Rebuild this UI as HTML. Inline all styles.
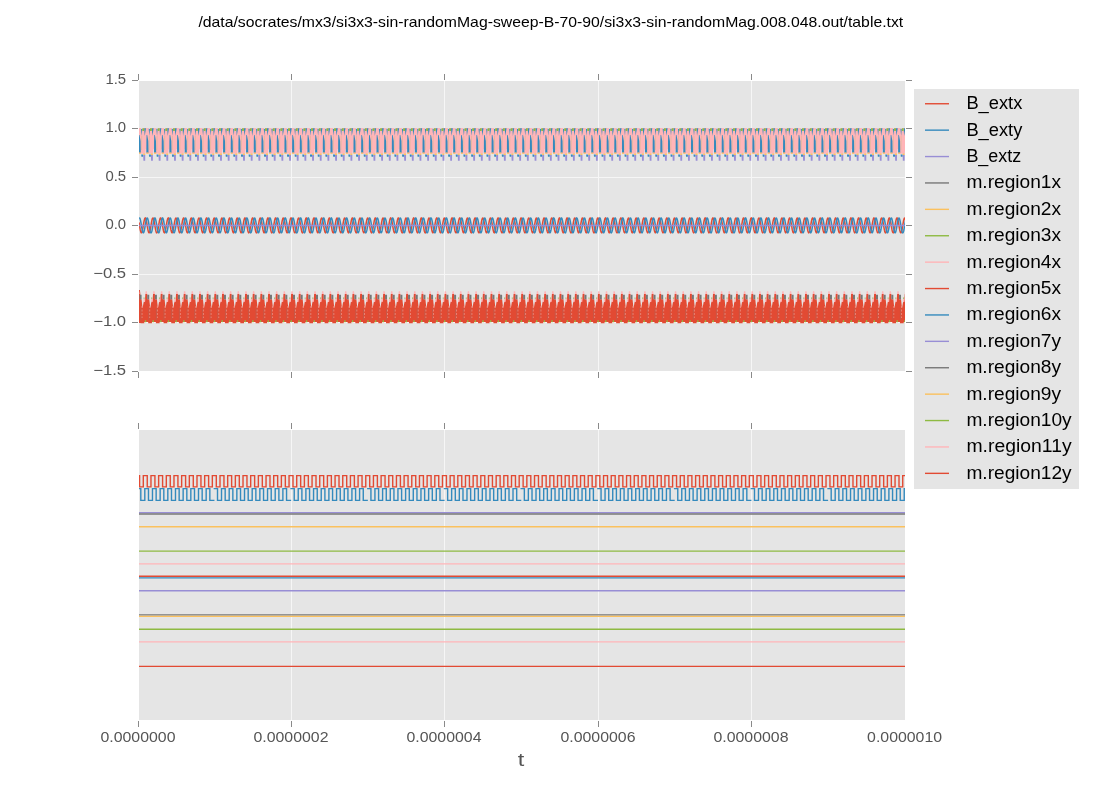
<!DOCTYPE html><html><head><meta charset="utf-8"><style>html,body{margin:0;padding:0;background:#fff;overflow:hidden}svg{display:block}text{font-family:"Liberation Sans",sans-serif}svg{will-change:transform}</style></head><body>
<svg width="1100" height="800" viewBox="0 0 1100 800">
<rect x="0" y="0" width="1100" height="800" fill="#fff"/>
<defs><clipPath id="c1"><rect x="139" y="81" width="766" height="290"/></clipPath><clipPath id="c2"><rect x="139" y="430" width="766" height="290"/></clipPath></defs>
<text x="550.8" y="26.5" font-size="14.6" fill="#000" text-anchor="middle" textLength="704.8" lengthAdjust="spacingAndGlyphs">/data/socrates/mx3/si3x3-sin-randomMag-sweep-B-70-90/si3x3-sin-randomMag.008.048.out/table.txt</text>
<rect x="139" y="81" width="766" height="290" fill="#E5E5E5"/>
<path d="M139 128.5H905M139 177.5H905M139 225.5H905M139 274.5H905M139 322.5H905M291.5 81V371M444.5 81V371M598.5 81V371M751.5 81V371" stroke="#F6F6F6" stroke-width="1" fill="none"/>
<g clip-path="url(#c1)">
<polyline points="139,222.45 139.25,223.9 139.5,225.4 139.75,226.9 140,228.35 140.25,229.67 140.5,230.81 140.75,231.72 141,232.37 141.25,232.73 141.5,232.78 141.75,232.53 142,231.97 142.25,231.15 142.5,230.08 142.75,228.81 143,227.41 143.25,225.92 143.5,224.41 143.75,222.94 144,221.57 144.25,220.36 144.5,219.36 144.75,218.62 145,218.16 145.25,218 145.5,218.15 145.75,218.6 146,219.34 146.25,220.33 146.5,221.53 146.75,222.9 147,224.37 147.25,225.88 147.5,227.37 147.75,228.78 148,230.05 148.25,231.12 148.5,231.96 148.75,232.52 149,232.78 149.25,232.74 149.5,232.38 149.75,231.74 150,230.83 150.25,229.7 150.5,228.38 150.75,226.94 151,225.44 151.25,223.93 151.5,222.49 151.75,221.17 152,220.02 152.25,219.1 152.5,218.44 152.75,218.08 153,218.01 153.25,218.26 153.5,218.81 153.75,219.63 154,220.69 154.25,221.95 154.5,223.35 154.75,224.84 155,226.36 155.25,227.83 155.5,229.2 155.75,230.41 156,231.41 156.25,232.16 156.5,232.63 156.75,232.8 157,232.66 157.25,232.21 157.5,231.48 157.75,230.5 158,229.3 158.25,227.94 158.5,226.47 158.75,224.96 159,223.47 159.25,222.06 159.5,220.78 159.75,219.7 160,218.86 160.25,218.29 160.5,218.02 160.75,218.06 161,218.4 161.25,219.04 161.5,219.94 161.75,221.07 162,222.38 162.25,223.82 162.5,225.32 162.75,226.83 163,228.27 163.25,229.6 163.5,230.75 163.75,231.68 164,232.34 164.25,232.72 164.5,232.79 164.75,232.55 165,232.01 165.25,231.2 165.5,230.14 165.75,228.88 166,227.48 166.25,226 166.5,224.48 166.75,223.01 167,221.64 167.25,220.42 167.5,219.41 167.75,218.65 168,218.18 168.25,218 168.5,218.14 168.75,218.57 169,219.3 169.25,220.28 169.5,221.47 169.75,222.82 170,224.29 170.25,225.8 170.5,227.29 170.75,228.71 171,229.99 171.25,231.07 171.5,231.92 171.75,232.49 172,232.77 172.25,232.75 172.5,232.41 172.75,231.78 173,230.89 173.25,229.76 173.5,228.45 173.75,227.02 174,225.52 174.25,224.01 174.5,222.56 174.75,221.23 175,220.08 175.25,219.14 175.5,218.47 175.75,218.09 176,218.01 176.25,218.24 176.5,218.77 176.75,219.58 177,220.63 177.25,221.88 177.5,223.28 177.75,224.76 178,226.28 178.25,227.75 178.5,229.13 178.75,230.35 179,231.37 179.25,232.13 179.5,232.62 179.75,232.8 180,232.67 180.25,232.24 180.5,231.53 180.75,230.55 181,229.37 181.25,228.01 181.5,226.55 181.75,225.04 182,223.54 182.25,222.13 182.5,220.85 182.75,219.75 183,218.9 183.25,218.32 183.5,218.03 183.75,218.05 184,218.38 184.25,219 184.5,219.89 184.75,221.01 185,222.31 185.25,223.74 185.5,225.24 185.75,226.75 186,228.2 186.25,229.54 186.5,230.7 186.75,231.64 187,232.32 187.25,232.71 187.5,232.79 187.75,232.57 188,232.05 188.25,231.24 188.5,230.2 188.75,228.95 189,227.56 189.25,226.07 189.5,224.56 189.75,223.08 190,221.7 190.25,220.48 190.5,219.46 190.75,218.68 191,218.19 191.25,218 191.5,218.12 191.75,218.54 192,219.25 192.25,220.22 192.5,221.4 192.75,222.75 193,224.21 193.25,225.72 193.5,227.22 193.75,228.64 194,229.92 194.25,231.02 194.5,231.88 194.75,232.47 195,232.77 195.25,232.75 195.5,232.43 195.75,231.82 196,230.94 196.25,229.82 196.5,228.53 196.75,227.1 197,225.6 197.25,224.09 197.5,222.64 197.75,221.3 198,220.13 198.25,219.18 198.5,218.5 198.75,218.1 199,218.01 199.25,218.22 199.5,218.74 199.75,219.53 200,220.57 200.25,221.81 200.5,223.2 200.75,224.69 201,226.2 201.25,227.68 201.5,229.06 201.75,230.29 202,231.32 202.25,232.1 202.5,232.6 202.75,232.8 203,232.69 203.25,232.27 203.5,231.57 203.75,230.61 204,229.43 204.25,228.09 204.5,226.63 204.75,225.12 205,223.62 205.25,222.2 205.5,220.91 205.75,219.81 206,218.94 206.25,218.34 206.5,218.04 206.75,218.04 207,218.35 207.25,218.96 207.5,219.84 207.75,220.94 208,222.24 208.25,223.66 208.5,225.16 208.75,226.67 209,228.13 209.25,229.47 209.5,230.64 209.75,231.59 210,232.29 210.25,232.69 210.5,232.8 210.75,232.59 211,232.08 211.25,231.29 211.5,230.26 211.75,229.02 212,227.63 212.25,226.15 212.5,224.64 212.75,223.16 213,221.77 213.25,220.54 213.5,219.5 213.75,218.72 214,218.21 214.25,218 214.5,218.11 214.75,218.51 215,219.21 215.25,220.16 215.5,221.34 215.75,222.68 216,224.13 216.25,225.64 216.5,227.14 216.75,228.57 217,229.86 217.25,230.97 217.5,231.84 217.75,232.45 218,232.76 218.25,232.76 218.5,232.46 218.75,231.86 219,230.99 219.25,229.89 219.5,228.6 219.75,227.17 220,225.68 220.25,224.17 220.5,222.71 220.75,221.36 221,220.19 221.25,219.23 221.5,218.53 221.75,218.11 222,218 222.25,218.2 222.5,218.7 222.75,219.48 223,220.51 223.25,221.74 223.5,223.13 223.75,224.61 224,226.12 224.25,227.6 224.5,228.99 224.75,230.23 225,231.27 225.25,232.07 225.5,232.58 225.75,232.79 226,232.7 226.25,232.3 226.5,231.61 226.75,230.67 227,229.5 227.25,228.16 227.5,226.71 227.75,225.2 228,223.7 228.25,222.27 228.5,220.97 228.75,219.86 229,218.98 229.25,218.36 229.5,218.04 229.75,218.03 230,218.33 230.25,218.92 230.5,219.78 230.75,220.88 231,222.17 231.25,223.59 231.5,225.08 231.75,226.59 232,228.05 232.25,229.4 232.5,230.59 232.75,231.55 233,232.26 233.25,232.68 233.5,232.8 233.75,232.61 234,232.11 234.25,231.34 234.5,230.32 234.75,229.09 235,227.71 235.25,226.23 235.5,224.72 235.75,223.23 236,221.84 236.25,220.6 236.5,219.55 236.75,218.75 237,218.23 237.25,218.01 237.5,218.09 237.75,218.49 238,219.17 238.25,220.11 238.5,221.27 238.75,222.6 239,224.06 239.25,225.56 239.5,227.06 239.75,228.5 240,229.8 240.25,230.92 240.5,231.8 240.75,232.42 241,232.75 241.25,232.77 241.5,232.48 241.75,231.9 242,231.04 242.25,229.95 242.5,228.67 242.75,227.25 243,225.75 243.25,224.24 243.5,222.78 243.75,221.43 244,220.24 244.25,219.27 244.5,218.56 244.75,218.13 245,218 245.25,218.19 245.5,218.67 245.75,219.44 246,220.45 246.25,221.68 246.5,223.05 246.75,224.53 247,226.04 247.25,227.53 247.5,228.92 247.75,230.17 248,231.22 248.25,232.03 248.5,232.56 248.75,232.79 249,232.71 249.25,232.33 249.5,231.65 249.75,230.72 250,229.56 250.25,228.23 250.5,226.78 250.75,225.28 251,223.77 251.25,222.34 251.5,221.03 251.75,219.91 252,219.02 252.25,218.39 252.5,218.05 252.75,218.03 253,218.31 253.25,218.88 253.5,219.73 253.75,220.82 254,222.1 254.25,223.51 254.5,225.01 254.75,226.52 255,227.98 255.25,229.34 255.5,230.53 255.75,231.51 256,232.23 256.25,232.67 256.5,232.8 256.75,232.62 257,232.15 257.25,231.39 257.5,230.38 257.75,229.16 258,227.78 258.25,226.31 258.5,224.8 258.75,223.31 259,221.91 259.25,220.66 259.5,219.6 259.75,218.79 260,218.25 260.25,218.01 260.5,218.08 260.75,218.46 261,219.12 261.25,220.05 261.5,221.2 261.75,222.53 262,223.98 262.25,225.48 262.5,226.99 262.75,228.42 263,229.73 263.25,230.86 263.5,231.76 263.75,232.4 264,232.74 264.25,232.78 264.5,232.5 264.75,231.93 265,231.09 265.25,230.01 265.5,228.74 265.75,227.33 266,225.83 266.25,224.32 266.5,222.86 266.75,221.5 267,220.3 267.25,219.32 267.5,218.59 267.75,218.14 268,218 268.25,218.17 268.5,218.64 268.75,219.39 269,220.39 269.25,221.61 269.5,222.98 269.75,224.45 270,225.96 270.25,227.45 270.5,228.85 270.75,230.11 271,231.17 271.25,232 271.5,232.54 271.75,232.79 272,232.72 272.25,232.36 272.5,231.7 272.75,230.77 273,229.63 273.25,228.3 273.5,226.86 273.75,225.35 274,223.85 274.25,222.41 274.5,221.1 274.75,219.96 275,219.06 275.25,218.41 275.5,218.06 275.75,218.02 276,218.28 276.25,218.85 276.5,219.68 276.75,220.76 277,222.03 277.25,223.44 277.5,224.93 277.75,226.44 278,227.91 278.25,229.27 278.5,230.47 278.75,231.46 279,232.2 279.25,232.65 279.5,232.8 279.75,232.64 280,232.18 280.25,231.43 280.5,230.43 280.75,229.23 281,227.86 281.25,226.39 281.5,224.88 281.75,223.39 282,221.98 282.25,220.72 282.5,219.65 282.75,218.82 283,218.27 283.25,218.02 283.5,218.07 283.75,218.43 284,219.08 284.25,220 284.5,221.14 284.75,222.46 285,223.9 285.25,225.41 285.5,226.91 285.75,228.35 286,229.67 286.25,230.81 286.5,231.72 286.75,232.37 287,232.73 287.25,232.78 287.5,232.53 287.75,231.97 288,231.14 288.25,230.07 288.5,228.81 288.75,227.4 289,225.91 289.25,224.4 289.5,222.93 289.75,221.56 290,220.36 290.25,219.36 290.5,218.62 290.75,218.16 291,218 291.25,218.15 291.5,218.61 291.75,219.35 292,220.34 292.25,221.54 292.5,222.9 292.75,224.37 293,225.88 293.25,227.38 293.5,228.78 293.75,230.05 294,231.13 294.25,231.96 294.5,232.52 294.75,232.78 295,232.73 295.25,232.38 295.5,231.74 295.75,230.83 296,229.69 296.25,228.38 296.5,226.94 296.75,225.43 297,223.93 297.25,222.48 297.5,221.16 297.75,220.02 298,219.1 298.25,218.44 298.5,218.07 298.75,218.01 299,218.26 299.25,218.81 299.5,219.63 299.75,220.7 300,221.96 300.25,223.36 300.5,224.85 300.75,226.36 301,227.83 301.25,229.2 301.5,230.41 301.75,231.42 302,232.17 302.25,232.63 302.5,232.8 302.75,232.66 303,232.21 303.25,231.48 303.5,230.49 303.75,229.29 304,227.93 304.25,226.47 304.5,224.95 304.75,223.46 305,222.05 305.25,220.78 305.5,219.7 305.75,218.86 306,218.29 306.25,218.02 306.5,218.06 306.75,218.4 307,219.04 307.25,219.94 307.5,221.08 307.75,222.39 308,223.82 308.25,225.33 308.5,226.83 308.75,228.28 309,229.61 309.25,230.76 309.5,231.68 309.75,232.35 310,232.72 310.25,232.79 310.5,232.55 310.75,232.01 311,231.19 311.25,230.13 311.5,228.88 311.75,227.48 312,225.99 312.25,224.48 312.5,223 312.75,221.63 313,220.41 313.25,219.41 313.5,218.65 313.75,218.17 314,218 314.25,218.14 314.5,218.58 314.75,219.3 315,220.28 315.25,221.47 315.5,222.83 315.75,224.29 316,225.81 316.25,227.3 316.5,228.71 316.75,229.99 317,231.07 317.25,231.92 317.5,232.5 317.75,232.77 318,232.74 318.25,232.41 318.5,231.78 318.75,230.88 319,229.76 319.25,228.45 319.5,227.01 319.75,225.51 320,224.01 320.25,222.56 320.5,221.23 320.75,220.07 321,219.14 321.25,218.47 321.5,218.09 321.75,218.01 322,218.24 322.25,218.77 322.5,219.58 322.75,220.64 323,221.89 323.25,223.28 323.5,224.77 323.75,226.28 324,227.76 324.25,229.14 324.5,230.36 324.75,231.37 325,232.13 325.25,232.62 325.5,232.8 325.75,232.67 326,232.24 326.25,231.52 326.5,230.55 326.75,229.36 327,228.01 327.25,226.54 327.5,225.03 327.75,223.54 328,222.12 328.25,220.84 328.5,219.75 328.75,218.9 329,218.31 329.25,218.03 329.5,218.05 329.75,218.38 330,219 330.25,219.89 330.5,221.01 330.75,222.32 331,223.75 331.25,225.25 331.5,226.76 331.75,228.21 332,229.54 332.25,230.7 332.5,231.64 332.75,232.32 333,232.71 333.25,232.79 333.5,232.57 333.75,232.04 334,231.24 334.25,230.19 334.5,228.95 334.75,227.55 335,226.07 335.25,224.56 335.5,223.08 335.75,221.7 336,220.47 336.25,219.45 336.5,218.68 336.75,218.19 337,218 337.25,218.12 337.5,218.55 337.75,219.26 338,220.22 338.25,221.41 338.5,222.76 338.75,224.22 339,225.73 339.25,227.22 339.5,228.64 339.75,229.93 340,231.02 340.25,231.88 340.5,232.47 340.75,232.77 341,232.75 341.25,232.43 341.5,231.82 341.75,230.93 342,229.82 342.25,228.52 342.5,227.09 342.75,225.59 343,224.08 343.25,222.63 343.5,221.29 343.75,220.13 344,219.18 344.25,218.5 344.5,218.1 344.75,218.01 345,218.22 345.25,218.74 345.5,219.54 345.75,220.58 346,221.82 346.25,223.21 346.5,224.69 346.75,226.2 347,227.68 347.25,229.07 347.5,230.3 347.75,231.32 348,232.1 348.25,232.6 348.5,232.8 348.75,232.69 349,232.27 349.25,231.57 349.5,230.61 349.75,229.43 350,228.08 350.25,226.62 350.5,225.11 350.75,223.61 351,222.19 351.25,220.9 351.5,219.8 351.75,218.93 352,218.34 352.25,218.04 352.5,218.04 352.75,218.36 353,218.96 353.25,219.84 353.5,220.95 353.75,222.24 354,223.67 354.25,225.17 354.5,226.68 354.75,228.13 355,229.48 355.25,230.65 355.5,231.6 355.75,232.29 356,232.7 356.25,232.8 356.5,232.59 356.75,232.08 357,231.29 357.25,230.25 357.5,229.02 357.75,227.63 358,226.15 358.25,224.63 358.5,223.15 358.75,221.77 359,220.53 359.25,219.5 359.5,218.72 359.75,218.21 360,218 360.25,218.11 360.5,218.52 360.75,219.21 361,220.17 361.25,221.34 361.5,222.68 361.75,224.14 362,225.65 362.25,227.15 362.5,228.57 362.75,229.87 363,230.97 363.25,231.85 363.5,232.45 363.75,232.76 364,232.76 364.25,232.46 364.5,231.86 364.75,230.99 365,229.88 365.25,228.59 365.5,227.17 365.75,225.67 366,224.16 366.25,222.7 366.5,221.36 366.75,220.18 367,219.22 367.25,218.52 367.5,218.11 367.75,218 368,218.2 368.25,218.71 368.5,219.49 368.75,220.52 369,221.75 369.25,223.13 369.5,224.61 369.75,226.13 370,227.61 370.25,229 370.5,230.24 370.75,231.28 371,232.07 371.25,232.58 371.5,232.79 371.75,232.7 372,232.3 372.25,231.61 372.5,230.66 372.75,229.49 373,228.15 373.25,226.7 373.5,225.19 373.75,223.69 374,222.26 374.25,220.97 374.5,219.85 374.75,218.97 375,218.36 375.25,218.04 375.5,218.03 375.75,218.33 376,218.92 376.25,219.79 376.5,220.89 376.75,222.17 377,223.59 377.25,225.09 377.5,226.6 377.75,228.06 378,229.41 378.25,230.59 378.5,231.55 378.75,232.26 379,232.68 379.25,232.8 379.5,232.6 379.75,232.11 380,231.34 380.25,230.31 380.5,229.09 380.75,227.7 381,226.23 381.25,224.71 381.5,223.23 381.75,221.84 382,220.59 382.25,219.55 382.5,218.75 382.75,218.23 383,218.01 383.25,218.09 383.5,218.49 383.75,219.17 384,220.11 384.25,221.27 384.5,222.61 384.75,224.06 385,225.57 385.25,227.07 385.5,228.5 385.75,229.8 386,230.92 386.25,231.81 386.5,232.43 386.75,232.75 387,232.77 387.25,232.48 387.5,231.89 387.75,231.04 388,229.95 388.25,228.66 388.5,227.24 388.75,225.75 389,224.24 389.25,222.78 389.5,221.42 389.75,220.24 390,219.27 390.25,218.55 390.5,218.13 390.75,218 391,218.19 391.25,218.67 391.5,219.44 391.75,220.46 392,221.68 392.25,223.06 392.5,224.54 392.75,226.05 393,227.53 393.25,228.93 393.5,230.18 393.75,231.23 394,232.03 394.25,232.56 394.5,232.79 394.75,232.71 395,232.33 395.25,231.65 395.5,230.72 395.75,229.56 396,228.23 396.25,226.78 396.5,225.27 396.75,223.77 397,222.33 397.25,221.03 397.5,219.91 397.75,219.01 398,218.39 398.25,218.05 398.5,218.03 398.75,218.31 399,218.89 399.25,219.74 399.5,220.82 399.75,222.1 400,223.52 400.25,225.01 400.5,226.52 400.75,227.99 401,229.34 401.25,230.53 401.5,231.51 401.75,232.23 402,232.67 402.25,232.8 402.5,232.62 402.75,232.14 403,231.38 403.25,230.37 403.5,229.15 403.75,227.78 404,226.3 404.25,224.79 404.5,223.3 404.75,221.91 405,220.65 405.25,219.6 405.5,218.78 405.75,218.25 406,218.01 406.25,218.08 406.5,218.46 406.75,219.13 407,220.06 407.25,221.21 407.5,222.54 407.75,223.98 408,225.49 408.25,226.99 408.5,228.43 408.75,229.74 409,230.87 409.25,231.77 409.5,232.4 409.75,232.74 410,232.78 410.25,232.5 410.5,231.93 410.75,231.09 411,230.01 411.25,228.73 411.5,227.32 411.75,225.83 412,224.32 412.25,222.85 412.5,221.49 412.75,220.29 413,219.31 413.25,218.58 413.5,218.14 413.75,218 414,218.17 414.25,218.64 414.5,219.39 414.75,220.4 415,221.61 415.25,222.98 415.5,224.46 415.75,225.97 416,227.46 416.25,228.86 416.5,230.12 416.75,231.18 417,232 417.25,232.54 417.5,232.79 417.75,232.72 418,232.35 418.25,231.69 418.5,230.77 418.75,229.62 419,228.3 419.25,226.85 419.5,225.35 419.75,223.84 420,222.41 420.25,221.09 420.5,219.96 420.75,219.05 421,218.41 421.25,218.06 421.5,218.02 421.75,218.29 422,218.85 422.25,219.69 422.5,220.76 422.75,222.03 423,223.44 423.25,224.93 423.5,226.45 423.75,227.91 424,229.28 424.25,230.48 424.5,231.47 424.75,232.2 425,232.65 425.25,232.8 425.5,232.64 425.75,232.18 426,231.43 426.25,230.43 426.5,229.22 426.75,227.85 427,226.38 427.25,224.87 427.5,223.38 427.75,221.97 428,220.71 428.25,219.65 428.5,218.82 428.75,218.27 429,218.02 429.25,218.07 429.5,218.43 429.75,219.09 430,220 430.25,221.14 430.5,222.46 430.75,223.91 431,225.41 431.25,226.92 431.5,228.36 431.75,229.68 432,230.81 432.25,231.73 432.5,232.38 432.75,232.73 433,232.78 433.25,232.52 433.5,231.97 433.75,231.14 434,230.07 434.25,228.8 434.5,227.4 434.75,225.91 435,224.39 435.25,222.92 435.5,221.56 435.75,220.35 436,219.36 436.25,218.61 436.5,218.16 436.75,218 437,218.15 437.25,218.61 437.5,219.35 437.75,220.34 438,221.54 438.25,222.91 438.5,224.38 438.75,225.89 439,227.38 439.25,228.79 439.5,230.06 439.75,231.13 440,231.96 440.25,232.52 440.5,232.78 440.75,232.73 441,232.38 441.25,231.73 441.5,230.82 441.75,229.69 442,228.37 442.25,226.93 442.5,225.43 442.75,223.92 443,222.48 443.25,221.16 443.5,220.01 443.75,219.09 444,218.44 444.25,218.07 444.5,218.02 444.75,218.27 445,218.81 445.25,219.64 445.5,220.7 445.75,221.96 446,223.37 446.25,224.85 446.5,226.37 446.75,227.84 447,229.21 447.25,230.42 447.5,231.42 447.75,232.17 448,232.64 448.25,232.8 448.5,232.65 448.75,232.21 449,231.47 449.25,230.49 449.5,229.29 449.75,227.93 450,226.46 450.25,224.95 450.5,223.46 450.75,222.04 451,220.77 451.25,219.7 451.5,218.86 451.75,218.29 452,218.02 452.25,218.06 452.5,218.41 452.75,219.05 453,219.95 453.25,221.08 453.5,222.39 453.75,223.83 454,225.33 454.25,226.84 454.5,228.29 454.75,229.61 455,230.76 455.25,231.69 455.5,232.35 455.75,232.72 456,232.79 456.25,232.55 456.5,232 456.75,231.19 457,230.13 457.25,228.87 457.5,227.47 457.75,225.98 458,224.47 458.25,223 458.5,221.63 458.75,220.41 459,219.4 459.25,218.65 459.5,218.17 459.75,218 460,218.14 460.25,218.58 460.5,219.3 460.75,220.28 461,221.48 461.25,222.84 461.5,224.3 461.75,225.81 462,227.31 462.25,228.72 462.5,230 462.75,231.08 463,231.92 463.25,232.5 463.5,232.78 463.75,232.74 464,232.41 464.25,231.77 464.5,230.88 464.75,229.75 465,228.44 465.25,227.01 465.5,225.51 465.75,224 466,222.55 466.25,221.22 466.5,220.07 466.75,219.14 467,218.47 467.25,218.09 467.5,218.01 467.75,218.24 468,218.78 468.25,219.59 468.5,220.64 468.75,221.89 469,223.29 469.25,224.78 469.5,226.29 469.75,227.76 470,229.14 470.25,230.36 470.5,231.37 470.75,232.14 471,232.62 471.25,232.8 471.5,232.67 471.75,232.24 472,231.52 472.25,230.54 472.5,229.36 472.75,228 473,226.54 473.25,225.03 473.5,223.53 473.75,222.12 474,220.84 474.25,219.75 474.5,218.89 474.75,218.31 475,218.03 475.25,218.05 475.5,218.38 475.75,219.01 476,219.9 476.25,221.02 476.5,222.32 476.75,223.75 477,225.25 477.25,226.76 477.5,228.21 477.75,229.55 478,230.71 478.25,231.64 478.5,232.32 478.75,232.71 479,232.79 479.25,232.57 479.5,232.04 479.75,231.24 480,230.19 480.25,228.94 480.5,227.55 480.75,226.06 481,224.55 481.25,223.07 481.5,221.69 481.75,220.47 482,219.45 482.25,218.68 482.5,218.19 482.75,218 483,218.12 483.25,218.55 483.5,219.26 483.75,220.23 484,221.41 484.25,222.76 484.5,224.22 484.75,225.73 485,227.23 485.25,228.65 485.5,229.93 485.75,231.03 486,231.89 486.25,232.48 486.5,232.77 486.75,232.75 487,232.43 487.25,231.81 487.5,230.93 487.75,229.82 488,228.52 488.25,227.09 488.5,225.58 488.75,224.08 489,222.62 489.25,221.29 489.5,220.12 489.75,219.18 490,218.49 490.25,218.1 490.5,218.01 490.75,218.22 491,218.74 491.25,219.54 491.5,220.58 491.75,221.82 492,223.21 492.25,224.7 492.5,226.21 492.75,227.69 493,229.07 493.25,230.3 493.5,231.33 493.75,232.1 494,232.6 494.25,232.8 494.5,232.68 494.75,232.27 495,231.56 495.25,230.6 495.5,229.42 495.75,228.07 496,226.62 496.25,225.11 496.5,223.61 496.75,222.19 497,220.9 497.25,219.8 497.5,218.93 497.75,218.34 498,218.04 498.25,218.04 498.5,218.36 498.75,218.97 499,219.84 499.25,220.95 499.5,222.25 499.75,223.68 500,225.18 500.25,226.68 500.5,228.14 500.75,229.48 501,230.65 501.25,231.6 501.5,232.29 501.75,232.7 502,232.79 502.25,232.58 502.5,232.07 502.75,231.28 503,230.25 503.25,229.01 503.5,227.62 503.75,226.14 504,224.63 504.25,223.15 504.5,221.76 504.75,220.53 505,219.5 505.25,218.71 505.5,218.21 505.75,218 506,218.11 506.25,218.52 506.5,219.22 506.75,220.17 507,221.35 507.25,222.69 507.5,224.15 507.75,225.65 508,227.15 508.25,228.58 508.5,229.87 508.75,230.98 509,231.85 509.25,232.45 509.5,232.76 509.75,232.76 510,232.46 510.25,231.85 510.5,230.98 510.75,229.88 511,228.59 511.25,227.16 511.5,225.66 511.75,224.15 512,222.7 512.25,221.35 512.5,220.18 512.75,219.22 513,218.52 513.25,218.11 513.5,218 513.75,218.21 514,218.71 514.25,219.49 514.5,220.52 514.75,221.75 515,223.14 515.25,224.62 515.5,226.13 515.75,227.61 516,229 516.25,230.24 516.5,231.28 516.75,232.07 517,232.58 517.25,232.79 517.5,232.7 517.75,232.3 518,231.61 518.25,230.66 518.5,229.49 518.75,228.15 519,226.69 519.25,225.18 519.5,223.69 519.75,222.26 520,220.96 520.25,219.85 520.5,218.97 520.75,218.36 521,218.04 521.25,218.03 521.5,218.33 521.75,218.93 522,219.79 522.25,220.89 522.5,222.18 522.75,223.6 523,225.1 523.25,226.61 523.5,228.07 523.75,229.41 524,230.59 524.25,231.56 524.5,232.26 524.75,232.68 525,232.8 525.25,232.6 525.5,232.11 525.75,231.33 526,230.31 526.25,229.08 526.5,227.7 526.75,226.22 527,224.71 527.25,223.22 527.5,221.83 527.75,220.59 528,219.54 528.25,218.75 528.5,218.23 528.75,218.01 529,218.1 529.25,218.49 529.5,219.17 529.75,220.12 530,221.28 530.25,222.62 530.5,224.07 530.75,225.58 531,227.08 531.25,228.51 531.5,229.81 531.75,230.92 532,231.81 532.25,232.43 532.5,232.75 532.75,232.77 533,232.48 533.25,231.89 533.5,231.03 533.75,229.94 534,228.66 534.25,227.24 534.5,225.74 534.75,224.23 535,222.77 535.25,221.42 535.5,220.23 535.75,219.26 536,218.55 536.25,218.12 536.5,218 536.75,218.19 537,218.68 537.25,219.44 537.5,220.46 537.75,221.69 538,223.06 538.25,224.54 538.5,226.05 538.75,227.54 539,228.93 539.25,230.18 539.5,231.23 539.75,232.04 540,232.56 540.25,232.79 540.5,232.71 540.75,232.32 541,231.65 541.25,230.71 541.5,229.55 541.75,228.22 542,226.77 542.25,225.26 542.5,223.76 542.75,222.33 543,221.02 543.25,219.9 543.5,219.01 543.75,218.38 544,218.05 544.25,218.03 544.5,218.31 544.75,218.89 545,219.74 545.25,220.83 545.5,222.11 545.75,223.52 546,225.02 546.25,226.53 546.5,227.99 546.75,229.35 547,230.54 547.25,231.51 547.5,232.23 547.75,232.67 548,232.8 548.25,232.62 548.5,232.14 548.75,231.38 549,230.37 549.25,229.15 549.5,227.77 549.75,226.3 550,224.79 550.25,223.3 550.5,221.9 550.75,220.65 551,219.59 551.25,218.78 551.5,218.25 551.75,218.01 552,218.08 552.25,218.46 552.5,219.13 552.75,220.06 553,221.21 553.25,222.54 553.5,223.99 553.75,225.5 554,227 554.25,228.44 554.5,229.74 554.75,230.87 555,231.77 555.25,232.4 555.5,232.74 555.75,232.78 556,232.5 556.25,231.93 556.5,231.08 556.75,230 557,228.73 557.25,227.31 557.5,225.82 557.75,224.31 558,222.84 558.25,221.49 558.5,220.29 558.75,219.31 559,218.58 559.25,218.14 559.5,218 559.75,218.17 560,218.64 560.25,219.4 560.5,220.4 560.75,221.62 561,222.99 561.25,224.46 561.5,225.98 561.75,227.46 562,228.87 562.25,230.12 562.5,231.18 562.75,232 563,232.54 563.25,232.79 563.5,232.72 563.75,232.35 564,231.69 564.25,230.77 564.5,229.62 564.75,228.29 565,226.85 565.25,225.34 565.5,223.84 565.75,222.4 566,221.09 566.25,219.95 566.5,219.05 566.75,218.41 567,218.06 567.25,218.02 567.5,218.29 567.75,218.85 568,219.69 568.25,220.77 568.5,222.04 568.75,223.45 569,224.94 569.25,226.45 569.5,227.92 569.75,229.28 570,230.48 570.25,231.47 570.5,232.2 570.75,232.65 571,232.8 571.25,232.64 571.5,232.17 571.75,231.43 572,230.43 572.25,229.22 572.5,227.85 572.75,226.38 573,224.86 573.25,223.37 573.5,221.97 573.75,220.71 574,219.64 574.25,218.82 574.5,218.27 574.75,218.02 575,218.07 575.25,218.44 575.5,219.09 575.75,220.01 576,221.15 576.25,222.47 576.5,223.91 576.75,225.42 577,226.92 577.25,228.36 577.5,229.68 577.75,230.82 578,231.73 578.25,232.38 578.5,232.73 578.75,232.78 579,232.52 579.25,231.97 579.5,231.13 579.75,230.06 580,228.8 580.25,227.39 580.5,225.9 580.75,224.39 581,222.92 581.25,221.55 581.5,220.35 581.75,219.35 582,218.61 582.25,218.15 582.5,218 582.75,218.15 583,218.61 583.25,219.35 583.5,220.35 583.75,221.55 584,222.92 584.25,224.38 584.5,225.9 584.75,227.39 585,228.8 585.25,230.06 585.5,231.13 585.75,231.96 586,232.52 586.25,232.78 586.5,232.73 586.75,232.38 587,231.73 587.25,230.82 587.5,229.68 587.75,228.37 588,226.93 588.25,225.42 588.5,223.92 588.75,222.47 589,221.15 589.25,220.01 589.5,219.09 589.75,218.44 590,218.07 590.25,218.02 590.5,218.27 590.75,218.82 591,219.64 591.25,220.71 591.5,221.97 591.75,223.37 592,224.86 592.25,226.37 592.5,227.84 592.75,229.21 593,230.42 593.25,231.42 593.5,232.17 593.75,232.64 594,232.8 594.25,232.65 594.5,232.2 594.75,231.47 595,230.48 595.25,229.28 595.5,227.92 595.75,226.45 596,224.94 596.25,223.45 596.5,222.04 596.75,220.77 597,219.69 597.25,218.85 597.5,218.29 597.75,218.02 598,218.06 598.25,218.41 598.5,219.05 598.75,219.95 599,221.09 599.25,222.4 599.5,223.84 599.75,225.34 600,226.85 600.25,228.29 600.5,229.62 600.75,230.76 601,231.69 601.25,232.35 601.5,232.72 601.75,232.79 602,232.54 602.25,232 602.5,231.18 602.75,230.12 603,228.87 603.25,227.47 603.5,225.98 603.75,224.47 604,222.99 604.25,221.62 604.5,220.41 604.75,219.4 605,218.64 605.25,218.17 605.5,218 605.75,218.14 606,218.58 606.25,219.31 606.5,220.29 606.75,221.48 607,222.84 607.25,224.31 607.5,225.82 607.75,227.31 608,228.73 608.25,230 608.5,231.08 608.75,231.93 609,232.5 609.25,232.78 609.5,232.74 609.75,232.4 610,231.77 610.25,230.87 610.5,229.75 610.75,228.44 611,227 611.25,225.5 611.5,223.99 611.75,222.55 612,221.22 612.25,220.06 612.5,219.13 612.75,218.46 613,218.08 613.25,218.01 613.5,218.25 613.75,218.78 614,219.59 614.25,220.64 614.5,221.9 614.75,223.3 615,224.78 615.25,226.29 615.5,227.77 615.75,229.15 616,230.37 616.25,231.38 616.5,232.14 616.75,232.62 617,232.8 617.25,232.67 617.5,232.23 617.75,231.52 618,230.54 618.25,229.35 618.5,228 618.75,226.53 619,225.02 619.25,223.53 619.5,222.11 619.75,220.83 620,219.74 620.25,218.89 620.5,218.31 620.75,218.03 621,218.05 621.25,218.38 621.5,219.01 621.75,219.9 622,221.02 622.25,222.33 622.5,223.76 622.75,225.26 623,226.77 623.25,228.22 623.5,229.55 623.75,230.71 624,231.65 624.25,232.32 624.5,232.71 624.75,232.79 625,232.56 625.25,232.04 625.5,231.23 625.75,230.19 626,228.94 626.25,227.54 626.5,226.06 626.75,224.54 627,223.07 627.25,221.69 627.5,220.46 627.75,219.45 628,218.68 628.25,218.19 628.5,218 628.75,218.12 629,218.55 629.25,219.26 629.5,220.23 629.75,221.42 630,222.77 630.25,224.23 630.5,225.74 630.75,227.24 631,228.65 631.25,229.94 631.5,231.03 631.75,231.89 632,232.48 632.25,232.77 632.5,232.75 632.75,232.43 633,231.81 633.25,230.93 633.5,229.81 633.75,228.51 634,227.08 634.25,225.58 634.5,224.07 634.75,222.62 635,221.28 635.25,220.12 635.5,219.17 635.75,218.49 636,218.1 636.25,218.01 636.5,218.23 636.75,218.75 637,219.54 637.25,220.58 637.5,221.83 637.75,223.22 638,224.7 638.25,226.22 638.5,227.7 638.75,229.08 639,230.31 639.25,231.33 639.5,232.11 639.75,232.6 640,232.8 640.25,232.68 640.5,232.26 640.75,231.56 641,230.6 641.25,229.42 641.5,228.07 641.75,226.61 642,225.1 642.25,223.6 642.5,222.18 642.75,220.89 643,219.79 643.25,218.93 643.5,218.33 643.75,218.03 644,218.04 644.25,218.36 644.5,218.97 644.75,219.85 645,220.96 645.25,222.25 645.5,223.68 645.75,225.18 646,226.69 646.25,228.15 646.5,229.49 646.75,230.65 647,231.6 647.25,232.29 647.5,232.7 647.75,232.79 648,232.58 648.25,232.07 648.5,231.28 648.75,230.25 649,229.01 649.25,227.62 649.5,226.14 649.75,224.62 650,223.14 650.25,221.76 650.5,220.52 650.75,219.49 651,218.71 651.25,218.21 651.5,218 651.75,218.11 652,218.52 652.25,219.22 652.5,220.18 652.75,221.35 653,222.69 653.25,224.15 653.5,225.66 653.75,227.16 654,228.58 654.25,229.88 654.5,230.98 654.75,231.85 655,232.45 655.25,232.76 655.5,232.76 655.75,232.45 656,231.85 656.25,230.98 656.5,229.87 656.75,228.58 657,227.16 657.25,225.66 657.5,224.15 657.75,222.69 658,221.35 658.25,220.17 658.5,219.22 658.75,218.52 659,218.11 659.25,218 659.5,218.21 659.75,218.71 660,219.49 660.25,220.53 660.5,221.76 660.75,223.15 661,224.63 661.25,226.14 661.5,227.62 661.75,229.01 662,230.25 662.25,231.28 662.5,232.07 662.75,232.58 663,232.79 663.25,232.7 663.5,232.29 663.75,231.6 664,230.65 664.25,229.48 664.5,228.14 664.75,226.69 665,225.18 665.25,223.68 665.5,222.25 665.75,220.96 666,219.85 666.25,218.97 666.5,218.36 666.75,218.04 667,218.03 667.25,218.33 667.5,218.93 667.75,219.8 668,220.9 668.25,222.18 668.5,223.61 668.75,225.1 669,226.61 669.25,228.07 669.5,229.42 669.75,230.6 670,231.56 670.25,232.27 670.5,232.68 670.75,232.8 671,232.6 671.25,232.11 671.5,231.33 671.75,230.3 672,229.08 672.25,227.69 672.5,226.21 672.75,224.7 673,223.22 673.25,221.83 673.5,220.58 673.75,219.54 674,218.74 674.25,218.23 674.5,218.01 674.75,218.1 675,218.49 675.25,219.18 675.5,220.12 675.75,221.28 676,222.62 676.25,224.07 676.5,225.58 676.75,227.08 677,228.51 677.25,229.81 677.5,230.93 677.75,231.81 678,232.43 678.25,232.75 678.5,232.77 678.75,232.48 679,231.89 679.25,231.03 679.5,229.94 679.75,228.65 680,227.23 680.25,225.74 680.5,224.23 680.75,222.76 681,221.41 681.25,220.23 681.5,219.26 681.75,218.55 682,218.12 682.25,218 682.5,218.19 682.75,218.68 683,219.45 683.25,220.47 683.5,221.69 683.75,223.07 684,224.55 684.25,226.06 684.5,227.54 684.75,228.94 685,230.19 685.25,231.23 685.5,232.04 685.75,232.56 686,232.79 686.25,232.71 686.5,232.32 686.75,231.65 687,230.71 687.25,229.55 687.5,228.22 687.75,226.77 688,225.26 688.25,223.76 688.5,222.32 688.75,221.02 689,219.9 689.25,219.01 689.5,218.38 689.75,218.05 690,218.03 690.25,218.31 690.5,218.89 690.75,219.74 691,220.83 691.25,222.11 691.5,223.53 691.75,225.02 692,226.54 692.25,228 692.5,229.35 692.75,230.54 693,231.52 693.25,232.24 693.5,232.67 693.75,232.8 694,232.62 694.25,232.14 694.5,231.38 694.75,230.36 695,229.14 695.25,227.77 695.5,226.29 695.75,224.78 696,223.29 696.25,221.89 696.5,220.64 696.75,219.59 697,218.78 697.25,218.25 697.5,218.01 697.75,218.08 698,218.46 698.25,219.13 698.5,220.07 698.75,221.22 699,222.55 699.25,224 699.5,225.5 699.75,227.01 700,228.44 700.25,229.75 700.5,230.88 700.75,231.77 701,232.4 701.25,232.74 701.5,232.78 701.75,232.5 702,231.93 702.25,231.08 702.5,230 702.75,228.72 703,227.31 703.25,225.81 703.5,224.3 703.75,222.84 704,221.48 704.25,220.29 704.5,219.31 704.75,218.58 705,218.14 705.25,218 705.5,218.17 705.75,218.65 706,219.4 706.25,220.41 706.5,221.62 706.75,223 707,224.47 707.25,225.98 707.5,227.47 707.75,228.87 708,230.13 708.25,231.19 708.5,232 708.75,232.54 709,232.79 709.25,232.72 709.5,232.35 709.75,231.69 710,230.76 710.25,229.61 710.5,228.29 710.75,226.84 711,225.34 711.25,223.83 711.5,222.4 711.75,221.08 712,219.95 712.25,219.05 712.5,218.41 712.75,218.06 713,218.02 713.25,218.29 713.5,218.86 713.75,219.69 714,220.77 714.25,222.04 714.5,223.45 714.75,224.95 715,226.46 715.25,227.92 715.5,229.29 715.75,230.49 716,231.47 716.25,232.21 716.5,232.65 716.75,232.8 717,232.64 717.25,232.17 717.5,231.42 717.75,230.42 718,229.21 718.25,227.84 718.5,226.37 718.75,224.86 719,223.37 719.25,221.96 719.5,220.7 719.75,219.64 720,218.81 720.25,218.27 720.5,218.02 720.75,218.07 721,218.44 721.25,219.09 721.5,220.01 721.75,221.15 722,222.48 722.25,223.92 722.5,225.42 722.75,226.93 723,228.37 723.25,229.69 723.5,230.82 723.75,231.73 724,232.38 724.25,232.73 724.5,232.78 724.75,232.52 725,231.96 725.25,231.13 725.5,230.06 725.75,228.79 726,227.38 726.25,225.89 726.5,224.38 726.75,222.91 727,221.55 727.25,220.34 727.5,219.35 727.75,218.61 728,218.15 728.25,218 728.5,218.16 728.75,218.61 729,219.36 729.25,220.35 729.5,221.56 729.75,222.92 730,224.39 730.25,225.9 730.5,227.39 730.75,228.8 731,230.07 731.25,231.14 731.5,231.97 731.75,232.52 732,232.78 732.25,232.73 732.5,232.38 732.75,231.73 733,230.82 733.25,229.68 733.5,228.36 733.75,226.92 734,225.42 734.25,223.91 734.5,222.47 734.75,221.15 735,220 735.25,219.09 735.5,218.43 735.75,218.07 736,218.02 736.25,218.27 736.5,218.82 736.75,219.64 737,220.71 737.25,221.97 737.5,223.38 737.75,224.87 738,226.38 738.25,227.85 738.5,229.22 738.75,230.43 739,231.43 739.25,232.17 739.5,232.64 739.75,232.8 740,232.65 740.25,232.2 740.5,231.47 740.75,230.48 741,229.28 741.25,227.92 741.5,226.45 741.75,224.94 742,223.44 742.25,222.03 742.5,220.76 742.75,219.69 743,218.85 743.25,218.29 743.5,218.02 743.75,218.06 744,218.41 744.25,219.05 744.5,219.96 744.75,221.09 745,222.4 745.25,223.84 745.5,225.35 745.75,226.85 746,228.3 746.25,229.62 746.5,230.77 746.75,231.69 747,232.35 747.25,232.72 747.5,232.79 747.75,232.54 748,232 748.25,231.18 748.5,230.12 748.75,228.86 749,227.46 749.25,225.97 749.5,224.46 749.75,222.99 750,221.62 750.25,220.4 750.5,219.4 750.75,218.64 751,218.17 751.25,218 751.5,218.14 751.75,218.58 752,219.31 752.25,220.29 752.5,221.49 752.75,222.85 753,224.31 753.25,225.82 753.5,227.32 753.75,228.73 754,230 754.25,231.09 754.5,231.93 754.75,232.5 755,232.78 755.25,232.74 755.5,232.4 755.75,231.77 756,230.87 756.25,229.74 756.5,228.43 756.75,227 757,225.49 757.25,223.99 757.5,222.54 757.75,221.21 758,220.06 758.25,219.13 758.5,218.46 758.75,218.08 759,218.01 759.25,218.25 759.5,218.78 759.75,219.6 760,220.65 760.25,221.9 760.5,223.3 760.75,224.79 761,226.3 761.25,227.78 761.5,229.15 761.75,230.37 762,231.38 762.25,232.14 762.5,232.62 762.75,232.8 763,232.67 763.25,232.23 763.5,231.51 763.75,230.54 764,229.35 764.25,227.99 764.5,226.53 764.75,225.02 765,223.52 765.25,222.1 765.5,220.83 765.75,219.74 766,218.89 766.25,218.31 766.5,218.03 766.75,218.05 767,218.39 767.25,219.01 767.5,219.9 767.75,221.03 768,222.33 768.25,223.76 768.5,225.27 768.75,226.77 769,228.22 769.25,229.56 769.5,230.71 769.75,231.65 770,232.33 770.25,232.71 770.5,232.79 770.75,232.56 771,232.03 771.25,231.23 771.5,230.18 771.75,228.93 772,227.54 772.25,226.05 772.5,224.54 772.75,223.06 773,221.68 773.25,220.46 773.5,219.44 773.75,218.67 774,218.19 774.25,218 774.5,218.13 774.75,218.55 775,219.27 775.25,220.24 775.5,221.42 775.75,222.77 776,224.24 776.25,225.75 776.5,227.24 776.75,228.66 777,229.94 777.25,231.04 777.5,231.89 777.75,232.48 778,232.77 778.25,232.75 778.5,232.43 778.75,231.81 779,230.92 779.25,229.81 779.5,228.5 779.75,227.07 780,225.57 780.25,224.06 780.5,222.61 780.75,221.28 781,220.11 781.25,219.17 781.5,218.49 781.75,218.1 782,218.01 782.25,218.23 782.5,218.75 782.75,219.55 783,220.59 783.25,221.83 783.5,223.23 783.75,224.71 784,226.22 784.25,227.7 784.5,229.08 784.75,230.31 785,231.33 785.25,232.11 785.5,232.6 785.75,232.8 786,232.68 786.25,232.26 786.5,231.56 786.75,230.59 787,229.41 787.25,228.06 787.5,226.6 787.75,225.09 788,223.6 788.25,222.18 788.5,220.89 788.75,219.79 789,218.93 789.25,218.33 789.5,218.03 789.75,218.04 790,218.36 790.25,218.97 790.5,219.85 790.75,220.96 791,222.26 791.25,223.69 791.5,225.19 791.75,226.7 792,228.15 792.25,229.49 792.5,230.66 792.75,231.61 793,232.3 793.25,232.7 793.5,232.79 793.75,232.58 794,232.07 794.25,231.28 794.5,230.24 794.75,229 795,227.61 795.25,226.13 795.5,224.62 795.75,223.14 796,221.75 796.25,220.52 796.5,219.49 796.75,218.71 797,218.21 797.25,218 797.5,218.11 797.75,218.52 798,219.22 798.25,220.18 798.5,221.36 798.75,222.7 799,224.16 799.25,225.67 799.5,227.16 799.75,228.59 800,229.88 800.25,230.98 800.5,231.86 800.75,232.46 801,232.76 801.25,232.76 801.5,232.45 801.75,231.85 802,230.97 802.25,229.87 802.5,228.58 802.75,227.15 803,225.65 803.25,224.14 803.5,222.69 803.75,221.34 804,220.17 804.25,219.21 804.5,218.52 804.75,218.11 805,218 805.25,218.21 805.5,218.71 805.75,219.5 806,220.53 806.25,221.76 806.5,223.15 806.75,224.63 807,226.14 807.25,227.63 807.5,229.01 807.75,230.25 808,231.29 808.25,232.08 808.5,232.59 808.75,232.8 809,232.7 809.25,232.29 809.5,231.6 809.75,230.65 810,229.48 810.25,228.14 810.5,226.68 810.75,225.17 811,223.67 811.25,222.25 811.5,220.95 811.75,219.84 812,218.96 812.25,218.36 812.5,218.04 812.75,218.04 813,218.34 813.25,218.93 813.5,219.8 813.75,220.9 814,222.19 814.25,223.61 814.5,225.11 814.75,226.62 815,228.08 815.25,229.42 815.5,230.6 815.75,231.56 816,232.27 816.25,232.68 816.5,232.8 816.75,232.6 817,232.1 817.25,231.33 817.5,230.3 817.75,229.07 818,227.69 818.25,226.21 818.5,224.69 818.75,223.21 819,221.82 819.25,220.58 819.5,219.54 819.75,218.74 820,218.22 820.25,218.01 820.5,218.1 820.75,218.49 821,219.18 821.25,220.12 821.5,221.29 821.75,222.63 822,224.08 822.25,225.59 822.5,227.09 822.75,228.52 823,229.82 823.25,230.93 823.5,231.82 823.75,232.43 824,232.75 824.25,232.77 824.5,232.47 824.75,231.89 825,231.03 825.25,229.93 825.5,228.65 825.75,227.23 826,225.73 826.25,224.22 826.5,222.76 826.75,221.41 827,220.23 827.25,219.26 827.5,218.55 827.75,218.12 828,218 828.25,218.19 828.5,218.68 828.75,219.45 829,220.47 829.25,221.7 829.5,223.08 829.75,224.55 830,226.07 830.25,227.55 830.5,228.95 830.75,230.19 831,231.24 831.25,232.04 831.5,232.57 831.75,232.79 832,232.71 832.25,232.32 832.5,231.64 832.75,230.7 833,229.54 833.25,228.21 833.5,226.76 833.75,225.25 834,223.75 834.25,222.32 834.5,221.01 834.75,219.89 835,219 835.25,218.38 835.5,218.05 835.75,218.03 836,218.31 836.25,218.9 836.5,219.75 836.75,220.84 837,222.12 837.25,223.54 837.5,225.03 837.75,226.54 838,228 838.25,229.36 838.5,230.55 838.75,231.52 839,232.24 839.25,232.67 839.5,232.8 839.75,232.62 840,232.14 840.25,231.37 840.5,230.36 840.75,229.14 841,227.76 841.25,226.29 841.5,224.77 841.75,223.29 842,221.89 842.25,220.64 842.5,219.59 842.75,218.78 843,218.24 843.25,218.01 843.5,218.09 843.75,218.47 844,219.14 844.25,220.07 844.5,221.22 844.75,222.55 845,224 845.25,225.51 845.5,227.01 845.75,228.45 846,229.75 846.25,230.88 846.5,231.78 846.75,232.41 847,232.74 847.25,232.78 847.5,232.5 847.75,231.92 848,231.08 848.25,229.99 848.5,228.72 848.75,227.3 849,225.81 849.25,224.3 849.5,222.83 849.75,221.48 850,220.28 850.25,219.3 850.5,218.58 850.75,218.14 851,218 851.25,218.17 851.5,218.65 851.75,219.4 852,220.41 852.25,221.63 852.5,223 852.75,224.48 853,225.99 853.25,227.48 853.5,228.88 853.75,230.13 854,231.19 854.25,232.01 854.5,232.55 854.75,232.79 855,232.72 855.25,232.35 855.5,231.68 855.75,230.76 856,229.61 856.25,228.28 856.5,226.84 856.75,225.33 857,223.83 857.25,222.39 857.5,221.08 857.75,219.95 858,219.04 858.25,218.41 858.5,218.06 858.75,218.02 859,218.29 859.25,218.86 859.5,219.7 859.75,220.78 860,222.05 860.25,223.46 860.5,224.95 860.75,226.46 861,227.93 861.25,229.29 861.5,230.49 861.75,231.48 862,232.21 862.25,232.66 862.5,232.8 862.75,232.64 863,232.17 863.25,231.42 863.5,230.42 863.75,229.21 864,227.84 864.25,226.36 864.5,224.85 864.75,223.36 865,221.96 865.25,220.7 865.5,219.63 865.75,218.81 866,218.26 866.25,218.01 866.5,218.07 866.75,218.44 867,219.1 867.25,220.01 867.5,221.16 867.75,222.48 868,223.92 868.25,225.43 868.5,226.93 868.75,228.37 869,229.69 869.25,230.83 869.5,231.74 869.75,232.38 870,232.73 870.25,232.78 870.5,232.52 870.75,231.96 871,231.13 871.25,230.05 871.5,228.79 871.75,227.38 872,225.89 872.25,224.38 872.5,222.91 872.75,221.54 873,220.34 873.25,219.35 873.5,218.61 873.75,218.15 874,218 874.25,218.16 874.5,218.62 874.75,219.36 875,220.35 875.25,221.56 875.5,222.93 875.75,224.4 876,225.91 876.25,227.4 876.5,228.81 876.75,230.07 877,231.14 877.25,231.97 877.5,232.53 877.75,232.78 878,232.73 878.25,232.37 878.5,231.73 878.75,230.81 879,229.67 879.25,228.35 879.5,226.91 879.75,225.41 880,223.9 880.25,222.46 880.5,221.14 880.75,220 881,219.08 881.25,218.43 881.5,218.07 881.75,218.02 882,218.27 882.25,218.82 882.5,219.65 882.75,220.71 883,221.98 883.25,223.38 883.5,224.87 883.75,226.39 884,227.86 884.25,229.22 884.5,230.43 884.75,231.43 885,232.18 885.25,232.64 885.5,232.8 885.75,232.65 886,232.2 886.25,231.46 886.5,230.47 886.75,229.27 887,227.91 887.25,226.44 887.5,224.93 887.75,223.44 888,222.03 888.25,220.76 888.5,219.68 888.75,218.85 889,218.29 889.25,218.02 889.5,218.06 889.75,218.41 890,219.05 890.25,219.96 890.5,221.1 890.75,222.41 891,223.85 891.25,225.35 891.5,226.86 891.75,228.3 892,229.63 892.25,230.77 892.5,231.7 892.75,232.35 893,232.72 893.25,232.79 893.5,232.54 893.75,232 894,231.18 894.25,230.12 894.5,228.86 894.75,227.45 895,225.97 895.25,224.45 895.5,222.98 895.75,221.61 896,220.4 896.25,219.39 896.5,218.64 896.75,218.17 897,218 897.25,218.14 897.5,218.59 897.75,219.31 898,220.3 898.25,221.49 898.5,222.85 898.75,224.32 899,225.83 899.25,227.32 899.5,228.74 899.75,230.01 900,231.09 900.25,231.93 900.5,232.5 900.75,232.78 901,232.74 901.25,232.4 901.5,231.77 901.75,230.87 902,229.74 902.25,228.43 902.5,226.99 902.75,225.49 903,223.98 903.25,222.53 903.5,221.21 903.75,220.05 904,219.13 904.25,218.46 904.5,218.08 904.75,218.01 905,218.25 905.25,218.79 905.5,219.6 905.75,220.65 906,221.91" fill="none" stroke="#E24A33" stroke-width="1.5"/>
<polyline points="139,218.61 139.25,218.15 139.5,218 139.75,218.15 140,218.61 140.25,219.35 140.5,220.35 140.75,221.55 141,222.92 141.25,224.39 141.5,225.9 141.75,227.39 142,228.8 142.25,230.06 142.5,231.13 142.75,231.97 143,232.52 143.25,232.78 143.5,232.73 143.75,232.38 144,231.73 144.25,230.82 144.5,229.68 144.75,228.36 145,226.92 145.25,225.42 145.5,223.91 145.75,222.47 146,221.15 146.25,220.01 146.5,219.09 146.75,218.44 147,218.07 147.25,218.02 147.5,218.27 147.75,218.82 148,219.64 148.25,220.71 148.5,221.97 148.75,223.37 149,224.86 149.25,226.37 149.5,227.85 149.75,229.21 150,230.42 150.25,231.42 150.5,232.17 150.75,232.64 151,232.8 151.25,232.65 151.5,232.2 151.75,231.47 152,230.48 152.25,229.28 152.5,227.92 152.75,226.45 153,224.94 153.25,223.45 153.5,222.04 153.75,220.77 154,219.69 154.25,218.85 154.5,218.29 154.75,218.02 155,218.06 155.25,218.41 155.5,219.05 155.75,219.95 156,221.09 156.25,222.4 156.5,223.84 156.75,225.34 157,226.85 157.25,228.29 157.5,229.62 157.75,230.77 158,231.69 158.25,232.35 158.5,232.72 158.75,232.79 159,232.54 159.25,232 159.5,231.18 159.75,230.12 160,228.87 160.25,227.46 160.5,225.98 160.75,224.46 161,222.99 161.25,221.62 161.5,220.4 161.75,219.4 162,218.64 162.25,218.17 162.5,218 162.75,218.14 163,218.58 163.25,219.31 163.5,220.29 163.75,221.48 164,222.84 164.25,224.31 164.5,225.82 164.75,227.31 165,228.73 165.25,230 165.5,231.08 165.75,231.93 166,232.5 166.25,232.78 166.5,232.74 166.75,232.4 167,231.77 167.25,230.87 167.5,229.75 167.75,228.44 168,227 168.25,225.5 168.5,223.99 168.75,222.54 169,221.22 169.25,220.06 169.5,219.13 169.75,218.46 170,218.08 170.25,218.01 170.5,218.25 170.75,218.78 171,219.59 171.25,220.65 171.5,221.9 171.75,223.3 172,224.78 172.25,226.3 172.5,227.77 172.75,229.15 173,230.37 173.25,231.38 173.5,232.14 173.75,232.62 174,232.8 174.25,232.67 174.5,232.23 174.75,231.51 175,230.54 175.25,229.35 175.5,227.99 175.75,226.53 176,225.02 176.25,223.53 176.5,222.11 176.75,220.83 177,219.74 177.25,218.89 177.5,218.31 177.75,218.03 178,218.05 178.25,218.38 178.5,219.01 178.75,219.9 179,221.02 179.25,222.33 179.5,223.76 179.75,225.26 180,226.77 180.25,228.22 180.5,229.55 180.75,230.71 181,231.65 181.25,232.32 181.5,232.71 181.75,232.79 182,232.56 182.25,232.04 182.5,231.23 182.75,230.18 183,228.94 183.25,227.54 183.5,226.06 183.75,224.54 184,223.07 184.25,221.69 184.5,220.46 184.75,219.45 185,218.68 185.25,218.19 185.5,218 185.75,218.12 186,218.55 186.25,219.26 186.5,220.23 186.75,221.42 187,222.77 187.25,224.23 187.5,225.74 187.75,227.24 188,228.66 188.25,229.94 188.5,231.03 188.75,231.89 189,232.48 189.25,232.77 189.5,232.75 189.75,232.43 190,231.81 190.25,230.93 190.5,229.81 190.75,228.51 191,227.08 191.25,225.58 191.5,224.07 191.75,222.62 192,221.28 192.25,220.12 192.5,219.17 192.75,218.49 193,218.1 193.25,218.01 193.5,218.23 193.75,218.75 194,219.54 194.25,220.59 194.5,221.83 194.75,223.22 195,224.71 195.25,226.22 195.5,227.7 195.75,229.08 196,230.31 196.25,231.33 196.5,232.11 196.75,232.6 197,232.8 197.25,232.68 197.5,232.26 197.75,231.56 198,230.6 198.25,229.42 198.5,228.07 198.75,226.61 199,225.1 199.25,223.6 199.5,222.18 199.75,220.89 200,219.79 200.25,218.93 200.5,218.33 200.75,218.03 201,218.04 201.25,218.36 201.5,218.97 201.75,219.85 202,220.96 202.25,222.26 202.5,223.68 202.75,225.18 203,226.69 203.25,228.15 203.5,229.49 203.75,230.66 204,231.61 204.25,232.3 204.5,232.7 204.75,232.79 205,232.58 205.25,232.07 205.5,231.28 205.75,230.24 206,229.01 206.25,227.62 206.5,226.13 206.75,224.62 207,223.14 207.25,221.76 207.5,220.52 207.75,219.49 208,218.71 208.25,218.21 208.5,218 208.75,218.11 209,218.52 209.25,219.22 209.5,220.18 209.75,221.35 210,222.7 210.25,224.15 210.5,225.66 210.75,227.16 211,228.59 211.25,229.88 211.5,230.98 211.75,231.85 212,232.45 212.25,232.76 212.5,232.76 212.75,232.45 213,231.85 213.25,230.98 213.5,229.87 213.75,228.58 214,227.15 214.25,225.66 214.5,224.15 214.75,222.69 215,221.35 215.25,220.17 215.5,219.22 215.75,218.52 216,218.11 216.25,218 216.5,218.21 216.75,218.71 217,219.5 217.25,220.53 217.5,221.76 217.75,223.15 218,224.63 218.25,226.14 218.5,227.62 218.75,229.01 219,230.25 219.25,231.28 219.5,232.07 219.75,232.58 220,232.79 220.25,232.7 220.5,232.29 220.75,231.6 221,230.65 221.25,229.48 221.5,228.14 221.75,226.69 222,225.18 222.25,223.68 222.5,222.25 222.75,220.95 223,219.84 223.25,218.97 223.5,218.36 223.75,218.04 224,218.04 224.25,218.34 224.5,218.93 224.75,219.8 225,220.9 225.25,222.18 225.5,223.61 225.75,225.1 226,226.61 226.25,228.07 226.5,229.42 226.75,230.6 227,231.56 227.25,232.27 227.5,232.68 227.75,232.8 228,232.6 228.25,232.1 228.5,231.33 228.75,230.3 229,229.07 229.25,227.69 229.5,226.21 229.75,224.7 230,223.22 230.25,221.82 230.5,220.58 230.75,219.54 231,218.74 231.25,218.23 231.5,218.01 231.75,218.1 232,218.49 232.25,219.18 232.5,220.12 232.75,221.29 233,222.62 233.25,224.08 233.5,225.58 233.75,227.08 234,228.51 234.25,229.81 234.5,230.93 234.75,231.81 235,232.43 235.25,232.75 235.5,232.77 235.75,232.48 236,231.89 236.25,231.03 236.5,229.93 236.75,228.65 237,227.23 237.25,225.73 237.5,224.22 237.75,222.76 238,221.41 238.25,220.23 238.5,219.26 238.75,218.55 239,218.12 239.25,218 239.5,218.19 239.75,218.68 240,219.45 240.25,220.47 240.5,221.69 240.75,223.07 241,224.55 241.25,226.06 241.5,227.55 241.75,228.94 242,230.19 242.25,231.24 242.5,232.04 242.75,232.57 243,232.79 243.25,232.71 243.5,232.32 243.75,231.64 244,230.71 244.25,229.55 244.5,228.21 244.75,226.76 245,225.26 245.25,223.75 245.5,222.32 245.75,221.02 246,219.9 246.25,219.01 246.5,218.38 246.75,218.05 247,218.03 247.25,218.31 247.5,218.89 247.75,219.75 248,220.83 248.25,222.11 248.5,223.53 248.75,225.03 249,226.54 249.25,228 249.5,229.35 249.75,230.54 250,231.52 250.25,232.24 250.5,232.67 250.75,232.8 251,232.62 251.25,232.14 251.5,231.37 251.75,230.36 252,229.14 252.25,227.77 252.5,226.29 252.75,224.78 253,223.29 253.25,221.89 253.5,220.64 253.75,219.59 254,218.78 254.25,218.24 254.5,218.01 254.75,218.08 255,218.46 255.25,219.13 255.5,220.07 255.75,221.22 256,222.55 256.25,224 256.5,225.5 256.75,227.01 257,228.44 257.25,229.75 257.5,230.88 257.75,231.77 258,232.41 258.25,232.74 258.5,232.78 258.75,232.5 259,231.93 259.25,231.08 259.5,230 259.75,228.72 260,227.31 260.25,225.81 260.5,224.3 260.75,222.84 261,221.48 261.25,220.28 261.5,219.3 261.75,218.58 262,218.14 262.25,218 262.5,218.17 262.75,218.65 263,219.4 263.25,220.41 263.5,221.62 263.75,223 264,224.47 264.25,225.98 264.5,227.47 264.75,228.87 265,230.13 265.25,231.19 265.5,232 265.75,232.54 266,232.79 266.25,232.72 266.5,232.35 266.75,231.69 267,230.76 267.25,229.61 267.5,228.29 267.75,226.84 268,225.33 268.25,223.83 268.5,222.39 268.75,221.08 269,219.95 269.25,219.05 269.5,218.41 269.75,218.06 270,218.02 270.25,218.29 270.5,218.86 270.75,219.7 271,220.77 271.25,222.04 271.5,223.45 271.75,224.95 272,226.46 272.25,227.93 272.5,229.29 272.75,230.49 273,231.47 273.25,232.21 273.5,232.65 273.75,232.8 274,232.64 274.25,232.17 274.5,231.42 274.75,230.42 275,229.21 275.25,227.84 275.5,226.37 275.75,224.86 276,223.37 276.25,221.96 276.5,220.7 276.75,219.64 277,218.81 277.25,218.27 277.5,218.02 277.75,218.07 278,218.44 278.25,219.09 278.5,220.01 278.75,221.16 279,222.48 279.25,223.92 279.5,225.43 279.75,226.93 280,228.37 280.25,229.69 280.5,230.82 280.75,231.73 281,232.38 281.25,232.73 281.5,232.78 281.75,232.52 282,231.96 282.25,231.13 282.5,230.06 282.75,228.79 283,227.38 283.25,225.89 283.5,224.38 283.75,222.91 284,221.55 284.25,220.34 284.5,219.35 284.75,218.61 285,218.15 285.25,218 285.5,218.16 285.75,218.61 286,219.36 286.25,220.35 286.5,221.56 286.75,222.92 287,224.39 287.25,225.9 287.5,227.39 287.75,228.8 288,230.07 288.25,231.14 288.5,231.97 288.75,232.52 289,232.78 289.25,232.73 289.5,232.38 289.75,231.73 290,230.82 290.25,229.68 290.5,228.36 290.75,226.92 291,225.41 291.25,223.91 291.5,222.47 291.75,221.15 292,220 292.25,219.09 292.5,218.43 292.75,218.07 293,218.02 293.25,218.27 293.5,218.82 293.75,219.65 294,220.71 294.25,221.97 294.5,223.38 294.75,224.87 295,226.38 295.25,227.85 295.5,229.22 295.75,230.43 296,231.43 296.25,232.17 296.5,232.64 296.75,232.8 297,232.65 297.25,232.2 297.5,231.47 297.75,230.48 298,229.28 298.25,227.91 298.5,226.45 298.75,224.94 299,223.44 299.25,222.03 299.5,220.76 299.75,219.69 300,218.85 300.25,218.29 300.5,218.02 300.75,218.06 301,218.41 301.25,219.05 301.5,219.96 301.75,221.09 302,222.4 302.25,223.84 302.5,225.35 302.75,226.85 303,228.3 303.25,229.62 303.5,230.77 303.75,231.69 304,232.35 304.25,232.72 304.5,232.79 304.75,232.54 305,232 305.25,231.18 305.5,230.12 305.75,228.86 306,227.46 306.25,225.97 306.5,224.46 306.75,222.99 307,221.61 307.25,220.4 307.5,219.4 307.75,218.64 308,218.17 308.25,218 308.5,218.14 308.75,218.58 309,219.31 309.25,220.29 309.5,221.49 309.75,222.85 310,224.31 310.25,225.83 310.5,227.32 310.75,228.73 311,230.01 311.25,231.09 311.5,231.93 311.75,232.5 312,232.78 312.25,232.74 312.5,232.4 312.75,231.77 313,230.87 313.25,229.74 313.5,228.43 313.75,227 314,225.49 314.25,223.99 314.5,222.54 314.75,221.21 315,220.06 315.25,219.13 315.5,218.46 315.75,218.08 316,218.01 316.25,218.25 316.5,218.78 316.75,219.6 317,220.65 317.25,221.9 317.5,223.3 317.75,224.79 318,226.3 318.25,227.78 318.5,229.15 318.75,230.37 319,231.38 319.25,232.14 319.5,232.62 319.75,232.8 320,232.67 320.25,232.23 320.5,231.51 320.75,230.53 321,229.34 321.25,227.99 321.5,226.52 321.75,225.01 322,223.52 322.25,222.1 322.5,220.82 322.75,219.74 323,218.89 323.25,218.31 323.5,218.03 323.75,218.05 324,218.39 324.25,219.01 324.5,219.9 324.75,221.03 325,222.33 325.25,223.77 325.5,225.27 325.75,226.78 326,228.23 326.25,229.56 326.5,230.71 326.75,231.65 327,232.33 327.25,232.71 327.5,232.79 327.75,232.56 328,232.03 328.25,231.23 328.5,230.18 328.75,228.93 329,227.53 329.25,226.05 329.5,224.54 329.75,223.06 330,221.68 330.25,220.46 330.5,219.44 330.75,218.67 331,218.19 331.25,218 331.5,218.13 331.75,218.55 332,219.27 332.25,220.24 332.5,221.42 332.75,222.77 333,224.24 333.25,225.75 333.5,227.24 333.75,228.66 334,229.94 334.25,231.04 334.5,231.89 334.75,232.48 335,232.77 335.25,232.75 335.5,232.43 335.75,231.81 336,230.92 336.25,229.8 336.5,228.5 336.75,227.07 337,225.57 337.25,224.06 337.5,222.61 337.75,221.28 338,220.11 338.25,219.17 338.5,218.49 338.75,218.1 339,218.01 339.25,218.23 339.5,218.75 339.75,219.55 340,220.59 340.25,221.83 340.5,223.23 340.75,224.71 341,226.22 341.25,227.7 341.5,229.08 341.75,230.31 342,231.34 342.25,232.11 342.5,232.6 342.75,232.8 343,232.68 343.25,232.26 343.5,231.56 343.75,230.59 344,229.41 344.25,228.06 344.5,226.6 344.75,225.09 345,223.6 345.25,222.17 345.5,220.89 345.75,219.79 346,218.93 346.25,218.33 346.5,218.03 346.75,218.04 347,218.36 347.25,218.97 347.5,219.85 347.75,220.96 348,222.26 348.25,223.69 348.5,225.19 348.75,226.7 349,228.15 349.25,229.49 349.5,230.66 349.75,231.61 350,232.3 350.25,232.7 350.5,232.79 350.75,232.58 351,232.07 351.25,231.28 351.5,230.24 351.75,229 352,227.61 352.25,226.13 352.5,224.62 352.75,223.14 353,221.75 353.25,220.52 353.5,219.49 353.75,218.71 354,218.2 354.25,218 354.5,218.11 354.75,218.52 355,219.22 355.25,220.18 355.5,221.36 355.75,222.7 356,224.16 356.25,225.67 356.5,227.17 356.75,228.59 357,229.88 357.25,230.99 357.5,231.86 357.75,232.46 358,232.76 358.25,232.76 358.5,232.45 358.75,231.85 359,230.97 359.25,229.87 359.5,228.57 359.75,227.15 360,225.65 360.25,224.14 360.5,222.68 360.75,221.34 361,220.17 361.25,219.21 361.5,218.52 361.75,218.11 362,218 362.25,218.21 362.5,218.71 362.75,219.5 363,220.53 363.25,221.77 363.5,223.15 363.75,224.63 364,226.15 364.25,227.63 364.5,229.02 364.75,230.25 365,231.29 365.25,232.08 365.5,232.59 365.75,232.8 366,232.7 366.25,232.29 366.5,231.6 366.75,230.65 367,229.48 367.25,228.14 367.5,226.68 367.75,225.17 368,223.67 368.25,222.24 368.5,220.95 368.75,219.84 369,218.96 369.25,218.36 369.5,218.04 369.75,218.04 370,218.34 370.25,218.93 370.5,219.8 370.75,220.9 371,222.19 371.25,223.61 371.5,225.11 371.75,226.62 372,228.08 372.25,229.43 372.5,230.6 372.75,231.57 373,232.27 373.25,232.69 373.5,232.8 373.75,232.6 374,232.1 374.25,231.32 374.5,230.3 374.75,229.07 375,227.68 375.25,226.21 375.5,224.69 375.75,223.21 376,221.82 376.25,220.58 376.5,219.54 376.75,218.74 377,218.22 377.25,218.01 377.5,218.1 377.75,218.49 378,219.18 378.25,220.13 378.5,221.29 378.75,222.63 379,224.08 379.25,225.59 379.5,227.09 379.75,228.52 380,229.82 380.25,230.93 380.5,231.82 380.75,232.43 381,232.75 381.25,232.77 381.5,232.47 381.75,231.89 382,231.02 382.25,229.93 382.5,228.65 382.75,227.23 383,225.73 383.25,224.22 383.5,222.76 383.75,221.41 384,220.22 384.25,219.26 384.5,218.55 384.75,218.12 385,218 385.25,218.19 385.5,218.68 385.75,219.45 386,220.47 386.25,221.7 386.5,223.08 386.75,224.55 387,226.07 387.25,227.55 387.5,228.95 387.75,230.19 388,231.24 388.25,232.04 388.5,232.57 388.75,232.79 389,232.71 389.25,232.32 389.5,231.64 389.75,230.7 390,229.54 390.25,228.21 390.5,226.76 390.75,225.25 391,223.75 391.25,222.32 391.5,221.01 391.75,219.89 392,219 392.25,218.38 392.5,218.05 392.75,218.03 393,218.31 393.25,218.9 393.5,219.75 393.75,220.84 394,222.12 394.25,223.54 394.5,225.03 394.75,226.54 395,228.01 395.25,229.36 395.5,230.55 395.75,231.52 396,232.24 396.25,232.67 396.5,232.8 396.75,232.62 397,232.14 397.25,231.37 397.5,230.36 397.75,229.14 398,227.76 398.25,226.28 398.5,224.77 398.75,223.29 399,221.89 399.25,220.64 399.5,219.58 399.75,218.78 400,218.24 400.25,218.01 400.5,218.09 400.75,218.47 401,219.14 401.25,220.07 401.5,221.23 401.75,222.56 402,224 402.25,225.51 402.5,227.01 402.75,228.45 403,229.76 403.25,230.88 403.5,231.78 403.75,232.41 404,232.74 404.25,232.77 404.5,232.5 404.75,231.92 405,231.08 405.25,229.99 405.5,228.72 405.75,227.3 406,225.81 406.25,224.3 406.5,222.83 406.75,221.47 407,220.28 407.25,219.3 407.5,218.58 407.75,218.14 408,218 408.25,218.17 408.5,218.65 408.75,219.41 409,220.41 409.25,221.63 409.5,223 409.75,224.48 410,225.99 410.25,227.48 410.5,228.88 410.75,230.13 411,231.19 411.25,232.01 411.5,232.55 411.75,232.79 412,232.72 412.25,232.35 412.5,231.68 412.75,230.76 413,229.61 413.25,228.28 413.5,226.83 413.75,225.33 414,223.83 414.25,222.39 414.5,221.08 414.75,219.95 415,219.04 415.25,218.41 415.5,218.06 415.75,218.02 416,218.29 416.25,218.86 416.5,219.7 416.75,220.78 417,222.05 417.25,223.46 417.5,224.95 417.75,226.46 418,227.93 418.25,229.29 418.5,230.49 418.75,231.48 419,232.21 419.25,232.66 419.5,232.8 419.75,232.63 420,232.17 420.25,231.42 420.5,230.42 420.75,229.2 421,227.83 421.25,226.36 421.5,224.85 421.75,223.36 422,221.96 422.25,220.7 422.5,219.63 422.75,218.81 423,218.26 423.25,218.01 423.5,218.07 423.75,218.44 424,219.1 424.25,220.02 424.5,221.16 424.75,222.48 425,223.93 425.25,225.43 425.5,226.94 425.75,228.38 426,229.69 426.25,230.83 426.5,231.74 426.75,232.38 427,232.73 427.25,232.78 427.5,232.52 427.75,231.96 428,231.13 428.25,230.05 428.5,228.79 428.75,227.38 429,225.89 429.25,224.37 429.5,222.91 429.75,221.54 430,220.34 430.25,219.35 430.5,218.61 430.75,218.15 431,218 431.25,218.16 431.5,218.62 431.75,219.36 432,220.36 432.25,221.56 432.5,222.93 432.75,224.4 433,225.91 433.25,227.4 433.5,228.81 433.75,230.07 434,231.14 434.25,231.97 434.5,232.53 434.75,232.78 435,232.73 435.25,232.37 435.5,231.72 435.75,230.81 436,229.67 436.25,228.35 436.5,226.91 436.75,225.41 437,223.9 437.25,222.46 437.5,221.14 437.75,220 438,219.08 438.25,218.43 438.5,218.07 438.75,218.02 439,218.27 439.25,218.82 439.5,219.65 439.75,220.72 440,221.98 440.25,223.38 440.5,224.87 440.75,226.39 441,227.86 441.25,229.23 441.5,230.43 441.75,231.43 442,232.18 442.25,232.64 442.5,232.8 442.75,232.65 443,232.2 443.25,231.46 443.5,230.47 443.75,229.27 444,227.91 444.25,226.44 444.5,224.93 444.75,223.44 445,222.03 445.25,220.76 445.5,219.68 445.75,218.85 446,218.29 446.25,218.02 446.5,218.06 446.75,218.41 447,219.06 447.25,219.96 447.5,221.1 447.75,222.41 448,223.85 448.25,225.35 448.5,226.86 448.75,228.3 449,229.63 449.25,230.77 449.5,231.7 449.75,232.36 450,232.72 450.25,232.79 450.5,232.54 450.75,232 451,231.18 451.25,230.11 451.5,228.86 451.75,227.45 452,225.96 452.25,224.45 452.5,222.98 452.75,221.61 453,220.4 453.25,219.39 453.5,218.64 453.75,218.17 454,218 454.25,218.14 454.5,218.59 454.75,219.31 455,220.3 455.25,221.49 455.5,222.85 455.75,224.32 456,225.83 456.25,227.32 456.5,228.74 456.75,230.01 457,231.09 457.25,231.93 457.5,232.5 457.75,232.78 458,232.74 458.25,232.4 458.5,231.76 458.75,230.86 459,229.74 459.25,228.43 459.5,226.99 459.75,225.49 460,223.98 460.25,222.53 460.5,221.21 460.75,220.05 461,219.12 461.25,218.46 461.5,218.08 461.75,218.01 462,218.25 462.25,218.79 462.5,219.6 462.75,220.66 463,221.91 463.25,223.31 463.5,224.8 463.75,226.31 464,227.78 464.25,229.16 464.5,230.38 464.75,231.39 465,232.15 465.25,232.62 465.5,232.8 465.75,232.67 466,232.23 466.25,231.51 466.5,230.53 466.75,229.34 467,227.98 467.25,226.52 467.5,225.01 467.75,223.51 468,222.1 468.25,220.82 468.5,219.73 468.75,218.88 469,218.31 469.25,218.03 469.5,218.05 469.75,218.39 470,219.02 470.25,219.91 470.5,221.03 470.75,222.34 471,223.77 471.25,225.27 471.5,226.78 471.75,228.23 472,229.56 472.25,230.72 472.5,231.65 472.75,232.33 473,232.71 473.25,232.79 473.5,232.56 473.75,232.03 474,231.22 474.25,230.17 474.5,228.93 474.75,227.53 475,226.04 475.25,224.53 475.5,223.05 475.75,221.68 476,220.45 476.25,219.44 476.5,218.67 476.75,218.19 477,218 477.25,218.13 477.5,218.56 477.75,219.27 478,220.24 478.25,221.43 478.5,222.78 478.75,224.24 479,225.75 479.25,227.25 479.5,228.67 479.75,229.95 480,231.04 480.25,231.9 480.5,232.48 480.75,232.77 481,232.75 481.25,232.42 481.5,231.8 481.75,230.92 482,229.8 482.25,228.5 482.5,227.07 482.75,225.57 483,224.06 483.25,222.61 483.5,221.27 483.75,220.11 484,219.17 484.25,218.49 484.5,218.09 484.75,218.01 485,218.23 485.25,218.75 485.5,219.55 485.75,220.6 486,221.84 486.25,223.23 486.5,224.72 486.75,226.23 487,227.71 487.25,229.09 487.5,230.32 487.75,231.34 488,232.11 488.25,232.61 488.5,232.8 488.75,232.68 489,232.26 489.25,231.55 489.5,230.59 489.75,229.41 490,228.06 490.25,226.6 490.5,225.09 490.75,223.59 491,222.17 491.25,220.88 491.5,219.78 491.75,218.92 492,218.33 492.25,218.03 492.5,218.04 492.75,218.36 493,218.98 493.25,219.86 493.5,220.97 493.75,222.27 494,223.7 494.25,225.2 494.5,226.7 494.75,228.16 495,229.5 495.25,230.66 495.5,231.61 495.75,232.3 496,232.7 496.25,232.79 496.5,232.58 496.75,232.07 497,231.27 497.25,230.23 497.5,228.99 497.75,227.6 498,226.12 498.25,224.61 498.5,223.13 498.75,221.74 499,220.51 499.25,219.48 499.5,218.7 499.75,218.2 500,218 500.25,218.11 500.5,218.53 500.75,219.23 501,220.19 501.25,221.36 501.5,222.71 501.75,224.16 502,225.67 502.25,227.17 502.5,228.6 502.75,229.89 503,230.99 503.25,231.86 503.5,232.46 503.75,232.76 504,232.76 504.25,232.45 504.5,231.84 504.75,230.97 505,229.86 505.25,228.57 505.5,227.14 505.75,225.64 506,224.13 506.25,222.68 506.5,221.34 506.75,220.16 507,219.21 507.25,218.51 507.5,218.11 507.75,218 508,218.21 508.25,218.72 508.5,219.5 508.75,220.54 509,221.77 509.25,223.16 509.5,224.64 509.75,226.15 510,227.63 510.25,229.02 510.5,230.26 510.75,231.29 511,232.08 511.25,232.59 511.5,232.8 511.75,232.69 512,232.29 512.25,231.6 512.5,230.64 512.75,229.47 513,228.13 513.25,226.67 513.5,225.17 513.75,223.67 514,222.24 514.25,220.94 514.5,219.84 514.75,218.96 515,218.35 515.25,218.04 515.5,218.04 515.75,218.34 516,218.94 516.25,219.8 516.5,220.91 516.75,222.2 517,223.62 517.25,225.12 517.5,226.63 517.75,228.08 518,229.43 518.25,230.61 518.5,231.57 518.75,232.27 519,232.69 519.25,232.8 519.5,232.6 519.75,232.1 520,231.32 520.25,230.29 520.5,229.06 520.75,227.68 521,226.2 521.25,224.69 521.5,223.2 521.75,221.81 522,220.57 522.25,219.53 522.5,218.74 522.75,218.22 523,218.01 523.25,218.1 523.5,218.5 523.75,219.18 524,220.13 524.25,221.3 524.5,222.63 524.75,224.09 525,225.6 525.25,227.1 525.5,228.52 525.75,229.82 526,230.94 526.25,231.82 526.5,232.43 526.75,232.75 527,232.77 527.25,232.47 527.5,231.88 527.75,231.02 528,229.92 528.25,228.64 528.5,227.22 528.75,225.72 529,224.21 529.25,222.75 529.5,221.4 529.75,220.22 530,219.25 530.25,218.54 530.5,218.12 530.75,218 531,218.19 531.25,218.68 531.5,219.46 531.75,220.48 532,221.7 532.25,223.08 532.5,224.56 532.75,226.07 533,227.56 533.25,228.95 533.5,230.2 533.75,231.24 534,232.04 534.25,232.57 534.5,232.79 534.75,232.71 535,232.32 535.25,231.64 535.5,230.7 535.75,229.54 536,228.2 536.25,226.75 536.5,225.24 536.75,223.74 537,222.31 537.25,221.01 537.5,219.89 537.75,219 538,218.38 538.25,218.05 538.5,218.03 538.75,218.32 539,218.9 539.25,219.75 539.5,220.84 539.75,222.12 540,223.54 540.25,225.04 540.5,226.55 540.75,228.01 541,229.36 541.25,230.55 541.5,231.52 541.75,232.24 542,232.67 542.25,232.8 542.5,232.62 542.75,232.13 543,231.37 543.25,230.35 543.5,229.13 543.75,227.75 544,226.28 544.25,224.77 544.5,223.28 544.75,221.88 545,220.63 545.25,219.58 545.5,218.77 545.75,218.24 546,218.01 546.25,218.09 546.5,218.47 546.75,219.14 547,220.07 547.25,221.23 547.5,222.56 547.75,224.01 548,225.52 548.25,227.02 548.5,228.45 548.75,229.76 549,230.88 549.25,231.78 549.5,232.41 549.75,232.75 550,232.77 550.25,232.5 550.5,231.92 550.75,231.07 551,229.99 551.25,228.71 551.5,227.3 551.75,225.8 552,224.29 552.25,222.83 552.5,221.47 552.75,220.28 553,219.3 553.25,218.57 553.5,218.14 553.75,218 554,218.17 554.25,218.65 554.5,219.41 554.75,220.42 555,221.63 555.25,223.01 555.5,224.48 555.75,225.99 556,227.48 556.25,228.88 556.5,230.14 556.75,231.19 557,232.01 557.25,232.55 557.5,232.79 557.75,232.72 558,232.34 558.25,231.68 558.5,230.75 558.75,229.6 559,228.28 559.25,226.83 559.5,225.32 559.75,223.82 560,222.38 560.25,221.07 560.5,219.94 560.75,219.04 561,218.4 561.25,218.06 561.5,218.02 561.75,218.29 562,218.86 562.25,219.7 562.5,220.78 562.75,222.05 563,223.47 563.25,224.96 563.5,226.47 563.75,227.94 564,229.3 564.25,230.5 564.5,231.48 564.75,232.21 565,232.66 565.25,232.8 565.5,232.63 565.75,232.16 566,231.41 566.25,230.41 566.5,229.2 566.75,227.83 567,226.36 567.25,224.84 567.5,223.36 567.75,221.95 568,220.69 568.25,219.63 568.5,218.81 568.75,218.26 569,218.01 569.25,218.08 569.5,218.44 569.75,219.1 570,220.02 570.25,221.17 570.5,222.49 570.75,223.93 571,225.44 571.25,226.94 571.5,228.38 571.75,229.7 572,230.83 572.25,231.74 572.5,232.38 572.75,232.74 573,232.78 573.25,232.52 573.5,231.96 573.75,231.12 574,230.05 574.25,228.78 574.5,227.37 574.75,225.88 575,224.37 575.25,222.9 575.5,221.54 575.75,220.33 576,219.34 576.25,218.6 576.5,218.15 576.75,218 577,218.16 577.25,218.62 577.5,219.36 577.75,220.36 578,221.57 578.25,222.93 578.5,224.4 578.75,225.92 579,227.41 579.25,228.81 579.5,230.08 579.75,231.15 580,231.97 580.25,232.53 580.5,232.78 580.75,232.73 581,232.37 581.25,231.72 581.5,230.81 581.75,229.67 582,228.35 582.25,226.91 582.5,225.4 582.75,223.9 583,222.45 583.25,221.14 583.5,220 583.75,219.08 584,218.43 584.25,218.07 584.5,218.02 584.75,218.27 585,218.83 585.25,219.65 585.5,220.72 585.75,221.98 586,223.39 586.25,224.88 586.5,226.39 586.75,227.86 587,229.23 587.25,230.44 587.5,231.43 587.75,232.18 588,232.64 588.25,232.8 588.5,232.65 588.75,232.2 589,231.46 589.25,230.47 589.5,229.27 589.75,227.9 590,226.43 590.25,224.92 590.5,223.43 590.75,222.02 591,220.75 591.25,219.68 591.5,218.84 591.75,218.28 592,218.02 592.25,218.06 592.5,218.42 592.75,219.06 593,219.97 593.25,221.1 593.5,222.42 593.75,223.86 594,225.36 594.25,226.86 594.5,228.31 594.75,229.63 595,230.78 595.25,231.7 595.5,232.36 595.75,232.72 596,232.79 596.25,232.54 596.5,231.99 596.75,231.17 597,230.11 597.25,228.85 597.5,227.45 597.75,225.96 598,224.45 598.25,222.97 598.5,221.6 598.75,220.39 599,219.39 599.25,218.64 599.5,218.17 599.75,218 600,218.14 600.25,218.59 600.5,219.32 600.75,220.3 601,221.5 601.25,222.86 601.5,224.33 601.75,225.84 602,227.33 602.25,228.74 602.5,230.02 602.75,231.1 603,231.94 603.25,232.51 603.5,232.78 603.75,232.74 604,232.4 604.25,231.76 604.5,230.86 604.75,229.73 605,228.42 605.25,226.98 605.5,225.48 605.75,223.97 606,222.53 606.25,221.2 606.5,220.05 606.75,219.12 607,218.46 607.25,218.08 607.5,218.01 607.75,218.25 608,218.79 608.25,219.6 608.5,220.66 608.75,221.91 609,223.31 609.25,224.8 609.5,226.31 609.75,227.79 610,229.16 610.25,230.38 610.5,231.39 610.75,232.15 611,232.62 611.25,232.8 611.5,232.67 611.75,232.23 612,231.5 612.25,230.53 612.5,229.33 612.75,227.98 613,226.51 613.25,225 613.5,223.51 613.75,222.09 614,220.82 614.25,219.73 614.5,218.88 614.75,218.31 615,218.03 615.25,218.05 615.5,218.39 615.75,219.02 616,219.91 616.25,221.04 616.5,222.34 616.75,223.78 617,225.28 617.25,226.79 617.5,228.24 617.75,229.57 618,230.72 618.25,231.66 618.5,232.33 618.75,232.71 619,232.79 619.25,232.56 619.5,232.03 619.75,231.22 620,230.17 620.25,228.92 620.5,227.52 620.75,226.04 621,224.52 621.25,223.05 621.5,221.67 621.75,220.45 622,219.43 622.25,218.67 622.5,218.18 622.75,218 623,218.13 623.25,218.56 623.5,219.27 623.75,220.25 624,221.43 624.25,222.79 624.5,224.25 624.75,225.76 625,227.25 625.25,228.67 625.5,229.95 625.75,231.04 626,231.9 626.25,232.48 626.5,232.77 626.75,232.75 627,232.42 627.25,231.8 627.5,230.91 627.75,229.79 628,228.49 628.25,227.06 628.5,225.56 628.75,224.05 629,222.6 629.25,221.27 629.5,220.1 629.75,219.16 630,218.48 630.25,218.09 630.5,218.01 630.75,218.23 631,218.75 631.25,219.55 631.5,220.6 631.75,221.85 632,223.24 632.25,224.72 632.5,226.24 632.75,227.71 633,229.09 633.25,230.32 633.5,231.34 633.75,232.11 634,232.61 634.25,232.8 634.5,232.68 634.75,232.26 635,231.55 635.25,230.58 635.5,229.4 635.75,228.05 636,226.59 636.25,225.08 636.5,223.58 636.75,222.16 637,220.88 637.25,219.78 637.5,218.92 637.75,218.33 638,218.03 638.25,218.05 638.5,218.36 638.75,218.98 639,219.86 639.25,220.97 639.5,222.27 639.75,223.7 640,225.2 640.25,226.71 640.5,228.16 640.75,229.5 641,230.67 641.25,231.61 641.5,232.3 641.75,232.7 642,232.79 642.25,232.58 642.5,232.06 642.75,231.27 643,230.23 643.25,228.99 643.5,227.6 643.75,226.12 644,224.6 644.25,223.12 644.5,221.74 644.75,220.51 645,219.48 645.25,218.7 645.5,218.2 645.75,218 646,218.11 646.25,218.53 646.5,219.23 646.75,220.19 647,221.37 647.25,222.71 647.5,224.17 647.75,225.68 648,227.18 648.25,228.6 648.5,229.89 648.75,230.99 649,231.86 649.25,232.46 649.5,232.76 649.75,232.76 650,232.45 650.25,231.84 650.5,230.97 650.75,229.86 651,228.56 651.25,227.14 651.5,225.64 651.75,224.13 652,222.67 652.25,221.33 652.5,220.16 652.75,219.21 653,218.51 653.25,218.11 653.5,218 653.75,218.21 654,218.72 654.25,219.51 654.5,220.54 654.75,221.78 655,223.16 655.25,224.65 655.5,226.16 655.75,227.64 656,229.03 656.25,230.26 656.5,231.29 656.75,232.08 657,232.59 657.25,232.8 657.5,232.69 657.75,232.29 658,231.59 658.25,230.64 658.5,229.47 658.75,228.12 659,226.67 659.25,225.16 659.5,223.66 659.75,222.23 660,220.94 660.25,219.83 660.5,218.96 660.75,218.35 661,218.04 661.25,218.04 661.5,218.34 661.75,218.94 662,219.81 662.25,220.91 662.5,222.2 662.75,223.62 663,225.12 663.25,226.63 663.5,228.09 663.75,229.44 664,230.61 664.25,231.57 664.5,232.27 664.75,232.69 665,232.8 665.25,232.6 665.5,232.1 665.75,231.32 666,230.29 666.25,229.06 666.5,227.67 666.75,226.19 667,224.68 667.25,223.2 667.5,221.81 667.75,220.57 668,219.53 668.25,218.74 668.5,218.22 668.75,218.01 669,218.1 669.25,218.5 669.5,219.19 669.75,220.13 670,221.3 670.25,222.64 670.5,224.09 670.75,225.6 671,227.1 671.25,228.53 671.5,229.83 671.75,230.94 672,231.82 672.25,232.44 672.5,232.76 672.75,232.77 673,232.47 673.25,231.88 673.5,231.02 673.75,229.92 674,228.63 674.25,227.21 674.5,225.72 674.75,224.21 675,222.75 675.25,221.4 675.5,220.22 675.75,219.25 676,218.54 676.25,218.12 676.5,218 676.75,218.19 677,218.69 677.25,219.46 677.5,220.48 677.75,221.71 678,223.09 678.25,224.57 678.5,226.08 678.75,227.56 679,228.96 679.25,230.2 679.5,231.25 679.75,232.05 680,232.57 680.25,232.79 680.5,232.71 680.75,232.31 681,231.63 681.25,230.69 681.5,229.53 681.75,228.2 682,226.75 682.25,225.24 682.5,223.74 682.75,222.31 683,221 683.25,219.88 683.5,219 683.75,218.38 684,218.05 684.25,218.03 684.5,218.32 684.75,218.9 685,219.76 685.25,220.85 685.5,222.13 685.75,223.55 686,225.04 686.25,226.55 686.5,228.02 686.75,229.37 687,230.56 687.25,231.53 687.5,232.24 687.75,232.67 688,232.8 688.25,232.62 688.5,232.13 688.75,231.36 689,230.35 689.25,229.13 689.5,227.75 689.75,226.27 690,224.76 690.25,223.27 690.5,221.88 690.75,220.63 691,219.58 691.25,218.77 691.5,218.24 691.75,218.01 692,218.09 692.25,218.47 692.5,219.14 692.75,220.08 693,221.24 693.25,222.57 693.5,224.02 693.75,225.52 694,227.02 694.25,228.46 694.5,229.77 694.75,230.89 695,231.78 695.25,232.41 695.5,232.75 695.75,232.77 696,232.49 696.25,231.92 696.5,231.07 696.75,229.98 697,228.71 697.25,227.29 697.5,225.8 697.75,224.28 698,222.82 698.25,221.46 698.5,220.27 698.75,219.29 699,218.57 699.25,218.13 699.5,218 699.75,218.18 700,218.65 700.25,219.41 700.5,220.42 700.75,221.64 701,223.01 701.25,224.49 701.5,226 701.75,227.49 702,228.89 702.25,230.14 702.5,231.2 702.75,232.01 703,232.55 703.25,232.79 703.5,232.72 703.75,232.34 704,231.68 704.25,230.75 704.5,229.6 704.75,228.27 705,226.82 705.25,225.32 705.5,223.81 705.75,222.38 706,221.07 706.25,219.94 706.5,219.04 706.75,218.4 707,218.06 707.25,218.02 707.5,218.3 707.75,218.86 708,219.71 708.25,220.79 708.5,222.06 708.75,223.47 709,224.97 709.25,226.48 709.5,227.94 709.75,229.3 710,230.5 710.25,231.48 710.5,232.21 710.75,232.66 711,232.8 711.25,232.63 711.5,232.16 711.75,231.41 712,230.41 712.25,229.19 712.5,227.82 712.75,226.35 713,224.84 713.25,223.35 713.5,221.95 713.75,220.69 714,219.63 714.25,218.81 714.5,218.26 714.75,218.01 715,218.08 715.25,218.44 715.5,219.1 715.75,220.02 716,221.17 716.25,222.49 716.5,223.94 716.75,225.44 717,226.95 717.25,228.39 717.5,229.7 717.75,230.84 718,231.74 718.25,232.39 718.5,232.74 718.75,232.78 719,232.52 719.25,231.95 719.5,231.12 719.75,230.04 720,228.78 720.25,227.37 720.5,225.87 720.75,224.36 721,222.89 721.25,221.53 721.5,220.33 721.75,219.34 722,218.6 722.25,218.15 722.5,218 722.75,218.16 723,218.62 723.25,219.37 723.5,220.36 723.75,221.57 724,222.94 724.25,224.41 724.5,225.92 724.75,227.41 725,228.82 725.25,230.08 725.5,231.15 725.75,231.98 726,232.53 726.25,232.78 726.5,232.73 726.75,232.37 727,231.72 727.25,230.8 727.5,229.66 727.75,228.34 728,226.9 728.25,225.4 728.5,223.89 728.75,222.45 729,221.13 729.25,219.99 729.5,219.08 729.75,218.43 730,218.07 730.25,218.02 730.5,218.27 730.75,218.83 731,219.66 731.25,220.73 731.5,221.99 731.75,223.4 732,224.89 732.25,226.4 732.5,227.87 732.75,229.24 733,230.44 733.25,231.44 733.5,232.18 733.75,232.64 734,232.8 734.25,232.65 734.5,232.19 734.75,231.46 735,230.46 735.25,229.26 735.5,227.9 735.75,226.43 736,224.92 736.25,223.43 736.5,222.02 736.75,220.75 737,219.68 737.25,218.84 737.5,218.28 737.75,218.02 738,218.07 738.25,218.42 738.5,219.06 738.75,219.97 739,221.11 739.25,222.42 739.5,223.86 739.75,225.37 740,226.87 740.25,228.31 740.5,229.64 740.75,230.78 741,231.7 741.25,232.36 741.5,232.73 741.75,232.79 742,232.54 742.25,231.99 742.5,231.17 742.75,230.1 743,228.85 743.25,227.44 743.5,225.95 743.75,224.44 744,222.97 744.25,221.6 744.5,220.39 744.75,219.38 745,218.63 745.25,218.17 745.5,218 745.75,218.14 746,218.59 746.25,219.32 746.5,220.31 746.75,221.5 747,222.87 747.25,224.33 747.5,225.84 747.75,227.34 748,228.75 748.25,230.02 748.5,231.1 748.75,231.94 749,232.51 749.25,232.78 749.5,232.74 749.75,232.4 750,231.76 750.25,230.86 750.5,229.73 750.75,228.41 751,226.98 751.25,225.47 751.5,223.97 751.75,222.52 752,221.2 752.25,220.05 752.5,219.12 752.75,218.45 753,218.08 753.25,218.01 753.5,218.25 753.75,218.79 754,219.61 754.25,220.66 754.5,221.92 754.75,223.32 755,224.81 755.25,226.32 755.5,227.79 755.75,229.17 756,230.38 756.25,231.39 756.5,232.15 756.75,232.63 757,232.8 757.25,232.66 757.5,232.22 757.75,231.5 758,230.52 758.25,229.33 758.5,227.97 758.75,226.51 759,225 759.25,223.5 759.5,222.09 759.75,220.81 760,219.73 760.25,218.88 760.5,218.3 760.75,218.03 761,218.06 761.25,218.39 761.5,219.02 761.75,219.92 762,221.04 762.25,222.35 762.5,223.78 762.75,225.29 763,226.79 763.25,228.24 763.5,229.57 763.75,230.73 764,231.66 764.25,232.33 764.5,232.71 764.75,232.79 765,232.56 765.25,232.03 765.5,231.22 765.75,230.17 766,228.91 766.25,227.52 766.5,226.03 766.75,224.52 767,223.04 767.25,221.67 767.5,220.44 767.75,219.43 768,218.67 768.25,218.18 768.5,218 768.75,218.13 769,218.56 769.25,219.28 769.5,220.25 769.75,221.44 770,222.79 770.25,224.25 770.5,225.77 770.75,227.26 771,228.68 771.25,229.96 771.5,231.05 771.75,231.9 772,232.49 772.25,232.77 772.5,232.75 772.75,232.42 773,231.8 773.25,230.91 773.5,229.79 773.75,228.49 774,227.05 774.25,225.55 774.5,224.05 774.75,222.59 775,221.26 775.25,220.1 775.5,219.16 775.75,218.48 776,218.09 776.25,218.01 776.5,218.23 776.75,218.76 777,219.56 777.25,220.6 777.5,221.85 777.75,223.25 778,224.73 778.25,226.24 778.5,227.72 778.75,229.1 779,230.33 779.25,231.35 779.5,232.12 779.75,232.61 780,232.8 780.25,232.68 780.5,232.25 780.75,231.54 781,230.58 781.25,229.4 781.5,228.04 781.75,226.58 782,225.07 782.25,223.58 782.5,222.16 782.75,220.87 783,219.78 783.25,218.92 783.5,218.33 783.75,218.03 784,218.05 784.25,218.37 784.5,218.98 784.75,219.86 785,220.98 785.25,222.28 785.5,223.71 785.75,225.21 786,226.72 786.25,228.17 786.5,229.51 786.75,230.67 787,231.62 787.25,232.3 787.5,232.7 787.75,232.79 788,232.58 788.25,232.06 788.5,231.27 788.75,230.23 789,228.98 789.25,227.59 789.5,226.11 789.75,224.6 790,223.12 790.25,221.73 790.5,220.5 790.75,219.48 791,218.7 791.25,218.2 791.5,218 791.75,218.11 792,218.53 792.25,219.23 792.5,220.19 792.75,221.37 793,222.72 793.25,224.18 793.5,225.69 793.75,227.18 794,228.61 794.25,229.9 794.5,231 794.75,231.86 795,232.46 795.25,232.76 795.5,232.76 795.75,232.45 796,231.84 796.25,230.96 796.5,229.85 796.75,228.56 797,227.13 797.25,225.63 797.5,224.12 797.75,222.67 798,221.33 798.25,220.16 798.5,219.2 798.75,218.51 799,218.11 799.25,218 799.5,218.21 799.75,218.72 800,219.51 800.25,220.54 800.5,221.78 800.75,223.17 801,224.65 801.25,226.16 801.5,227.64 801.75,229.03 802,230.27 802.25,231.3 802.5,232.08 802.75,232.59 803,232.8 803.25,232.69 803.5,232.28 803.75,231.59 804,230.63 804.25,229.46 804.5,228.12 804.75,226.66 805,225.15 805.25,223.65 805.5,222.23 805.75,220.94 806,219.83 806.25,218.95 806.5,218.35 806.75,218.04 807,218.04 807.25,218.34 807.5,218.94 807.75,219.81 808,220.92 808.25,222.21 808.5,223.63 808.75,225.13 809,226.64 809.25,228.1 809.5,229.44 809.75,230.62 810,231.58 810.25,232.28 810.5,232.69 810.75,232.8 811,232.6 811.25,232.09 811.5,231.31 811.75,230.28 812,229.05 812.25,227.67 812.5,226.19 812.75,224.68 813,223.19 813.25,221.8 813.5,220.56 813.75,219.53 814,218.73 814.25,218.22 814.5,218.01 814.75,218.1 815,218.5 815.25,219.19 815.5,220.14 815.75,221.31 816,222.64 816.25,224.1 816.5,225.61 816.75,227.11 817,228.54 817.25,229.83 817.5,230.95 817.75,231.83 818,232.44 818.25,232.76 818.5,232.77 818.75,232.47 819,231.88 819.25,231.01 819.5,229.92 819.75,228.63 820,227.21 820.25,225.71 820.5,224.2 820.75,222.74 821,221.39 821.25,220.21 821.5,219.25 821.75,218.54 822,218.12 822.25,218 822.5,218.2 822.75,218.69 823,219.46 823.25,220.49 823.5,221.71 823.75,223.09 824,224.57 824.25,226.09 824.5,227.57 824.75,228.96 825,230.21 825.25,231.25 825.5,232.05 825.75,232.57 826,232.79 826.25,232.71 826.5,232.31 826.75,231.63 827,230.69 827.25,229.53 827.5,228.19 827.75,226.74 828,225.23 828.25,223.73 828.5,222.3 828.75,221 829,219.88 829.25,218.99 829.5,218.37 829.75,218.05 830,218.03 830.25,218.32 830.5,218.9 830.75,219.76 831,220.85 831.25,222.14 831.5,223.55 831.75,225.05 832,226.56 832.25,228.02 832.5,229.37 832.75,230.56 833,231.53 833.25,232.25 833.5,232.67 833.75,232.8 834,232.61 834.25,232.13 834.5,231.36 834.75,230.34 835,229.12 835.25,227.74 835.5,226.27 835.75,224.75 836,223.27 836.25,221.87 836.5,220.62 836.75,219.57 837,218.77 837.25,218.24 837.5,218.01 837.75,218.09 838,218.47 838.25,219.15 838.5,220.08 838.75,221.24 839,222.57 839.25,224.02 839.5,225.53 839.75,227.03 840,228.46 840.25,229.77 840.5,230.89 840.75,231.79 841,232.41 841.25,232.75 841.5,232.77 841.75,232.49 842,231.91 842.25,231.06 842.5,229.98 842.75,228.7 843,227.28 843.25,225.79 843.5,224.28 843.75,222.81 844,221.46 844.25,220.27 844.5,219.29 844.75,218.57 845,218.13 845.25,218 845.5,218.18 845.75,218.66 846,219.42 846.25,220.43 846.5,221.65 846.75,223.02 847,224.49 847.25,226.01 847.5,227.49 847.75,228.89 848,230.15 848.25,231.2 848.5,232.01 848.75,232.55 849,232.79 849.25,232.72 849.5,232.34 849.75,231.67 850,230.74 850.25,229.59 850.5,228.26 850.75,226.82 851,225.31 851.25,223.81 851.5,222.37 851.75,221.06 852,219.93 852.25,219.03 852.5,218.4 852.75,218.06 853,218.02 853.25,218.3 853.5,218.87 853.75,219.71 854,220.79 854.25,222.07 854.5,223.48 854.75,224.97 855,226.48 855.25,227.95 855.5,229.31 855.75,230.5 856,231.49 856.25,232.22 856.5,232.66 856.75,232.8 857,232.63 857.25,232.16 857.5,231.41 857.75,230.4 858,229.19 858.25,227.82 858.5,226.34 858.75,224.83 859,223.34 859.25,221.94 859.5,220.68 859.75,219.62 860,218.8 860.25,218.26 860.5,218.01 860.75,218.08 861,218.45 861.25,219.11 861.5,220.03 861.75,221.18 862,222.5 862.25,223.94 862.5,225.45 862.75,226.95 863,228.39 863.25,229.71 863.5,230.84 863.75,231.75 864,232.39 864.25,232.74 864.5,232.78 864.75,232.51 865,231.95 865.25,231.11 865.5,230.04 865.75,228.77 866,227.36 866.25,225.87 866.5,224.36 866.75,222.89 867,221.53 867.25,220.32 867.5,219.34 867.75,218.6 868,218.15 868.25,218 868.5,218.16 868.75,218.62 869,219.37 869.25,220.37 869.5,221.58 869.75,222.95 870,224.42 870.25,225.93 870.5,227.42 870.75,228.82 871,230.09 871.25,231.15 871.5,231.98 871.75,232.53 872,232.78 872.25,232.73 872.5,232.37 872.75,231.71 873,230.8 873.25,229.66 873.5,228.34 873.75,226.89 874,225.39 874.25,223.88 874.5,222.44 874.75,221.13 875,219.99 875.25,219.07 875.5,218.43 875.75,218.07 876,218.02 876.25,218.28 876.5,218.83 876.75,219.66 877,220.73 877.25,222 877.5,223.4 877.75,224.89 878,226.4 878.25,227.87 878.5,229.24 878.75,230.45 879,231.44 879.25,232.18 879.5,232.64 879.75,232.8 880,232.65 880.25,232.19 880.5,231.45 880.75,230.46 881,229.26 881.25,227.89 881.5,226.42 881.75,224.91 882,223.42 882.25,222.01 882.5,220.74 882.75,219.67 883,218.84 883.25,218.28 883.5,218.02 883.75,218.07 884,218.42 884.25,219.06 884.5,219.97 884.75,221.11 885,222.43 885.25,223.87 885.5,225.37 885.75,226.88 886,228.32 886.25,229.64 886.5,230.79 886.75,231.71 887,232.36 887.25,232.73 887.5,232.79 887.75,232.54 888,231.99 888.25,231.16 888.5,230.1 888.75,228.84 889,227.44 889.25,225.95 889.5,224.43 889.75,222.96 890,221.59 890.25,220.38 890.5,219.38 890.75,218.63 891,218.16 891.25,218 891.5,218.14 891.75,218.59 892,219.33 892.25,220.31 892.5,221.51 892.75,222.87 893,224.34 893.25,225.85 893.5,227.34 893.75,228.75 894,230.02 894.25,231.1 894.5,231.94 894.75,232.51 895,232.78 895.25,232.74 895.5,232.39 895.75,231.76 896,230.85 896.25,229.72 896.5,228.41 896.75,226.97 897,225.47 897.25,223.96 897.5,222.52 897.75,221.19 898,220.04 898.25,219.12 898.5,218.45 898.75,218.08 899,218.01 899.25,218.25 899.5,218.79 899.75,219.61 900,220.67 900.25,221.93 900.5,223.33 900.75,224.81 901,226.33 901.25,227.8 901.5,229.17 901.75,230.39 902,231.4 902.25,232.15 902.5,232.63 902.75,232.8 903,232.66 903.25,232.22 903.5,231.5 903.75,230.52 904,229.32 904.25,227.97 904.5,226.5 904.75,224.99 905,223.5 905.25,222.08 905.5,220.81 905.75,219.72 906,218.88" fill="none" stroke="#348ABD" stroke-width="1.5"/>
<path d="M139 225.4H905" stroke="#988ED5" stroke-width="1.5"/>
<path d="M132.83 128H140.63V153.7H132.83ZM140.5 128H148.3V153.7H140.5ZM148.17 128H155.97V153.7H148.17ZM155.84 128H163.64V153.7H155.84ZM163.51 128H171.31V153.7H163.51ZM171.18 128H178.98V153.7H171.18ZM178.85 128H186.66V153.7H178.85ZM186.53 128H194.33V153.7H186.53ZM194.2 128H202V153.7H194.2ZM201.87 128H209.67V153.7H201.87ZM209.54 128H217.34V153.7H209.54ZM217.21 128H225.01V153.7H217.21ZM224.88 128H232.68V153.7H224.88ZM232.55 128H240.35V153.7H232.55ZM240.22 128H248.02V153.7H240.22ZM247.89 128H255.69V153.7H247.89ZM255.57 128H263.37V153.7H255.57ZM263.24 128H271.04V153.7H263.24ZM270.91 128H278.71V153.7H270.91ZM278.58 128H286.38V153.7H278.58ZM286.25 128H294.05V153.7H286.25ZM293.92 128H301.72V153.7H293.92ZM301.59 128H309.39V153.7H301.59ZM309.26 128H317.06V153.7H309.26ZM316.93 128H324.73V153.7H316.93ZM324.6 128H332.4V153.7H324.6ZM332.28 128H340.07V153.7H332.28ZM339.95 128H347.75V153.7H339.95ZM347.62 128H355.42V153.7H347.62ZM355.29 128H363.09V153.7H355.29ZM362.96 128H370.76V153.7H362.96ZM370.63 128H378.43V153.7H370.63ZM378.3 128H386.1V153.7H378.3ZM385.97 128H393.77V153.7H385.97ZM393.64 128H401.44V153.7H393.64ZM401.31 128H409.11V153.7H401.31ZM408.99 128H416.78V153.7H408.99ZM416.66 128H424.46V153.7H416.66ZM424.33 128H432.13V153.7H424.33ZM432 128H439.8V153.7H432ZM439.67 128H447.47V153.7H439.67ZM447.34 128H455.14V153.7H447.34ZM455.01 128H462.81V153.7H455.01ZM462.68 128H470.48V153.7H462.68ZM470.35 128H478.15V153.7H470.35ZM478.02 128H485.82V153.7H478.02ZM485.7 128H493.5V153.7H485.7ZM493.37 128H501.17V153.7H493.37ZM501.04 128H508.84V153.7H501.04ZM508.71 128H516.51V153.7H508.71ZM516.38 128H524.18V153.7H516.38ZM524.05 128H531.85V153.7H524.05ZM531.72 128H539.52V153.7H531.72ZM539.39 128H547.19V153.7H539.39ZM547.06 128H554.86V153.7H547.06ZM554.73 128H562.53V153.7H554.73ZM562.41 128H570.21V153.7H562.41ZM570.08 128H577.88V153.7H570.08ZM577.75 128H585.55V153.7H577.75ZM585.42 128H593.22V153.7H585.42ZM593.09 128H600.89V153.7H593.09ZM600.76 128H608.56V153.7H600.76ZM608.43 128H616.23V153.7H608.43ZM616.1 128H623.9V153.7H616.1ZM623.77 128H631.57V153.7H623.77ZM631.44 128H639.24V153.7H631.44ZM639.12 128H646.91V153.7H639.12ZM646.79 128H654.59V153.7H646.79ZM654.46 128H662.26V153.7H654.46ZM662.13 128H669.93V153.7H662.13ZM669.8 128H677.6V153.7H669.8ZM677.47 128H685.27V153.7H677.47ZM685.14 128H692.94V153.7H685.14ZM692.81 128H700.61V153.7H692.81ZM700.48 128H708.28V153.7H700.48ZM708.15 128H715.95V153.7H708.15ZM715.83 128H723.62V153.7H715.83ZM723.5 128H731.3V153.7H723.5ZM731.17 128H738.97V153.7H731.17ZM738.84 128H746.64V153.7H738.84ZM746.51 128H754.31V153.7H746.51ZM754.18 128H761.98V153.7H754.18ZM761.85 128H769.65V153.7H761.85ZM769.52 128H777.32V153.7H769.52ZM777.19 128H784.99V153.7H777.19ZM784.86 128H792.66V153.7H784.86ZM792.53 128H800.33V153.7H792.53ZM800.21 128H808.01V153.7H800.21ZM807.88 128H815.68V153.7H807.88ZM815.55 128H823.35V153.7H815.55ZM823.22 128H831.02V153.7H823.22ZM830.89 128H838.69V153.7H830.89ZM838.56 128H846.36V153.7H838.56ZM846.23 128H854.03V153.7H846.23ZM853.9 128H861.7V153.7H853.9ZM861.57 128H869.37V153.7H861.57ZM869.25 128H877.04V153.7H869.25ZM876.92 128H884.72V153.7H876.92ZM884.59 128H892.39V153.7H884.59ZM892.26 128H900.06V153.7H892.26ZM899.93 128H907.73V153.7H899.93ZM907.6 128H915.4V153.7H907.6Z" fill="#FFB5B8"/>
<path d="M134.03 136L133.83 150M141.7 136L141.5 150M149.37 136L149.17 150M157.04 136L156.84 150M164.71 136L164.51 150M172.38 136L172.18 150M180.06 136L179.85 150M187.73 136L187.53 150M195.4 136L195.2 150M203.07 136L202.87 150M210.74 136L210.54 150M218.41 136L218.21 150M226.08 136L225.88 150M233.75 136L233.55 150M241.42 136L241.22 150M249.09 136L248.89 150M256.77 136L256.57 150M264.44 136L264.24 150M272.11 136L271.91 150M279.78 136L279.58 150M287.45 136L287.25 150M295.12 136L294.92 150M302.79 136L302.59 150M310.46 136L310.26 150M318.13 136L317.93 150M325.8 136L325.6 150M333.48 136L333.28 150M341.15 136L340.95 150M348.82 136L348.62 150M356.49 136L356.29 150M364.16 136L363.96 150M371.83 136L371.63 150M379.5 136L379.3 150M387.17 136L386.97 150M394.84 136L394.64 150M402.51 136L402.31 150M410.19 136L409.99 150M417.86 136L417.66 150M425.53 136L425.33 150M433.2 136L433 150M440.87 136L440.67 150M448.54 136L448.34 150M456.21 136L456.01 150M463.88 136L463.68 150M471.55 136L471.35 150M479.22 136L479.02 150M486.9 136L486.7 150M494.57 136L494.37 150M502.24 136L502.04 150M509.91 136L509.71 150M517.58 136L517.38 150M525.25 136L525.05 150M532.92 136L532.72 150M540.59 136L540.39 150M548.26 136L548.06 150M555.93 136L555.73 150M563.61 136L563.41 150M571.28 136L571.08 150M578.95 136L578.75 150M586.62 136L586.42 150M594.29 136L594.09 150M601.96 136L601.76 150M609.63 136L609.43 150M617.3 136L617.1 150M624.97 136L624.77 150M632.64 136L632.44 150M640.31 136L640.12 150M647.99 136L647.79 150M655.66 136L655.46 150M663.33 136L663.13 150M671 136L670.8 150M678.67 136L678.47 150M686.34 136L686.14 150M694.01 136L693.81 150M701.68 136L701.48 150M709.35 136L709.15 150M717.02 136L716.83 150M724.7 136L724.5 150M732.37 136L732.17 150M740.04 136L739.84 150M747.71 136L747.51 150M755.38 136L755.18 150M763.05 136L762.85 150M770.72 136L770.52 150M778.39 136L778.19 150M786.06 136L785.86 150M793.73 136L793.53 150M801.41 136L801.21 150M809.08 136L808.88 150M816.75 136L816.55 150M824.42 136L824.22 150M832.09 136L831.89 150M839.76 136L839.56 150M847.43 136L847.23 150M855.1 136L854.9 150M862.77 136L862.57 150M870.44 136L870.25 150M878.12 136L877.92 150M885.79 136L885.59 150M893.46 136L893.26 150M901.13 136L900.93 150M908.8 136L908.6 150" fill="none" stroke="#D4B98E" stroke-width="0.8" opacity="0.7"/>
<path d="M137.63 154.5L138.03 149L138.68 149.5L138.68 154.5ZM145.3 154.5L145.7 149L146.35 149.5L146.35 154.5ZM152.97 154.5L153.37 149L154.02 149.5L154.02 154.5ZM160.64 154.5L161.04 149L161.69 149.5L161.69 154.5ZM168.31 154.5L168.71 149L169.36 149.5L169.36 154.5ZM175.98 154.5L176.38 149L177.03 149.5L177.03 154.5ZM183.66 154.5L184.06 149L184.7 149.5L184.7 154.5ZM191.33 154.5L191.73 149L192.38 149.5L192.38 154.5ZM199 154.5L199.4 149L200.05 149.5L200.05 154.5ZM206.67 154.5L207.07 149L207.72 149.5L207.72 154.5ZM214.34 154.5L214.74 149L215.39 149.5L215.39 154.5ZM222.01 154.5L222.41 149L223.06 149.5L223.06 154.5ZM229.68 154.5L230.08 149L230.73 149.5L230.73 154.5ZM237.35 154.5L237.75 149L238.4 149.5L238.4 154.5ZM245.02 154.5L245.42 149L246.07 149.5L246.07 154.5ZM252.69 154.5L253.09 149L253.74 149.5L253.74 154.5ZM260.37 154.5L260.77 149L261.42 149.5L261.42 154.5ZM268.04 154.5L268.44 149L269.09 149.5L269.09 154.5ZM275.71 154.5L276.11 149L276.76 149.5L276.76 154.5ZM283.38 154.5L283.78 149L284.43 149.5L284.43 154.5ZM291.05 154.5L291.45 149L292.1 149.5L292.1 154.5ZM298.72 154.5L299.12 149L299.77 149.5L299.77 154.5ZM306.39 154.5L306.79 149L307.44 149.5L307.44 154.5ZM314.06 154.5L314.46 149L315.11 149.5L315.11 154.5ZM321.73 154.5L322.13 149L322.78 149.5L322.78 154.5ZM329.4 154.5L329.8 149L330.45 149.5L330.45 154.5ZM337.07 154.5L337.48 149L338.12 149.5L338.12 154.5ZM344.75 154.5L345.15 149L345.8 149.5L345.8 154.5ZM352.42 154.5L352.82 149L353.47 149.5L353.47 154.5ZM360.09 154.5L360.49 149L361.14 149.5L361.14 154.5ZM367.76 154.5L368.16 149L368.81 149.5L368.81 154.5ZM375.43 154.5L375.83 149L376.48 149.5L376.48 154.5ZM383.1 154.5L383.5 149L384.15 149.5L384.15 154.5ZM390.77 154.5L391.17 149L391.82 149.5L391.82 154.5ZM398.44 154.5L398.84 149L399.49 149.5L399.49 154.5ZM406.11 154.5L406.51 149L407.16 149.5L407.16 154.5ZM413.78 154.5L414.19 149L414.83 149.5L414.83 154.5ZM421.46 154.5L421.86 149L422.51 149.5L422.51 154.5ZM429.13 154.5L429.53 149L430.18 149.5L430.18 154.5ZM436.8 154.5L437.2 149L437.85 149.5L437.85 154.5ZM444.47 154.5L444.87 149L445.52 149.5L445.52 154.5ZM452.14 154.5L452.54 149L453.19 149.5L453.19 154.5ZM459.81 154.5L460.21 149L460.86 149.5L460.86 154.5ZM467.48 154.5L467.88 149L468.53 149.5L468.53 154.5ZM475.15 154.5L475.55 149L476.2 149.5L476.2 154.5ZM482.82 154.5L483.22 149L483.87 149.5L483.87 154.5ZM490.5 154.5L490.9 149L491.55 149.5L491.55 154.5ZM498.17 154.5L498.57 149L499.22 149.5L499.22 154.5ZM505.84 154.5L506.24 149L506.89 149.5L506.89 154.5ZM513.51 154.5L513.91 149L514.56 149.5L514.56 154.5ZM521.18 154.5L521.58 149L522.23 149.5L522.23 154.5ZM528.85 154.5L529.25 149L529.9 149.5L529.9 154.5ZM536.52 154.5L536.92 149L537.57 149.5L537.57 154.5ZM544.19 154.5L544.59 149L545.24 149.5L545.24 154.5ZM551.86 154.5L552.26 149L552.91 149.5L552.91 154.5ZM559.53 154.5L559.93 149L560.58 149.5L560.58 154.5ZM567.21 154.5L567.61 149L568.26 149.5L568.26 154.5ZM574.88 154.5L575.28 149L575.93 149.5L575.93 154.5ZM582.55 154.5L582.95 149L583.6 149.5L583.6 154.5ZM590.22 154.5L590.62 149L591.27 149.5L591.27 154.5ZM597.89 154.5L598.29 149L598.94 149.5L598.94 154.5ZM605.56 154.5L605.96 149L606.61 149.5L606.61 154.5ZM613.23 154.5L613.63 149L614.28 149.5L614.28 154.5ZM620.9 154.5L621.3 149L621.95 149.5L621.95 154.5ZM628.57 154.5L628.97 149L629.62 149.5L629.62 154.5ZM636.24 154.5L636.64 149L637.29 149.5L637.29 154.5ZM643.91 154.5L644.31 149L644.97 149.5L644.97 154.5ZM651.59 154.5L651.99 149L652.64 149.5L652.64 154.5ZM659.26 154.5L659.66 149L660.31 149.5L660.31 154.5ZM666.93 154.5L667.33 149L667.98 149.5L667.98 154.5ZM674.6 154.5L675 149L675.65 149.5L675.65 154.5ZM682.27 154.5L682.67 149L683.32 149.5L683.32 154.5ZM689.94 154.5L690.34 149L690.99 149.5L690.99 154.5ZM697.61 154.5L698.01 149L698.66 149.5L698.66 154.5ZM705.28 154.5L705.68 149L706.33 149.5L706.33 154.5ZM712.95 154.5L713.35 149L714 149.5L714 154.5ZM720.62 154.5L721.02 149L721.68 149.5L721.68 154.5ZM728.3 154.5L728.7 149L729.35 149.5L729.35 154.5ZM735.97 154.5L736.37 149L737.02 149.5L737.02 154.5ZM743.64 154.5L744.04 149L744.69 149.5L744.69 154.5ZM751.31 154.5L751.71 149L752.36 149.5L752.36 154.5ZM758.98 154.5L759.38 149L760.03 149.5L760.03 154.5ZM766.65 154.5L767.05 149L767.7 149.5L767.7 154.5ZM774.32 154.5L774.72 149L775.37 149.5L775.37 154.5ZM781.99 154.5L782.39 149L783.04 149.5L783.04 154.5ZM789.66 154.5L790.06 149L790.71 149.5L790.71 154.5ZM797.33 154.5L797.73 149L798.38 149.5L798.38 154.5ZM805.01 154.5L805.41 149L806.06 149.5L806.06 154.5ZM812.68 154.5L813.08 149L813.73 149.5L813.73 154.5ZM820.35 154.5L820.75 149L821.4 149.5L821.4 154.5ZM828.02 154.5L828.42 149L829.07 149.5L829.07 154.5ZM835.69 154.5L836.09 149L836.74 149.5L836.74 154.5ZM843.36 154.5L843.76 149L844.41 149.5L844.41 154.5ZM851.03 154.5L851.43 149L852.08 149.5L852.08 154.5ZM858.7 154.5L859.1 149L859.75 149.5L859.75 154.5ZM866.37 154.5L866.77 149L867.42 149.5L867.42 154.5ZM874.04 154.5L874.44 149L875.1 149.5L875.1 154.5ZM881.72 154.5L882.12 149L882.77 149.5L882.77 154.5ZM889.39 154.5L889.79 149L890.44 149.5L890.44 154.5ZM897.06 154.5L897.46 149L898.11 149.5L898.11 154.5ZM904.73 154.5L905.13 149L905.78 149.5L905.78 154.5ZM912.4 154.5L912.8 149L913.45 149.5L913.45 154.5Z" fill="#E7E2EC"/>
<path d="M138.93 135L139.53 135L140.63 141L140.83 152.8L138.68 152.8L138.73 141ZM133.33 128.6L134.63 128.6L134.03 136ZM136.53 128.2L138.33 128.2L137.03 136ZM133.53 154.5L135.63 154.5L135.53 156.8L133.73 156.8ZM146.6 135L147.2 135L148.3 141L148.5 152.8L146.35 152.8L146.4 141ZM141 128.6L142.3 128.6L141.7 136ZM144.2 128.2L146 128.2L144.7 136ZM141.2 154.5L143.3 154.5L143.2 156.8L141.4 156.8ZM154.27 135L154.87 135L155.97 141L156.17 152.8L154.02 152.8L154.07 141ZM148.67 128.6L149.97 128.6L149.37 136ZM151.87 128.2L153.67 128.2L152.37 136ZM148.87 154.5L150.97 154.5L150.87 156.8L149.07 156.8ZM161.94 135L162.54 135L163.64 141L163.84 152.8L161.69 152.8L161.74 141ZM156.34 128.6L157.64 128.6L157.04 136ZM159.54 128.2L161.34 128.2L160.04 136ZM156.54 154.5L158.64 154.5L158.54 156.8L156.74 156.8ZM169.61 135L170.21 135L171.31 141L171.51 152.8L169.36 152.8L169.41 141ZM164.01 128.6L165.31 128.6L164.71 136ZM167.21 128.2L169.01 128.2L167.71 136ZM164.21 154.5L166.31 154.5L166.21 156.8L164.41 156.8ZM177.28 135L177.88 135L178.98 141L179.18 152.8L177.03 152.8L177.08 141ZM171.68 128.6L172.98 128.6L172.38 136ZM174.88 128.2L176.68 128.2L175.38 136ZM171.88 154.5L173.98 154.5L173.88 156.8L172.08 156.8ZM184.95 135L185.56 135L186.66 141L186.85 152.8L184.7 152.8L184.75 141ZM179.35 128.6L180.66 128.6L180.06 136ZM182.56 128.2L184.35 128.2L183.06 136ZM179.56 154.5L181.66 154.5L181.56 156.8L179.75 156.8ZM192.63 135L193.23 135L194.33 141L194.53 152.8L192.38 152.8L192.43 141ZM187.03 128.6L188.33 128.6L187.73 136ZM190.23 128.2L192.03 128.2L190.73 136ZM187.23 154.5L189.33 154.5L189.23 156.8L187.43 156.8ZM200.3 135L200.9 135L202 141L202.2 152.8L200.05 152.8L200.1 141ZM194.7 128.6L196 128.6L195.4 136ZM197.9 128.2L199.7 128.2L198.4 136ZM194.9 154.5L197 154.5L196.9 156.8L195.1 156.8ZM207.97 135L208.57 135L209.67 141L209.87 152.8L207.72 152.8L207.77 141ZM202.37 128.6L203.67 128.6L203.07 136ZM205.57 128.2L207.37 128.2L206.07 136ZM202.57 154.5L204.67 154.5L204.57 156.8L202.77 156.8ZM215.64 135L216.24 135L217.34 141L217.54 152.8L215.39 152.8L215.44 141ZM210.04 128.6L211.34 128.6L210.74 136ZM213.24 128.2L215.04 128.2L213.74 136ZM210.24 154.5L212.34 154.5L212.24 156.8L210.44 156.8ZM223.31 135L223.91 135L225.01 141L225.21 152.8L223.06 152.8L223.11 141ZM217.71 128.6L219.01 128.6L218.41 136ZM220.91 128.2L222.71 128.2L221.41 136ZM217.91 154.5L220.01 154.5L219.91 156.8L218.11 156.8ZM230.98 135L231.58 135L232.68 141L232.88 152.8L230.73 152.8L230.78 141ZM225.38 128.6L226.68 128.6L226.08 136ZM228.58 128.2L230.38 128.2L229.08 136ZM225.58 154.5L227.68 154.5L227.58 156.8L225.78 156.8ZM238.65 135L239.25 135L240.35 141L240.55 152.8L238.4 152.8L238.45 141ZM233.05 128.6L234.35 128.6L233.75 136ZM236.25 128.2L238.05 128.2L236.75 136ZM233.25 154.5L235.35 154.5L235.25 156.8L233.45 156.8ZM246.32 135L246.92 135L248.02 141L248.22 152.8L246.07 152.8L246.12 141ZM240.72 128.6L242.02 128.6L241.42 136ZM243.92 128.2L245.72 128.2L244.42 136ZM240.92 154.5L243.02 154.5L242.92 156.8L241.12 156.8ZM253.99 135L254.59 135L255.69 141L255.89 152.8L253.74 152.8L253.79 141ZM248.39 128.6L249.69 128.6L249.09 136ZM251.59 128.2L253.39 128.2L252.09 136ZM248.59 154.5L250.69 154.5L250.59 156.8L248.79 156.8ZM261.67 135L262.27 135L263.37 141L263.57 152.8L261.42 152.8L261.47 141ZM256.07 128.6L257.37 128.6L256.77 136ZM259.27 128.2L261.07 128.2L259.77 136ZM256.27 154.5L258.37 154.5L258.27 156.8L256.47 156.8ZM269.34 135L269.94 135L271.04 141L271.24 152.8L269.09 152.8L269.14 141ZM263.74 128.6L265.04 128.6L264.44 136ZM266.94 128.2L268.74 128.2L267.44 136ZM263.94 154.5L266.04 154.5L265.94 156.8L264.14 156.8ZM277.01 135L277.61 135L278.71 141L278.91 152.8L276.76 152.8L276.81 141ZM271.41 128.6L272.71 128.6L272.11 136ZM274.61 128.2L276.41 128.2L275.11 136ZM271.61 154.5L273.71 154.5L273.61 156.8L271.81 156.8ZM284.68 135L285.28 135L286.38 141L286.58 152.8L284.43 152.8L284.48 141ZM279.08 128.6L280.38 128.6L279.78 136ZM282.28 128.2L284.08 128.2L282.78 136ZM279.28 154.5L281.38 154.5L281.28 156.8L279.48 156.8ZM292.35 135L292.95 135L294.05 141L294.25 152.8L292.1 152.8L292.15 141ZM286.75 128.6L288.05 128.6L287.45 136ZM289.95 128.2L291.75 128.2L290.45 136ZM286.95 154.5L289.05 154.5L288.95 156.8L287.15 156.8ZM300.02 135L300.62 135L301.72 141L301.92 152.8L299.77 152.8L299.82 141ZM294.42 128.6L295.72 128.6L295.12 136ZM297.62 128.2L299.42 128.2L298.12 136ZM294.62 154.5L296.72 154.5L296.62 156.8L294.82 156.8ZM307.69 135L308.29 135L309.39 141L309.59 152.8L307.44 152.8L307.49 141ZM302.09 128.6L303.39 128.6L302.79 136ZM305.29 128.2L307.09 128.2L305.79 136ZM302.29 154.5L304.39 154.5L304.29 156.8L302.49 156.8ZM315.36 135L315.96 135L317.06 141L317.26 152.8L315.11 152.8L315.16 141ZM309.76 128.6L311.06 128.6L310.46 136ZM312.96 128.2L314.76 128.2L313.46 136ZM309.96 154.5L312.06 154.5L311.96 156.8L310.16 156.8ZM323.03 135L323.63 135L324.73 141L324.93 152.8L322.78 152.8L322.83 141ZM317.43 128.6L318.73 128.6L318.13 136ZM320.63 128.2L322.43 128.2L321.13 136ZM317.63 154.5L319.73 154.5L319.63 156.8L317.83 156.8ZM330.7 135L331.3 135L332.4 141L332.6 152.8L330.45 152.8L330.5 141ZM325.1 128.6L326.4 128.6L325.8 136ZM328.3 128.2L330.1 128.2L328.8 136ZM325.3 154.5L327.4 154.5L327.3 156.8L325.5 156.8ZM338.38 135L338.98 135L340.07 141L340.28 152.8L338.12 152.8L338.18 141ZM332.78 128.6L334.07 128.6L333.48 136ZM335.98 128.2L337.78 128.2L336.48 136ZM332.98 154.5L335.07 154.5L334.98 156.8L333.18 156.8ZM346.05 135L346.65 135L347.75 141L347.95 152.8L345.8 152.8L345.85 141ZM340.45 128.6L341.75 128.6L341.15 136ZM343.65 128.2L345.45 128.2L344.15 136ZM340.65 154.5L342.75 154.5L342.65 156.8L340.85 156.8ZM353.72 135L354.32 135L355.42 141L355.62 152.8L353.47 152.8L353.52 141ZM348.12 128.6L349.42 128.6L348.82 136ZM351.32 128.2L353.12 128.2L351.82 136ZM348.32 154.5L350.42 154.5L350.32 156.8L348.52 156.8ZM361.39 135L361.99 135L363.09 141L363.29 152.8L361.14 152.8L361.19 141ZM355.79 128.6L357.09 128.6L356.49 136ZM358.99 128.2L360.79 128.2L359.49 136ZM355.99 154.5L358.09 154.5L357.99 156.8L356.19 156.8ZM369.06 135L369.66 135L370.76 141L370.96 152.8L368.81 152.8L368.86 141ZM363.46 128.6L364.76 128.6L364.16 136ZM366.66 128.2L368.46 128.2L367.16 136ZM363.66 154.5L365.76 154.5L365.66 156.8L363.86 156.8ZM376.73 135L377.33 135L378.43 141L378.63 152.8L376.48 152.8L376.53 141ZM371.13 128.6L372.43 128.6L371.83 136ZM374.33 128.2L376.13 128.2L374.83 136ZM371.33 154.5L373.43 154.5L373.33 156.8L371.53 156.8ZM384.4 135L385 135L386.1 141L386.3 152.8L384.15 152.8L384.2 141ZM378.8 128.6L380.1 128.6L379.5 136ZM382 128.2L383.8 128.2L382.5 136ZM379 154.5L381.1 154.5L381 156.8L379.2 156.8ZM392.07 135L392.67 135L393.77 141L393.97 152.8L391.82 152.8L391.87 141ZM386.47 128.6L387.77 128.6L387.17 136ZM389.67 128.2L391.47 128.2L390.17 136ZM386.67 154.5L388.77 154.5L388.67 156.8L386.87 156.8ZM399.74 135L400.34 135L401.44 141L401.64 152.8L399.49 152.8L399.54 141ZM394.14 128.6L395.44 128.6L394.84 136ZM397.34 128.2L399.14 128.2L397.84 136ZM394.34 154.5L396.44 154.5L396.34 156.8L394.54 156.8ZM407.41 135L408.01 135L409.11 141L409.31 152.8L407.16 152.8L407.21 141ZM401.81 128.6L403.11 128.6L402.51 136ZM405.01 128.2L406.81 128.2L405.51 136ZM402.01 154.5L404.11 154.5L404.01 156.8L402.21 156.8ZM415.08 135L415.69 135L416.78 141L416.99 152.8L414.83 152.8L414.88 141ZM409.49 128.6L410.78 128.6L410.19 136ZM412.69 128.2L414.49 128.2L413.19 136ZM409.69 154.5L411.78 154.5L411.69 156.8L409.88 156.8ZM422.76 135L423.36 135L424.46 141L424.66 152.8L422.51 152.8L422.56 141ZM417.16 128.6L418.46 128.6L417.86 136ZM420.36 128.2L422.16 128.2L420.86 136ZM417.36 154.5L419.46 154.5L419.36 156.8L417.56 156.8ZM430.43 135L431.03 135L432.13 141L432.33 152.8L430.18 152.8L430.23 141ZM424.83 128.6L426.13 128.6L425.53 136ZM428.03 128.2L429.83 128.2L428.53 136ZM425.03 154.5L427.13 154.5L427.03 156.8L425.23 156.8ZM438.1 135L438.7 135L439.8 141L440 152.8L437.85 152.8L437.9 141ZM432.5 128.6L433.8 128.6L433.2 136ZM435.7 128.2L437.5 128.2L436.2 136ZM432.7 154.5L434.8 154.5L434.7 156.8L432.9 156.8ZM445.77 135L446.37 135L447.47 141L447.67 152.8L445.52 152.8L445.57 141ZM440.17 128.6L441.47 128.6L440.87 136ZM443.37 128.2L445.17 128.2L443.87 136ZM440.37 154.5L442.47 154.5L442.37 156.8L440.57 156.8ZM453.44 135L454.04 135L455.14 141L455.34 152.8L453.19 152.8L453.24 141ZM447.84 128.6L449.14 128.6L448.54 136ZM451.04 128.2L452.84 128.2L451.54 136ZM448.04 154.5L450.14 154.5L450.04 156.8L448.24 156.8ZM461.11 135L461.71 135L462.81 141L463.01 152.8L460.86 152.8L460.91 141ZM455.51 128.6L456.81 128.6L456.21 136ZM458.71 128.2L460.51 128.2L459.21 136ZM455.71 154.5L457.81 154.5L457.71 156.8L455.91 156.8ZM468.78 135L469.38 135L470.48 141L470.68 152.8L468.53 152.8L468.58 141ZM463.18 128.6L464.48 128.6L463.88 136ZM466.38 128.2L468.18 128.2L466.88 136ZM463.38 154.5L465.48 154.5L465.38 156.8L463.58 156.8ZM476.45 135L477.05 135L478.15 141L478.35 152.8L476.2 152.8L476.25 141ZM470.85 128.6L472.15 128.6L471.55 136ZM474.05 128.2L475.85 128.2L474.55 136ZM471.05 154.5L473.15 154.5L473.05 156.8L471.25 156.8ZM484.12 135L484.72 135L485.82 141L486.02 152.8L483.87 152.8L483.92 141ZM478.52 128.6L479.82 128.6L479.22 136ZM481.72 128.2L483.52 128.2L482.22 136ZM478.72 154.5L480.82 154.5L480.72 156.8L478.92 156.8ZM491.8 135L492.4 135L493.5 141L493.7 152.8L491.55 152.8L491.6 141ZM486.2 128.6L487.5 128.6L486.9 136ZM489.4 128.2L491.2 128.2L489.9 136ZM486.4 154.5L488.5 154.5L488.4 156.8L486.6 156.8ZM499.47 135L500.07 135L501.17 141L501.37 152.8L499.22 152.8L499.27 141ZM493.87 128.6L495.17 128.6L494.57 136ZM497.07 128.2L498.87 128.2L497.57 136ZM494.07 154.5L496.17 154.5L496.07 156.8L494.27 156.8ZM507.14 135L507.74 135L508.84 141L509.04 152.8L506.89 152.8L506.94 141ZM501.54 128.6L502.84 128.6L502.24 136ZM504.74 128.2L506.54 128.2L505.24 136ZM501.74 154.5L503.84 154.5L503.74 156.8L501.94 156.8ZM514.81 135L515.41 135L516.51 141L516.71 152.8L514.56 152.8L514.61 141ZM509.21 128.6L510.51 128.6L509.91 136ZM512.41 128.2L514.21 128.2L512.91 136ZM509.41 154.5L511.51 154.5L511.41 156.8L509.61 156.8ZM522.48 135L523.08 135L524.18 141L524.38 152.8L522.23 152.8L522.28 141ZM516.88 128.6L518.18 128.6L517.58 136ZM520.08 128.2L521.88 128.2L520.58 136ZM517.08 154.5L519.18 154.5L519.08 156.8L517.28 156.8ZM530.15 135L530.75 135L531.85 141L532.05 152.8L529.9 152.8L529.95 141ZM524.55 128.6L525.85 128.6L525.25 136ZM527.75 128.2L529.55 128.2L528.25 136ZM524.75 154.5L526.85 154.5L526.75 156.8L524.95 156.8ZM537.82 135L538.42 135L539.52 141L539.72 152.8L537.57 152.8L537.62 141ZM532.22 128.6L533.52 128.6L532.92 136ZM535.42 128.2L537.22 128.2L535.92 136ZM532.42 154.5L534.52 154.5L534.42 156.8L532.62 156.8ZM545.49 135L546.09 135L547.19 141L547.39 152.8L545.24 152.8L545.29 141ZM539.89 128.6L541.19 128.6L540.59 136ZM543.09 128.2L544.89 128.2L543.59 136ZM540.09 154.5L542.19 154.5L542.09 156.8L540.29 156.8ZM553.16 135L553.76 135L554.86 141L555.06 152.8L552.91 152.8L552.96 141ZM547.56 128.6L548.86 128.6L548.26 136ZM550.76 128.2L552.56 128.2L551.26 136ZM547.76 154.5L549.86 154.5L549.76 156.8L547.96 156.8ZM560.83 135L561.43 135L562.53 141L562.73 152.8L560.58 152.8L560.63 141ZM555.23 128.6L556.53 128.6L555.93 136ZM558.43 128.2L560.23 128.2L558.93 136ZM555.43 154.5L557.53 154.5L557.43 156.8L555.63 156.8ZM568.51 135L569.11 135L570.21 141L570.41 152.8L568.26 152.8L568.31 141ZM562.91 128.6L564.21 128.6L563.61 136ZM566.11 128.2L567.91 128.2L566.61 136ZM563.11 154.5L565.21 154.5L565.11 156.8L563.31 156.8ZM576.18 135L576.78 135L577.88 141L578.08 152.8L575.93 152.8L575.98 141ZM570.58 128.6L571.88 128.6L571.28 136ZM573.78 128.2L575.58 128.2L574.28 136ZM570.78 154.5L572.88 154.5L572.78 156.8L570.98 156.8ZM583.85 135L584.45 135L585.55 141L585.75 152.8L583.6 152.8L583.65 141ZM578.25 128.6L579.55 128.6L578.95 136ZM581.45 128.2L583.25 128.2L581.95 136ZM578.45 154.5L580.55 154.5L580.45 156.8L578.65 156.8ZM591.52 135L592.12 135L593.22 141L593.42 152.8L591.27 152.8L591.32 141ZM585.92 128.6L587.22 128.6L586.62 136ZM589.12 128.2L590.92 128.2L589.62 136ZM586.12 154.5L588.22 154.5L588.12 156.8L586.32 156.8ZM599.19 135L599.79 135L600.89 141L601.09 152.8L598.94 152.8L598.99 141ZM593.59 128.6L594.89 128.6L594.29 136ZM596.79 128.2L598.59 128.2L597.29 136ZM593.79 154.5L595.89 154.5L595.79 156.8L593.99 156.8ZM606.86 135L607.46 135L608.56 141L608.76 152.8L606.61 152.8L606.66 141ZM601.26 128.6L602.56 128.6L601.96 136ZM604.46 128.2L606.26 128.2L604.96 136ZM601.46 154.5L603.56 154.5L603.46 156.8L601.66 156.8ZM614.53 135L615.13 135L616.23 141L616.43 152.8L614.28 152.8L614.33 141ZM608.93 128.6L610.23 128.6L609.63 136ZM612.13 128.2L613.93 128.2L612.63 136ZM609.13 154.5L611.23 154.5L611.13 156.8L609.33 156.8ZM622.2 135L622.8 135L623.9 141L624.1 152.8L621.95 152.8L622 141ZM616.6 128.6L617.9 128.6L617.3 136ZM619.8 128.2L621.6 128.2L620.3 136ZM616.8 154.5L618.9 154.5L618.8 156.8L617 156.8ZM629.87 135L630.47 135L631.57 141L631.77 152.8L629.62 152.8L629.67 141ZM624.27 128.6L625.57 128.6L624.97 136ZM627.47 128.2L629.27 128.2L627.97 136ZM624.47 154.5L626.57 154.5L626.47 156.8L624.67 156.8ZM637.54 135L638.14 135L639.24 141L639.44 152.8L637.29 152.8L637.34 141ZM631.94 128.6L633.24 128.6L632.64 136ZM635.14 128.2L636.94 128.2L635.64 136ZM632.14 154.5L634.24 154.5L634.14 156.8L632.34 156.8ZM645.22 135L645.81 135L646.91 141L647.12 152.8L644.97 152.8L645.01 141ZM639.62 128.6L640.91 128.6L640.31 136ZM642.81 128.2L644.62 128.2L643.31 136ZM639.81 154.5L641.91 154.5L641.81 156.8L640.01 156.8ZM652.89 135L653.49 135L654.59 141L654.79 152.8L652.64 152.8L652.69 141ZM647.29 128.6L648.59 128.6L647.99 136ZM650.49 128.2L652.29 128.2L650.99 136ZM647.49 154.5L649.59 154.5L649.49 156.8L647.69 156.8ZM660.56 135L661.16 135L662.26 141L662.46 152.8L660.31 152.8L660.36 141ZM654.96 128.6L656.26 128.6L655.66 136ZM658.16 128.2L659.96 128.2L658.66 136ZM655.16 154.5L657.26 154.5L657.16 156.8L655.36 156.8ZM668.23 135L668.83 135L669.93 141L670.13 152.8L667.98 152.8L668.03 141ZM662.63 128.6L663.93 128.6L663.33 136ZM665.83 128.2L667.63 128.2L666.33 136ZM662.83 154.5L664.93 154.5L664.83 156.8L663.03 156.8ZM675.9 135L676.5 135L677.6 141L677.8 152.8L675.65 152.8L675.7 141ZM670.3 128.6L671.6 128.6L671 136ZM673.5 128.2L675.3 128.2L674 136ZM670.5 154.5L672.6 154.5L672.5 156.8L670.7 156.8ZM683.57 135L684.17 135L685.27 141L685.47 152.8L683.32 152.8L683.37 141ZM677.97 128.6L679.27 128.6L678.67 136ZM681.17 128.2L682.97 128.2L681.67 136ZM678.17 154.5L680.27 154.5L680.17 156.8L678.37 156.8ZM691.24 135L691.84 135L692.94 141L693.14 152.8L690.99 152.8L691.04 141ZM685.64 128.6L686.94 128.6L686.34 136ZM688.84 128.2L690.64 128.2L689.34 136ZM685.84 154.5L687.94 154.5L687.84 156.8L686.04 156.8ZM698.91 135L699.51 135L700.61 141L700.81 152.8L698.66 152.8L698.71 141ZM693.31 128.6L694.61 128.6L694.01 136ZM696.51 128.2L698.31 128.2L697.01 136ZM693.51 154.5L695.61 154.5L695.51 156.8L693.71 156.8ZM706.58 135L707.18 135L708.28 141L708.48 152.8L706.33 152.8L706.38 141ZM700.98 128.6L702.28 128.6L701.68 136ZM704.18 128.2L705.98 128.2L704.68 136ZM701.18 154.5L703.28 154.5L703.18 156.8L701.38 156.8ZM714.25 135L714.85 135L715.95 141L716.15 152.8L714 152.8L714.05 141ZM708.65 128.6L709.95 128.6L709.35 136ZM711.85 128.2L713.65 128.2L712.35 136ZM708.85 154.5L710.95 154.5L710.85 156.8L709.05 156.8ZM721.93 135L722.52 135L723.62 141L723.83 152.8L721.68 152.8L721.73 141ZM716.33 128.6L717.62 128.6L717.02 136ZM719.52 128.2L721.33 128.2L720.02 136ZM716.52 154.5L718.62 154.5L718.52 156.8L716.73 156.8ZM729.6 135L730.2 135L731.3 141L731.5 152.8L729.35 152.8L729.4 141ZM724 128.6L725.3 128.6L724.7 136ZM727.2 128.2L729 128.2L727.7 136ZM724.2 154.5L726.3 154.5L726.2 156.8L724.4 156.8ZM737.27 135L737.87 135L738.97 141L739.17 152.8L737.02 152.8L737.07 141ZM731.67 128.6L732.97 128.6L732.37 136ZM734.87 128.2L736.67 128.2L735.37 136ZM731.87 154.5L733.97 154.5L733.87 156.8L732.07 156.8ZM744.94 135L745.54 135L746.64 141L746.84 152.8L744.69 152.8L744.74 141ZM739.34 128.6L740.64 128.6L740.04 136ZM742.54 128.2L744.34 128.2L743.04 136ZM739.54 154.5L741.64 154.5L741.54 156.8L739.74 156.8ZM752.61 135L753.21 135L754.31 141L754.51 152.8L752.36 152.8L752.41 141ZM747.01 128.6L748.31 128.6L747.71 136ZM750.21 128.2L752.01 128.2L750.71 136ZM747.21 154.5L749.31 154.5L749.21 156.8L747.41 156.8ZM760.28 135L760.88 135L761.98 141L762.18 152.8L760.03 152.8L760.08 141ZM754.68 128.6L755.98 128.6L755.38 136ZM757.88 128.2L759.68 128.2L758.38 136ZM754.88 154.5L756.98 154.5L756.88 156.8L755.08 156.8ZM767.95 135L768.55 135L769.65 141L769.85 152.8L767.7 152.8L767.75 141ZM762.35 128.6L763.65 128.6L763.05 136ZM765.55 128.2L767.35 128.2L766.05 136ZM762.55 154.5L764.65 154.5L764.55 156.8L762.75 156.8ZM775.62 135L776.22 135L777.32 141L777.52 152.8L775.37 152.8L775.42 141ZM770.02 128.6L771.32 128.6L770.72 136ZM773.22 128.2L775.02 128.2L773.72 136ZM770.22 154.5L772.32 154.5L772.22 156.8L770.42 156.8ZM783.29 135L783.89 135L784.99 141L785.19 152.8L783.04 152.8L783.09 141ZM777.69 128.6L778.99 128.6L778.39 136ZM780.89 128.2L782.69 128.2L781.39 136ZM777.89 154.5L779.99 154.5L779.89 156.8L778.09 156.8ZM790.96 135L791.56 135L792.66 141L792.86 152.8L790.71 152.8L790.76 141ZM785.36 128.6L786.66 128.6L786.06 136ZM788.56 128.2L790.36 128.2L789.06 136ZM785.56 154.5L787.66 154.5L787.56 156.8L785.76 156.8ZM798.63 135L799.23 135L800.33 141L800.53 152.8L798.38 152.8L798.43 141ZM793.03 128.6L794.33 128.6L793.73 136ZM796.23 128.2L798.03 128.2L796.73 136ZM793.23 154.5L795.33 154.5L795.23 156.8L793.43 156.8ZM806.31 135L806.91 135L808.01 141L808.21 152.8L806.06 152.8L806.11 141ZM800.71 128.6L802.01 128.6L801.41 136ZM803.91 128.2L805.71 128.2L804.41 136ZM800.91 154.5L803.01 154.5L802.91 156.8L801.11 156.8ZM813.98 135L814.58 135L815.68 141L815.88 152.8L813.73 152.8L813.78 141ZM808.38 128.6L809.68 128.6L809.08 136ZM811.58 128.2L813.38 128.2L812.08 136ZM808.58 154.5L810.68 154.5L810.58 156.8L808.78 156.8ZM821.65 135L822.25 135L823.35 141L823.55 152.8L821.4 152.8L821.45 141ZM816.05 128.6L817.35 128.6L816.75 136ZM819.25 128.2L821.05 128.2L819.75 136ZM816.25 154.5L818.35 154.5L818.25 156.8L816.45 156.8ZM829.32 135L829.92 135L831.02 141L831.22 152.8L829.07 152.8L829.12 141ZM823.72 128.6L825.02 128.6L824.42 136ZM826.92 128.2L828.72 128.2L827.42 136ZM823.92 154.5L826.02 154.5L825.92 156.8L824.12 156.8ZM836.99 135L837.59 135L838.69 141L838.89 152.8L836.74 152.8L836.79 141ZM831.39 128.6L832.69 128.6L832.09 136ZM834.59 128.2L836.39 128.2L835.09 136ZM831.59 154.5L833.69 154.5L833.59 156.8L831.79 156.8ZM844.66 135L845.26 135L846.36 141L846.56 152.8L844.41 152.8L844.46 141ZM839.06 128.6L840.36 128.6L839.76 136ZM842.26 128.2L844.06 128.2L842.76 136ZM839.26 154.5L841.36 154.5L841.26 156.8L839.46 156.8ZM852.33 135L852.93 135L854.03 141L854.23 152.8L852.08 152.8L852.13 141ZM846.73 128.6L848.03 128.6L847.43 136ZM849.93 128.2L851.73 128.2L850.43 136ZM846.93 154.5L849.03 154.5L848.93 156.8L847.13 156.8ZM860 135L860.6 135L861.7 141L861.9 152.8L859.75 152.8L859.8 141ZM854.4 128.6L855.7 128.6L855.1 136ZM857.6 128.2L859.4 128.2L858.1 136ZM854.6 154.5L856.7 154.5L856.6 156.8L854.8 156.8ZM867.67 135L868.27 135L869.37 141L869.57 152.8L867.42 152.8L867.47 141ZM862.07 128.6L863.37 128.6L862.77 136ZM865.27 128.2L867.07 128.2L865.77 136ZM862.27 154.5L864.37 154.5L864.27 156.8L862.47 156.8ZM875.35 135L875.94 135L877.04 141L877.25 152.8L875.1 152.8L875.14 141ZM869.75 128.6L871.04 128.6L870.44 136ZM872.94 128.2L874.75 128.2L873.44 136ZM869.94 154.5L872.04 154.5L871.94 156.8L870.14 156.8ZM883.02 135L883.62 135L884.72 141L884.92 152.8L882.77 152.8L882.82 141ZM877.42 128.6L878.72 128.6L878.12 136ZM880.62 128.2L882.42 128.2L881.12 136ZM877.62 154.5L879.72 154.5L879.62 156.8L877.82 156.8ZM890.69 135L891.29 135L892.39 141L892.59 152.8L890.44 152.8L890.49 141ZM885.09 128.6L886.39 128.6L885.79 136ZM888.29 128.2L890.09 128.2L888.79 136ZM885.29 154.5L887.39 154.5L887.29 156.8L885.49 156.8ZM898.36 135L898.96 135L900.06 141L900.26 152.8L898.11 152.8L898.16 141ZM892.76 128.6L894.06 128.6L893.46 136ZM895.96 128.2L897.76 128.2L896.46 136ZM892.96 154.5L895.06 154.5L894.96 156.8L893.16 156.8ZM906.03 135L906.63 135L907.73 141L907.93 152.8L905.78 152.8L905.83 141ZM900.43 128.6L901.73 128.6L901.13 136ZM903.63 128.2L905.43 128.2L904.13 136ZM900.63 154.5L902.73 154.5L902.63 156.8L900.83 156.8ZM913.7 135L914.3 135L915.4 141L915.6 152.8L913.45 152.8L913.5 141ZM908.1 128.6L909.4 128.6L908.8 136ZM911.3 128.2L913.1 128.2L911.8 136ZM908.3 154.5L910.4 154.5L910.3 156.8L908.5 156.8Z" fill="#348ABD"/>
<path d="M134.58 128.2L136.58 128.2L136.48 131L134.73 131ZM142.25 128.2L144.25 128.2L144.15 131L142.4 131ZM149.92 128.2L151.92 128.2L151.82 131L150.07 131ZM157.59 128.2L159.59 128.2L159.49 131L157.74 131ZM165.26 128.2L167.26 128.2L167.16 131L165.41 131ZM172.93 128.2L174.93 128.2L174.83 131L173.08 131ZM180.6 128.2L182.6 128.2L182.5 131L180.75 131ZM188.28 128.2L190.28 128.2L190.18 131L188.43 131ZM195.95 128.2L197.95 128.2L197.85 131L196.1 131ZM203.62 128.2L205.62 128.2L205.52 131L203.77 131ZM211.29 128.2L213.29 128.2L213.19 131L211.44 131ZM218.96 128.2L220.96 128.2L220.86 131L219.11 131ZM226.63 128.2L228.63 128.2L228.53 131L226.78 131ZM234.3 128.2L236.3 128.2L236.2 131L234.45 131ZM241.97 128.2L243.97 128.2L243.87 131L242.12 131ZM249.64 128.2L251.64 128.2L251.54 131L249.79 131ZM257.32 128.2L259.32 128.2L259.22 131L257.47 131ZM264.99 128.2L266.99 128.2L266.89 131L265.14 131ZM272.66 128.2L274.66 128.2L274.56 131L272.81 131ZM280.33 128.2L282.33 128.2L282.23 131L280.48 131ZM288 128.2L290 128.2L289.9 131L288.15 131ZM295.67 128.2L297.67 128.2L297.57 131L295.82 131ZM303.34 128.2L305.34 128.2L305.24 131L303.49 131ZM311.01 128.2L313.01 128.2L312.91 131L311.16 131ZM318.68 128.2L320.68 128.2L320.58 131L318.83 131ZM326.35 128.2L328.35 128.2L328.25 131L326.5 131ZM334.03 128.2L336.03 128.2L335.93 131L334.18 131ZM341.7 128.2L343.7 128.2L343.6 131L341.85 131ZM349.37 128.2L351.37 128.2L351.27 131L349.52 131ZM357.04 128.2L359.04 128.2L358.94 131L357.19 131ZM364.71 128.2L366.71 128.2L366.61 131L364.86 131ZM372.38 128.2L374.38 128.2L374.28 131L372.53 131ZM380.05 128.2L382.05 128.2L381.95 131L380.2 131ZM387.72 128.2L389.72 128.2L389.62 131L387.87 131ZM395.39 128.2L397.39 128.2L397.29 131L395.54 131ZM403.06 128.2L405.06 128.2L404.96 131L403.21 131ZM410.74 128.2L412.74 128.2L412.63 131L410.88 131ZM418.41 128.2L420.41 128.2L420.31 131L418.56 131ZM426.08 128.2L428.08 128.2L427.98 131L426.23 131ZM433.75 128.2L435.75 128.2L435.65 131L433.9 131ZM441.42 128.2L443.42 128.2L443.32 131L441.57 131ZM449.09 128.2L451.09 128.2L450.99 131L449.24 131ZM456.76 128.2L458.76 128.2L458.66 131L456.91 131ZM464.43 128.2L466.43 128.2L466.33 131L464.58 131ZM472.1 128.2L474.1 128.2L474 131L472.25 131ZM479.77 128.2L481.77 128.2L481.67 131L479.92 131ZM487.45 128.2L489.45 128.2L489.35 131L487.6 131ZM495.12 128.2L497.12 128.2L497.02 131L495.27 131ZM502.79 128.2L504.79 128.2L504.69 131L502.94 131ZM510.46 128.2L512.46 128.2L512.36 131L510.61 131ZM518.13 128.2L520.13 128.2L520.03 131L518.28 131ZM525.8 128.2L527.8 128.2L527.7 131L525.95 131ZM533.47 128.2L535.47 128.2L535.37 131L533.62 131ZM541.14 128.2L543.14 128.2L543.04 131L541.29 131ZM548.81 128.2L550.81 128.2L550.71 131L548.96 131ZM556.48 128.2L558.48 128.2L558.38 131L556.63 131ZM564.16 128.2L566.16 128.2L566.06 131L564.31 131ZM571.83 128.2L573.83 128.2L573.73 131L571.98 131ZM579.5 128.2L581.5 128.2L581.4 131L579.65 131ZM587.17 128.2L589.17 128.2L589.07 131L587.32 131ZM594.84 128.2L596.84 128.2L596.74 131L594.99 131ZM602.51 128.2L604.51 128.2L604.41 131L602.66 131ZM610.18 128.2L612.18 128.2L612.08 131L610.33 131ZM617.85 128.2L619.85 128.2L619.75 131L618 131ZM625.52 128.2L627.52 128.2L627.42 131L625.67 131ZM633.19 128.2L635.19 128.2L635.09 131L633.34 131ZM640.87 128.2L642.87 128.2L642.76 131L641.01 131ZM648.54 128.2L650.54 128.2L650.44 131L648.69 131ZM656.21 128.2L658.21 128.2L658.11 131L656.36 131ZM663.88 128.2L665.88 128.2L665.78 131L664.03 131ZM671.55 128.2L673.55 128.2L673.45 131L671.7 131ZM679.22 128.2L681.22 128.2L681.12 131L679.37 131ZM686.89 128.2L688.89 128.2L688.79 131L687.04 131ZM694.56 128.2L696.56 128.2L696.46 131L694.71 131ZM702.23 128.2L704.23 128.2L704.13 131L702.38 131ZM709.9 128.2L711.9 128.2L711.8 131L710.05 131ZM717.58 128.2L719.58 128.2L719.48 131L717.73 131ZM725.25 128.2L727.25 128.2L727.15 131L725.4 131ZM732.92 128.2L734.92 128.2L734.82 131L733.07 131ZM740.59 128.2L742.59 128.2L742.49 131L740.74 131ZM748.26 128.2L750.26 128.2L750.16 131L748.41 131ZM755.93 128.2L757.93 128.2L757.83 131L756.08 131ZM763.6 128.2L765.6 128.2L765.5 131L763.75 131ZM771.27 128.2L773.27 128.2L773.17 131L771.42 131ZM778.94 128.2L780.94 128.2L780.84 131L779.09 131ZM786.61 128.2L788.61 128.2L788.51 131L786.76 131ZM794.28 128.2L796.28 128.2L796.18 131L794.43 131ZM801.96 128.2L803.96 128.2L803.86 131L802.11 131ZM809.63 128.2L811.63 128.2L811.53 131L809.78 131ZM817.3 128.2L819.3 128.2L819.2 131L817.45 131ZM824.97 128.2L826.97 128.2L826.87 131L825.12 131ZM832.64 128.2L834.64 128.2L834.54 131L832.79 131ZM840.31 128.2L842.31 128.2L842.21 131L840.46 131ZM847.98 128.2L849.98 128.2L849.88 131L848.13 131ZM855.65 128.2L857.65 128.2L857.55 131L855.8 131ZM863.32 128.2L865.32 128.2L865.22 131L863.47 131ZM871 128.2L873 128.2L872.89 131L871.14 131ZM878.67 128.2L880.67 128.2L880.57 131L878.82 131ZM886.34 128.2L888.34 128.2L888.24 131L886.49 131ZM894.01 128.2L896.01 128.2L895.91 131L894.16 131ZM901.68 128.2L903.68 128.2L903.58 131L901.83 131ZM909.35 128.2L911.35 128.2L911.25 131L909.5 131Z" fill="#8EBA42"/>
<path d="M138.73 152.6H140.73V153.8H138.73ZM135.57 153.6H137.57V155H135.57ZM146.4 152.6H148.4V153.8H146.4ZM143.24 153.6H145.24V155H143.24ZM154.07 152.6H156.07V153.8H154.07ZM150.91 153.6H152.91V155H150.91ZM161.74 152.6H163.74V153.8H161.74ZM158.58 153.6H160.58V155H158.58ZM169.41 152.6H171.41V153.8H169.41ZM166.25 153.6H168.25V155H166.25ZM177.08 152.6H179.08V153.8H177.08ZM173.92 153.6H175.92V155H173.92ZM184.75 152.6H186.75V153.8H184.75ZM181.59 153.6H183.59V155H181.59ZM192.43 152.6H194.43V153.8H192.43ZM189.27 153.6H191.27V155H189.27ZM200.1 152.6H202.1V153.8H200.1ZM196.94 153.6H198.94V155H196.94ZM207.77 152.6H209.77V153.8H207.77ZM204.61 153.6H206.61V155H204.61ZM215.44 152.6H217.44V153.8H215.44ZM212.28 153.6H214.28V155H212.28ZM223.11 152.6H225.11V153.8H223.11ZM219.95 153.6H221.95V155H219.95ZM230.78 152.6H232.78V153.8H230.78ZM227.62 153.6H229.62V155H227.62ZM238.45 152.6H240.45V153.8H238.45ZM235.29 153.6H237.29V155H235.29ZM246.12 152.6H248.12V153.8H246.12ZM242.96 153.6H244.96V155H242.96ZM253.79 152.6H255.79V153.8H253.79ZM250.63 153.6H252.63V155H250.63ZM261.47 152.6H263.47V153.8H261.47ZM258.31 153.6H260.31V155H258.31ZM269.14 152.6H271.14V153.8H269.14ZM265.98 153.6H267.98V155H265.98ZM276.81 152.6H278.81V153.8H276.81ZM273.65 153.6H275.65V155H273.65ZM284.48 152.6H286.48V153.8H284.48ZM281.32 153.6H283.32V155H281.32ZM292.15 152.6H294.15V153.8H292.15ZM288.99 153.6H290.99V155H288.99ZM299.82 152.6H301.82V153.8H299.82ZM296.66 153.6H298.66V155H296.66ZM307.49 152.6H309.49V153.8H307.49ZM304.33 153.6H306.33V155H304.33ZM315.16 152.6H317.16V153.8H315.16ZM312 153.6H314V155H312ZM322.83 152.6H324.83V153.8H322.83ZM319.67 153.6H321.67V155H319.67ZM330.5 152.6H332.5V153.8H330.5ZM327.34 153.6H329.34V155H327.34ZM338.18 152.6H340.18V153.8H338.18ZM335.01 153.6H337.01V155H335.01ZM345.85 152.6H347.85V153.8H345.85ZM342.69 153.6H344.69V155H342.69ZM353.52 152.6H355.52V153.8H353.52ZM350.36 153.6H352.36V155H350.36ZM361.19 152.6H363.19V153.8H361.19ZM358.03 153.6H360.03V155H358.03ZM368.86 152.6H370.86V153.8H368.86ZM365.7 153.6H367.7V155H365.7ZM376.53 152.6H378.53V153.8H376.53ZM373.37 153.6H375.37V155H373.37ZM384.2 152.6H386.2V153.8H384.2ZM381.04 153.6H383.04V155H381.04ZM391.87 152.6H393.87V153.8H391.87ZM388.71 153.6H390.71V155H388.71ZM399.54 152.6H401.54V153.8H399.54ZM396.38 153.6H398.38V155H396.38ZM407.21 152.6H409.21V153.8H407.21ZM404.05 153.6H406.05V155H404.05ZM414.88 152.6H416.88V153.8H414.88ZM411.72 153.6H413.72V155H411.72ZM422.56 152.6H424.56V153.8H422.56ZM419.4 153.6H421.4V155H419.4ZM430.23 152.6H432.23V153.8H430.23ZM427.07 153.6H429.07V155H427.07ZM437.9 152.6H439.9V153.8H437.9ZM434.74 153.6H436.74V155H434.74ZM445.57 152.6H447.57V153.8H445.57ZM442.41 153.6H444.41V155H442.41ZM453.24 152.6H455.24V153.8H453.24ZM450.08 153.6H452.08V155H450.08ZM460.91 152.6H462.91V153.8H460.91ZM457.75 153.6H459.75V155H457.75ZM468.58 152.6H470.58V153.8H468.58ZM465.42 153.6H467.42V155H465.42ZM476.25 152.6H478.25V153.8H476.25ZM473.09 153.6H475.09V155H473.09ZM483.92 152.6H485.92V153.8H483.92ZM480.76 153.6H482.76V155H480.76ZM491.6 152.6H493.6V153.8H491.6ZM488.44 153.6H490.44V155H488.44ZM499.27 152.6H501.27V153.8H499.27ZM496.11 153.6H498.11V155H496.11ZM506.94 152.6H508.94V153.8H506.94ZM503.78 153.6H505.78V155H503.78ZM514.61 152.6H516.61V153.8H514.61ZM511.45 153.6H513.45V155H511.45ZM522.28 152.6H524.28V153.8H522.28ZM519.12 153.6H521.12V155H519.12ZM529.95 152.6H531.95V153.8H529.95ZM526.79 153.6H528.79V155H526.79ZM537.62 152.6H539.62V153.8H537.62ZM534.46 153.6H536.46V155H534.46ZM545.29 152.6H547.29V153.8H545.29ZM542.13 153.6H544.13V155H542.13ZM552.96 152.6H554.96V153.8H552.96ZM549.8 153.6H551.8V155H549.8ZM560.63 152.6H562.63V153.8H560.63ZM557.47 153.6H559.47V155H557.47ZM568.31 152.6H570.31V153.8H568.31ZM565.15 153.6H567.15V155H565.15ZM575.98 152.6H577.98V153.8H575.98ZM572.82 153.6H574.82V155H572.82ZM583.65 152.6H585.65V153.8H583.65ZM580.49 153.6H582.49V155H580.49ZM591.32 152.6H593.32V153.8H591.32ZM588.16 153.6H590.16V155H588.16ZM598.99 152.6H600.99V153.8H598.99ZM595.83 153.6H597.83V155H595.83ZM606.66 152.6H608.66V153.8H606.66ZM603.5 153.6H605.5V155H603.5ZM614.33 152.6H616.33V153.8H614.33ZM611.17 153.6H613.17V155H611.17ZM622 152.6H624V153.8H622ZM618.84 153.6H620.84V155H618.84ZM629.67 152.6H631.67V153.8H629.67ZM626.51 153.6H628.51V155H626.51ZM637.34 152.6H639.34V153.8H637.34ZM634.18 153.6H636.18V155H634.18ZM645.01 152.6H647.01V153.8H645.01ZM641.86 153.6H643.86V155H641.86ZM652.69 152.6H654.69V153.8H652.69ZM649.53 153.6H651.53V155H649.53ZM660.36 152.6H662.36V153.8H660.36ZM657.2 153.6H659.2V155H657.2ZM668.03 152.6H670.03V153.8H668.03ZM664.87 153.6H666.87V155H664.87ZM675.7 152.6H677.7V153.8H675.7ZM672.54 153.6H674.54V155H672.54ZM683.37 152.6H685.37V153.8H683.37ZM680.21 153.6H682.21V155H680.21ZM691.04 152.6H693.04V153.8H691.04ZM687.88 153.6H689.88V155H687.88ZM698.71 152.6H700.71V153.8H698.71ZM695.55 153.6H697.55V155H695.55ZM706.38 152.6H708.38V153.8H706.38ZM703.22 153.6H705.22V155H703.22ZM714.05 152.6H716.05V153.8H714.05ZM710.89 153.6H712.89V155H710.89ZM721.73 152.6H723.73V153.8H721.73ZM718.57 153.6H720.57V155H718.57ZM729.4 152.6H731.4V153.8H729.4ZM726.24 153.6H728.24V155H726.24ZM737.07 152.6H739.07V153.8H737.07ZM733.91 153.6H735.91V155H733.91ZM744.74 152.6H746.74V153.8H744.74ZM741.58 153.6H743.58V155H741.58ZM752.41 152.6H754.41V153.8H752.41ZM749.25 153.6H751.25V155H749.25ZM760.08 152.6H762.08V153.8H760.08ZM756.92 153.6H758.92V155H756.92ZM767.75 152.6H769.75V153.8H767.75ZM764.59 153.6H766.59V155H764.59ZM775.42 152.6H777.42V153.8H775.42ZM772.26 153.6H774.26V155H772.26ZM783.09 152.6H785.09V153.8H783.09ZM779.93 153.6H781.93V155H779.93ZM790.76 152.6H792.76V153.8H790.76ZM787.6 153.6H789.6V155H787.6ZM798.43 152.6H800.43V153.8H798.43ZM795.27 153.6H797.27V155H795.27ZM806.11 152.6H808.11V153.8H806.11ZM802.95 153.6H804.95V155H802.95ZM813.78 152.6H815.78V153.8H813.78ZM810.62 153.6H812.62V155H810.62ZM821.45 152.6H823.45V153.8H821.45ZM818.29 153.6H820.29V155H818.29ZM829.12 152.6H831.12V153.8H829.12ZM825.96 153.6H827.96V155H825.96ZM836.79 152.6H838.79V153.8H836.79ZM833.63 153.6H835.63V155H833.63ZM844.46 152.6H846.46V153.8H844.46ZM841.3 153.6H843.3V155H841.3ZM852.13 152.6H854.13V153.8H852.13ZM848.97 153.6H850.97V155H848.97ZM859.8 152.6H861.8V153.8H859.8ZM856.64 153.6H858.64V155H856.64ZM867.47 152.6H869.47V153.8H867.47ZM864.31 153.6H866.31V155H864.31ZM875.14 152.6H877.14V153.8H875.14ZM871.99 153.6H873.99V155H871.99ZM882.82 152.6H884.82V153.8H882.82ZM879.66 153.6H881.66V155H879.66ZM890.49 152.6H892.49V153.8H890.49ZM887.33 153.6H889.33V155H887.33ZM898.16 152.6H900.16V153.8H898.16ZM895 153.6H897V155H895ZM905.83 152.6H907.83V153.8H905.83ZM902.67 153.6H904.67V155H902.67ZM913.5 152.6H915.5V153.8H913.5ZM910.34 153.6H912.34V155H910.34Z" fill="#FBC15E"/>
<path d="M135.57 155L137.57 155L137.53 160.8L135.73 160.8ZM143.24 155L145.24 155L145.2 160.8L143.4 160.8ZM150.91 155L152.91 155L152.87 160.8L151.07 160.8ZM158.58 155L160.58 155L160.54 160.8L158.74 160.8ZM166.25 155L168.25 155L168.21 160.8L166.41 160.8ZM173.92 155L175.92 155L175.88 160.8L174.08 160.8ZM181.59 155L183.59 155L183.56 160.8L181.75 160.8ZM189.27 155L191.27 155L191.23 160.8L189.43 160.8ZM196.94 155L198.94 155L198.9 160.8L197.1 160.8ZM204.61 155L206.61 155L206.57 160.8L204.77 160.8ZM212.28 155L214.28 155L214.24 160.8L212.44 160.8ZM219.95 155L221.95 155L221.91 160.8L220.11 160.8ZM227.62 155L229.62 155L229.58 160.8L227.78 160.8ZM235.29 155L237.29 155L237.25 160.8L235.45 160.8ZM242.96 155L244.96 155L244.92 160.8L243.12 160.8ZM250.63 155L252.63 155L252.59 160.8L250.79 160.8ZM258.31 155L260.31 155L260.27 160.8L258.47 160.8ZM265.98 155L267.98 155L267.94 160.8L266.14 160.8ZM273.65 155L275.65 155L275.61 160.8L273.81 160.8ZM281.32 155L283.32 155L283.28 160.8L281.48 160.8ZM288.99 155L290.99 155L290.95 160.8L289.15 160.8ZM296.66 155L298.66 155L298.62 160.8L296.82 160.8ZM304.33 155L306.33 155L306.29 160.8L304.49 160.8ZM312 155L314 155L313.96 160.8L312.16 160.8ZM319.67 155L321.67 155L321.63 160.8L319.83 160.8ZM327.34 155L329.34 155L329.3 160.8L327.5 160.8ZM335.01 155L337.01 155L336.98 160.8L335.18 160.8ZM342.69 155L344.69 155L344.65 160.8L342.85 160.8ZM350.36 155L352.36 155L352.32 160.8L350.52 160.8ZM358.03 155L360.03 155L359.99 160.8L358.19 160.8ZM365.7 155L367.7 155L367.66 160.8L365.86 160.8ZM373.37 155L375.37 155L375.33 160.8L373.53 160.8ZM381.04 155L383.04 155L383 160.8L381.2 160.8ZM388.71 155L390.71 155L390.67 160.8L388.87 160.8ZM396.38 155L398.38 155L398.34 160.8L396.54 160.8ZM404.05 155L406.05 155L406.01 160.8L404.21 160.8ZM411.72 155L413.72 155L413.69 160.8L411.88 160.8ZM419.4 155L421.4 155L421.36 160.8L419.56 160.8ZM427.07 155L429.07 155L429.03 160.8L427.23 160.8ZM434.74 155L436.74 155L436.7 160.8L434.9 160.8ZM442.41 155L444.41 155L444.37 160.8L442.57 160.8ZM450.08 155L452.08 155L452.04 160.8L450.24 160.8ZM457.75 155L459.75 155L459.71 160.8L457.91 160.8ZM465.42 155L467.42 155L467.38 160.8L465.58 160.8ZM473.09 155L475.09 155L475.05 160.8L473.25 160.8ZM480.76 155L482.76 155L482.72 160.8L480.92 160.8ZM488.44 155L490.44 155L490.4 160.8L488.6 160.8ZM496.11 155L498.11 155L498.07 160.8L496.27 160.8ZM503.78 155L505.78 155L505.74 160.8L503.94 160.8ZM511.45 155L513.45 155L513.41 160.8L511.61 160.8ZM519.12 155L521.12 155L521.08 160.8L519.28 160.8ZM526.79 155L528.79 155L528.75 160.8L526.95 160.8ZM534.46 155L536.46 155L536.42 160.8L534.62 160.8ZM542.13 155L544.13 155L544.09 160.8L542.29 160.8ZM549.8 155L551.8 155L551.76 160.8L549.96 160.8ZM557.47 155L559.47 155L559.43 160.8L557.63 160.8ZM565.15 155L567.15 155L567.11 160.8L565.31 160.8ZM572.82 155L574.82 155L574.78 160.8L572.98 160.8ZM580.49 155L582.49 155L582.45 160.8L580.65 160.8ZM588.16 155L590.16 155L590.12 160.8L588.32 160.8ZM595.83 155L597.83 155L597.79 160.8L595.99 160.8ZM603.5 155L605.5 155L605.46 160.8L603.66 160.8ZM611.17 155L613.17 155L613.13 160.8L611.33 160.8ZM618.84 155L620.84 155L620.8 160.8L619 160.8ZM626.51 155L628.51 155L628.47 160.8L626.67 160.8ZM634.18 155L636.18 155L636.14 160.8L634.34 160.8ZM641.86 155L643.86 155L643.81 160.8L642.01 160.8ZM649.53 155L651.53 155L651.49 160.8L649.69 160.8ZM657.2 155L659.2 155L659.16 160.8L657.36 160.8ZM664.87 155L666.87 155L666.83 160.8L665.03 160.8ZM672.54 155L674.54 155L674.5 160.8L672.7 160.8ZM680.21 155L682.21 155L682.17 160.8L680.37 160.8ZM687.88 155L689.88 155L689.84 160.8L688.04 160.8ZM695.55 155L697.55 155L697.51 160.8L695.71 160.8ZM703.22 155L705.22 155L705.18 160.8L703.38 160.8ZM710.89 155L712.89 155L712.85 160.8L711.05 160.8ZM718.57 155L720.57 155L720.52 160.8L718.73 160.8ZM726.24 155L728.24 155L728.2 160.8L726.4 160.8ZM733.91 155L735.91 155L735.87 160.8L734.07 160.8ZM741.58 155L743.58 155L743.54 160.8L741.74 160.8ZM749.25 155L751.25 155L751.21 160.8L749.41 160.8ZM756.92 155L758.92 155L758.88 160.8L757.08 160.8ZM764.59 155L766.59 155L766.55 160.8L764.75 160.8ZM772.26 155L774.26 155L774.22 160.8L772.42 160.8ZM779.93 155L781.93 155L781.89 160.8L780.09 160.8ZM787.6 155L789.6 155L789.56 160.8L787.76 160.8ZM795.27 155L797.27 155L797.23 160.8L795.43 160.8ZM802.95 155L804.95 155L804.91 160.8L803.11 160.8ZM810.62 155L812.62 155L812.58 160.8L810.78 160.8ZM818.29 155L820.29 155L820.25 160.8L818.45 160.8ZM825.96 155L827.96 155L827.92 160.8L826.12 160.8ZM833.63 155L835.63 155L835.59 160.8L833.79 160.8ZM841.3 155L843.3 155L843.26 160.8L841.46 160.8ZM848.97 155L850.97 155L850.93 160.8L849.13 160.8ZM856.64 155L858.64 155L858.6 160.8L856.8 160.8ZM864.31 155L866.31 155L866.27 160.8L864.47 160.8ZM871.99 155L873.99 155L873.94 160.8L872.14 160.8ZM879.66 155L881.66 155L881.62 160.8L879.82 160.8ZM887.33 155L889.33 155L889.29 160.8L887.49 160.8ZM895 155L897 155L896.96 160.8L895.16 160.8ZM902.67 155L904.67 155L904.63 160.8L902.83 160.8ZM910.34 155L912.34 155L912.3 160.8L910.5 160.8Z" fill="#988ED5"/>
<path d="M133.33 128H134.63V128.7H133.33ZM141 128H142.3V128.7H141ZM148.67 128H149.97V128.7H148.67ZM156.34 128H157.64V128.7H156.34ZM164.01 128H165.31V128.7H164.01ZM171.68 128H172.98V128.7H171.68ZM179.35 128H180.66V128.7H179.35ZM187.03 128H188.33V128.7H187.03ZM194.7 128H196V128.7H194.7ZM202.37 128H203.67V128.7H202.37ZM210.04 128H211.34V128.7H210.04ZM217.71 128H219.01V128.7H217.71ZM225.38 128H226.68V128.7H225.38ZM233.05 128H234.35V128.7H233.05ZM240.72 128H242.02V128.7H240.72ZM248.39 128H249.69V128.7H248.39ZM256.07 128H257.37V128.7H256.07ZM263.74 128H265.04V128.7H263.74ZM271.41 128H272.71V128.7H271.41ZM279.08 128H280.38V128.7H279.08ZM286.75 128H288.05V128.7H286.75ZM294.42 128H295.72V128.7H294.42ZM302.09 128H303.39V128.7H302.09ZM309.76 128H311.06V128.7H309.76ZM317.43 128H318.73V128.7H317.43ZM325.1 128H326.4V128.7H325.1ZM332.78 128H334.07V128.7H332.78ZM340.45 128H341.75V128.7H340.45ZM348.12 128H349.42V128.7H348.12ZM355.79 128H357.09V128.7H355.79ZM363.46 128H364.76V128.7H363.46ZM371.13 128H372.43V128.7H371.13ZM378.8 128H380.1V128.7H378.8ZM386.47 128H387.77V128.7H386.47ZM394.14 128H395.44V128.7H394.14ZM401.81 128H403.11V128.7H401.81ZM409.49 128H410.78V128.7H409.49ZM417.16 128H418.46V128.7H417.16ZM424.83 128H426.13V128.7H424.83ZM432.5 128H433.8V128.7H432.5ZM440.17 128H441.47V128.7H440.17ZM447.84 128H449.14V128.7H447.84ZM455.51 128H456.81V128.7H455.51ZM463.18 128H464.48V128.7H463.18ZM470.85 128H472.15V128.7H470.85ZM478.52 128H479.82V128.7H478.52ZM486.2 128H487.5V128.7H486.2ZM493.87 128H495.17V128.7H493.87ZM501.54 128H502.84V128.7H501.54ZM509.21 128H510.51V128.7H509.21ZM516.88 128H518.18V128.7H516.88ZM524.55 128H525.85V128.7H524.55ZM532.22 128H533.52V128.7H532.22ZM539.89 128H541.19V128.7H539.89ZM547.56 128H548.86V128.7H547.56ZM555.23 128H556.53V128.7H555.23ZM562.91 128H564.21V128.7H562.91ZM570.58 128H571.88V128.7H570.58ZM578.25 128H579.55V128.7H578.25ZM585.92 128H587.22V128.7H585.92ZM593.59 128H594.89V128.7H593.59ZM601.26 128H602.56V128.7H601.26ZM608.93 128H610.23V128.7H608.93ZM616.6 128H617.9V128.7H616.6ZM624.27 128H625.57V128.7H624.27ZM631.94 128H633.24V128.7H631.94ZM639.62 128H640.91V128.7H639.62ZM647.29 128H648.59V128.7H647.29ZM654.96 128H656.26V128.7H654.96ZM662.63 128H663.93V128.7H662.63ZM670.3 128H671.6V128.7H670.3ZM677.97 128H679.27V128.7H677.97ZM685.64 128H686.94V128.7H685.64ZM693.31 128H694.61V128.7H693.31ZM700.98 128H702.28V128.7H700.98ZM708.65 128H709.95V128.7H708.65ZM716.33 128H717.62V128.7H716.33ZM724 128H725.3V128.7H724ZM731.67 128H732.97V128.7H731.67ZM739.34 128H740.64V128.7H739.34ZM747.01 128H748.31V128.7H747.01ZM754.68 128H755.98V128.7H754.68ZM762.35 128H763.65V128.7H762.35ZM770.02 128H771.32V128.7H770.02ZM777.69 128H778.99V128.7H777.69ZM785.36 128H786.66V128.7H785.36ZM793.03 128H794.33V128.7H793.03ZM800.71 128H802.01V128.7H800.71ZM808.38 128H809.68V128.7H808.38ZM816.05 128H817.35V128.7H816.05ZM823.72 128H825.02V128.7H823.72ZM831.39 128H832.69V128.7H831.39ZM839.06 128H840.36V128.7H839.06ZM846.73 128H848.03V128.7H846.73ZM854.4 128H855.7V128.7H854.4ZM862.07 128H863.37V128.7H862.07ZM869.75 128H871.04V128.7H869.75ZM877.42 128H878.72V128.7H877.42ZM885.09 128H886.39V128.7H885.09ZM892.76 128H894.06V128.7H892.76ZM900.43 128H901.73V128.7H900.43ZM908.1 128H909.4V128.7H908.1Z" fill="#EEEEEE"/>
<path d="M135.93 323.3L135.93 302.2L136.93 300.5L137.43 298L137.68 294L139.58 294L139.58 299.3L141.58 299.3L142.58 308.5L143.6 302.2L143.6 323.3L140.53 323.3L140.53 322L136.63 322L136.63 323.3ZM143.6 323.3L143.6 302.2L144.6 300.5L145.1 298L145.35 294L147.25 294L147.25 299.3L149.25 299.3L150.25 308.5L151.27 302.2L151.27 323.3L148.2 323.3L148.2 322L144.3 322L144.3 323.3ZM151.27 323.3L151.27 302.2L152.27 300.5L152.77 298L153.02 294L154.92 294L154.92 299.3L156.92 299.3L157.92 308.5L158.94 302.2L158.94 323.3L155.87 323.3L155.87 322L151.97 322L151.97 323.3ZM158.94 323.3L158.94 302.2L159.94 300.5L160.44 298L160.69 294L162.59 294L162.59 299.3L164.59 299.3L165.59 308.5L166.61 302.2L166.61 323.3L163.54 323.3L163.54 322L159.64 322L159.64 323.3ZM166.61 323.3L166.61 302.2L167.61 300.5L168.11 298L168.36 294L170.26 294L170.26 299.3L172.26 299.3L173.26 308.5L174.28 302.2L174.28 323.3L171.21 323.3L171.21 322L167.31 322L167.31 323.3ZM174.28 323.3L174.28 302.2L175.28 300.5L175.78 298L176.03 294L177.93 294L177.93 299.3L179.93 299.3L180.93 308.5L181.95 302.2L181.95 323.3L178.88 323.3L178.88 322L174.98 322L174.98 323.3ZM181.95 323.3L181.95 302.2L182.95 300.5L183.45 298L183.7 294L185.6 294L185.6 299.3L187.6 299.3L188.6 308.5L189.62 302.2L189.62 323.3L186.56 323.3L186.56 322L182.66 322L182.66 323.3ZM189.63 323.3L189.63 302.2L190.63 300.5L191.13 298L191.38 294L193.28 294L193.28 299.3L195.28 299.3L196.28 308.5L197.3 302.2L197.3 323.3L194.23 323.3L194.23 322L190.33 322L190.33 323.3ZM197.3 323.3L197.3 302.2L198.3 300.5L198.8 298L199.05 294L200.95 294L200.95 299.3L202.95 299.3L203.95 308.5L204.97 302.2L204.97 323.3L201.9 323.3L201.9 322L198 322L198 323.3ZM204.97 323.3L204.97 302.2L205.97 300.5L206.47 298L206.72 294L208.62 294L208.62 299.3L210.62 299.3L211.62 308.5L212.64 302.2L212.64 323.3L209.57 323.3L209.57 322L205.67 322L205.67 323.3ZM212.64 323.3L212.64 302.2L213.64 300.5L214.14 298L214.39 294L216.29 294L216.29 299.3L218.29 299.3L219.29 308.5L220.31 302.2L220.31 323.3L217.24 323.3L217.24 322L213.34 322L213.34 323.3ZM220.31 323.3L220.31 302.2L221.31 300.5L221.81 298L222.06 294L223.96 294L223.96 299.3L225.96 299.3L226.96 308.5L227.98 302.2L227.98 323.3L224.91 323.3L224.91 322L221.01 322L221.01 323.3ZM227.98 323.3L227.98 302.2L228.98 300.5L229.48 298L229.73 294L231.63 294L231.63 299.3L233.63 299.3L234.63 308.5L235.65 302.2L235.65 323.3L232.58 323.3L232.58 322L228.68 322L228.68 323.3ZM235.65 323.3L235.65 302.2L236.65 300.5L237.15 298L237.4 294L239.3 294L239.3 299.3L241.3 299.3L242.3 308.5L243.32 302.2L243.32 323.3L240.25 323.3L240.25 322L236.35 322L236.35 323.3ZM243.32 323.3L243.32 302.2L244.32 300.5L244.82 298L245.07 294L246.97 294L246.97 299.3L248.97 299.3L249.97 308.5L250.99 302.2L250.99 323.3L247.92 323.3L247.92 322L244.02 322L244.02 323.3ZM250.99 323.3L250.99 302.2L251.99 300.5L252.49 298L252.74 294L254.64 294L254.64 299.3L256.64 299.3L257.64 308.5L258.66 302.2L258.66 323.3L255.59 323.3L255.59 322L251.69 322L251.69 323.3ZM258.67 323.3L258.67 302.2L259.67 300.5L260.17 298L260.42 294L262.32 294L262.32 299.3L264.32 299.3L265.32 308.5L266.34 302.2L266.34 323.3L263.27 323.3L263.27 322L259.37 322L259.37 323.3ZM266.34 323.3L266.34 302.2L267.34 300.5L267.84 298L268.09 294L269.99 294L269.99 299.3L271.99 299.3L272.99 308.5L274.01 302.2L274.01 323.3L270.94 323.3L270.94 322L267.04 322L267.04 323.3ZM274.01 323.3L274.01 302.2L275.01 300.5L275.51 298L275.76 294L277.66 294L277.66 299.3L279.66 299.3L280.66 308.5L281.68 302.2L281.68 323.3L278.61 323.3L278.61 322L274.71 322L274.71 323.3ZM281.68 323.3L281.68 302.2L282.68 300.5L283.18 298L283.43 294L285.33 294L285.33 299.3L287.33 299.3L288.33 308.5L289.35 302.2L289.35 323.3L286.28 323.3L286.28 322L282.38 322L282.38 323.3ZM289.35 323.3L289.35 302.2L290.35 300.5L290.85 298L291.1 294L293 294L293 299.3L295 299.3L296 308.5L297.02 302.2L297.02 323.3L293.95 323.3L293.95 322L290.05 322L290.05 323.3ZM297.02 323.3L297.02 302.2L298.02 300.5L298.52 298L298.77 294L300.67 294L300.67 299.3L302.67 299.3L303.67 308.5L304.69 302.2L304.69 323.3L301.62 323.3L301.62 322L297.72 322L297.72 323.3ZM304.69 323.3L304.69 302.2L305.69 300.5L306.19 298L306.44 294L308.34 294L308.34 299.3L310.34 299.3L311.34 308.5L312.36 302.2L312.36 323.3L309.29 323.3L309.29 322L305.39 322L305.39 323.3ZM312.36 323.3L312.36 302.2L313.36 300.5L313.86 298L314.11 294L316.01 294L316.01 299.3L318.01 299.3L319.01 308.5L320.03 302.2L320.03 323.3L316.96 323.3L316.96 322L313.06 322L313.06 323.3ZM320.03 323.3L320.03 302.2L321.03 300.5L321.53 298L321.78 294L323.68 294L323.68 299.3L325.68 299.3L326.68 308.5L327.7 302.2L327.7 323.3L324.63 323.3L324.63 322L320.73 322L320.73 323.3ZM327.7 323.3L327.7 302.2L328.7 300.5L329.2 298L329.45 294L331.35 294L331.35 299.3L333.35 299.3L334.35 308.5L335.37 302.2L335.37 323.3L332.3 323.3L332.3 322L328.4 322L328.4 323.3ZM335.38 323.3L335.38 302.2L336.38 300.5L336.88 298L337.12 294L339.03 294L339.03 299.3L341.03 299.3L342.03 308.5L343.05 302.2L343.05 323.3L339.98 323.3L339.98 322L336.07 322L336.07 323.3ZM343.05 323.3L343.05 302.2L344.05 300.5L344.55 298L344.8 294L346.7 294L346.7 299.3L348.7 299.3L349.7 308.5L350.72 302.2L350.72 323.3L347.65 323.3L347.65 322L343.75 322L343.75 323.3ZM350.72 323.3L350.72 302.2L351.72 300.5L352.22 298L352.47 294L354.37 294L354.37 299.3L356.37 299.3L357.37 308.5L358.39 302.2L358.39 323.3L355.32 323.3L355.32 322L351.42 322L351.42 323.3ZM358.39 323.3L358.39 302.2L359.39 300.5L359.89 298L360.14 294L362.04 294L362.04 299.3L364.04 299.3L365.04 308.5L366.06 302.2L366.06 323.3L362.99 323.3L362.99 322L359.09 322L359.09 323.3ZM366.06 323.3L366.06 302.2L367.06 300.5L367.56 298L367.81 294L369.71 294L369.71 299.3L371.71 299.3L372.71 308.5L373.73 302.2L373.73 323.3L370.66 323.3L370.66 322L366.76 322L366.76 323.3ZM373.73 323.3L373.73 302.2L374.73 300.5L375.23 298L375.48 294L377.38 294L377.38 299.3L379.38 299.3L380.38 308.5L381.4 302.2L381.4 323.3L378.33 323.3L378.33 322L374.43 322L374.43 323.3ZM381.4 323.3L381.4 302.2L382.4 300.5L382.9 298L383.15 294L385.05 294L385.05 299.3L387.05 299.3L388.05 308.5L389.07 302.2L389.07 323.3L386 323.3L386 322L382.1 322L382.1 323.3ZM389.07 323.3L389.07 302.2L390.07 300.5L390.57 298L390.82 294L392.72 294L392.72 299.3L394.72 299.3L395.72 308.5L396.74 302.2L396.74 323.3L393.67 323.3L393.67 322L389.77 322L389.77 323.3ZM396.74 323.3L396.74 302.2L397.74 300.5L398.24 298L398.49 294L400.39 294L400.39 299.3L402.39 299.3L403.39 308.5L404.41 302.2L404.41 323.3L401.34 323.3L401.34 322L397.44 322L397.44 323.3ZM404.41 323.3L404.41 302.2L405.41 300.5L405.91 298L406.16 294L408.06 294L408.06 299.3L410.06 299.3L411.06 308.5L412.08 302.2L412.08 323.3L409.01 323.3L409.01 322L405.11 322L405.11 323.3ZM412.08 323.3L412.08 302.2L413.08 300.5L413.58 298L413.83 294L415.74 294L415.74 299.3L417.74 299.3L418.74 308.5L419.75 302.2L419.75 323.3L416.69 323.3L416.69 322L412.78 322L412.78 323.3ZM419.76 323.3L419.76 302.2L420.76 300.5L421.26 298L421.51 294L423.41 294L423.41 299.3L425.41 299.3L426.41 308.5L427.43 302.2L427.43 323.3L424.36 323.3L424.36 322L420.46 322L420.46 323.3ZM427.43 323.3L427.43 302.2L428.43 300.5L428.93 298L429.18 294L431.08 294L431.08 299.3L433.08 299.3L434.08 308.5L435.1 302.2L435.1 323.3L432.03 323.3L432.03 322L428.13 322L428.13 323.3ZM435.1 323.3L435.1 302.2L436.1 300.5L436.6 298L436.85 294L438.75 294L438.75 299.3L440.75 299.3L441.75 308.5L442.77 302.2L442.77 323.3L439.7 323.3L439.7 322L435.8 322L435.8 323.3ZM442.77 323.3L442.77 302.2L443.77 300.5L444.27 298L444.52 294L446.42 294L446.42 299.3L448.42 299.3L449.42 308.5L450.44 302.2L450.44 323.3L447.37 323.3L447.37 322L443.47 322L443.47 323.3ZM450.44 323.3L450.44 302.2L451.44 300.5L451.94 298L452.19 294L454.09 294L454.09 299.3L456.09 299.3L457.09 308.5L458.11 302.2L458.11 323.3L455.04 323.3L455.04 322L451.14 322L451.14 323.3ZM458.11 323.3L458.11 302.2L459.11 300.5L459.61 298L459.86 294L461.76 294L461.76 299.3L463.76 299.3L464.76 308.5L465.78 302.2L465.78 323.3L462.71 323.3L462.71 322L458.81 322L458.81 323.3ZM465.78 323.3L465.78 302.2L466.78 300.5L467.28 298L467.53 294L469.43 294L469.43 299.3L471.43 299.3L472.43 308.5L473.45 302.2L473.45 323.3L470.38 323.3L470.38 322L466.48 322L466.48 323.3ZM473.45 323.3L473.45 302.2L474.45 300.5L474.95 298L475.2 294L477.1 294L477.1 299.3L479.1 299.3L480.1 308.5L481.12 302.2L481.12 323.3L478.05 323.3L478.05 322L474.15 322L474.15 323.3ZM481.12 323.3L481.12 302.2L482.12 300.5L482.62 298L482.87 294L484.77 294L484.77 299.3L486.77 299.3L487.77 308.5L488.79 302.2L488.79 323.3L485.72 323.3L485.72 322L481.82 322L481.82 323.3ZM488.8 323.3L488.8 302.2L489.8 300.5L490.3 298L490.55 294L492.45 294L492.45 299.3L494.45 299.3L495.45 308.5L496.47 302.2L496.47 323.3L493.4 323.3L493.4 322L489.5 322L489.5 323.3ZM496.47 323.3L496.47 302.2L497.47 300.5L497.97 298L498.22 294L500.12 294L500.12 299.3L502.12 299.3L503.12 308.5L504.14 302.2L504.14 323.3L501.07 323.3L501.07 322L497.17 322L497.17 323.3ZM504.14 323.3L504.14 302.2L505.14 300.5L505.64 298L505.89 294L507.79 294L507.79 299.3L509.79 299.3L510.79 308.5L511.81 302.2L511.81 323.3L508.74 323.3L508.74 322L504.84 322L504.84 323.3ZM511.81 323.3L511.81 302.2L512.81 300.5L513.31 298L513.56 294L515.46 294L515.46 299.3L517.46 299.3L518.46 308.5L519.48 302.2L519.48 323.3L516.41 323.3L516.41 322L512.51 322L512.51 323.3ZM519.48 323.3L519.48 302.2L520.48 300.5L520.98 298L521.23 294L523.13 294L523.13 299.3L525.13 299.3L526.13 308.5L527.15 302.2L527.15 323.3L524.08 323.3L524.08 322L520.18 322L520.18 323.3ZM527.15 323.3L527.15 302.2L528.15 300.5L528.65 298L528.9 294L530.8 294L530.8 299.3L532.8 299.3L533.8 308.5L534.82 302.2L534.82 323.3L531.75 323.3L531.75 322L527.85 322L527.85 323.3ZM534.82 323.3L534.82 302.2L535.82 300.5L536.32 298L536.57 294L538.47 294L538.47 299.3L540.47 299.3L541.47 308.5L542.49 302.2L542.49 323.3L539.42 323.3L539.42 322L535.52 322L535.52 323.3ZM542.49 323.3L542.49 302.2L543.49 300.5L543.99 298L544.24 294L546.14 294L546.14 299.3L548.14 299.3L549.14 308.5L550.16 302.2L550.16 323.3L547.09 323.3L547.09 322L543.19 322L543.19 323.3ZM550.16 323.3L550.16 302.2L551.16 300.5L551.66 298L551.91 294L553.81 294L553.81 299.3L555.81 299.3L556.81 308.5L557.83 302.2L557.83 323.3L554.76 323.3L554.76 322L550.86 322L550.86 323.3ZM557.83 323.3L557.83 302.2L558.83 300.5L559.33 298L559.58 294L561.48 294L561.48 299.3L563.48 299.3L564.48 308.5L565.5 302.2L565.5 323.3L562.43 323.3L562.43 322L558.53 322L558.53 323.3ZM565.51 323.3L565.51 302.2L566.51 300.5L567.01 298L567.26 294L569.16 294L569.16 299.3L571.16 299.3L572.16 308.5L573.18 302.2L573.18 323.3L570.11 323.3L570.11 322L566.21 322L566.21 323.3ZM573.18 323.3L573.18 302.2L574.18 300.5L574.68 298L574.93 294L576.83 294L576.83 299.3L578.83 299.3L579.83 308.5L580.85 302.2L580.85 323.3L577.78 323.3L577.78 322L573.88 322L573.88 323.3ZM580.85 323.3L580.85 302.2L581.85 300.5L582.35 298L582.6 294L584.5 294L584.5 299.3L586.5 299.3L587.5 308.5L588.52 302.2L588.52 323.3L585.45 323.3L585.45 322L581.55 322L581.55 323.3ZM588.52 323.3L588.52 302.2L589.52 300.5L590.02 298L590.27 294L592.17 294L592.17 299.3L594.17 299.3L595.17 308.5L596.19 302.2L596.19 323.3L593.12 323.3L593.12 322L589.22 322L589.22 323.3ZM596.19 323.3L596.19 302.2L597.19 300.5L597.69 298L597.94 294L599.84 294L599.84 299.3L601.84 299.3L602.84 308.5L603.86 302.2L603.86 323.3L600.79 323.3L600.79 322L596.89 322L596.89 323.3ZM603.86 323.3L603.86 302.2L604.86 300.5L605.36 298L605.61 294L607.51 294L607.51 299.3L609.51 299.3L610.51 308.5L611.53 302.2L611.53 323.3L608.46 323.3L608.46 322L604.56 322L604.56 323.3ZM611.53 323.3L611.53 302.2L612.53 300.5L613.03 298L613.28 294L615.18 294L615.18 299.3L617.18 299.3L618.18 308.5L619.2 302.2L619.2 323.3L616.13 323.3L616.13 322L612.23 322L612.23 323.3ZM619.2 323.3L619.2 302.2L620.2 300.5L620.7 298L620.95 294L622.85 294L622.85 299.3L624.85 299.3L625.85 308.5L626.87 302.2L626.87 323.3L623.8 323.3L623.8 322L619.9 322L619.9 323.3ZM626.87 323.3L626.87 302.2L627.87 300.5L628.37 298L628.62 294L630.52 294L630.52 299.3L632.52 299.3L633.52 308.5L634.54 302.2L634.54 323.3L631.47 323.3L631.47 322L627.57 322L627.57 323.3ZM634.54 323.3L634.54 302.2L635.54 300.5L636.04 298L636.29 294L638.19 294L638.19 299.3L640.19 299.3L641.19 308.5L642.21 302.2L642.21 323.3L639.14 323.3L639.14 322L635.24 322L635.24 323.3ZM642.22 323.3L642.22 302.2L643.22 300.5L643.72 298L643.97 294L645.87 294L645.87 299.3L647.87 299.3L648.87 308.5L649.88 302.2L649.88 323.3L646.81 323.3L646.81 322L642.91 322L642.91 323.3ZM649.89 323.3L649.89 302.2L650.89 300.5L651.39 298L651.64 294L653.54 294L653.54 299.3L655.54 299.3L656.54 308.5L657.56 302.2L657.56 323.3L654.49 323.3L654.49 322L650.59 322L650.59 323.3ZM657.56 323.3L657.56 302.2L658.56 300.5L659.06 298L659.31 294L661.21 294L661.21 299.3L663.21 299.3L664.21 308.5L665.23 302.2L665.23 323.3L662.16 323.3L662.16 322L658.26 322L658.26 323.3ZM665.23 323.3L665.23 302.2L666.23 300.5L666.73 298L666.98 294L668.88 294L668.88 299.3L670.88 299.3L671.88 308.5L672.9 302.2L672.9 323.3L669.83 323.3L669.83 322L665.93 322L665.93 323.3ZM672.9 323.3L672.9 302.2L673.9 300.5L674.4 298L674.65 294L676.55 294L676.55 299.3L678.55 299.3L679.55 308.5L680.57 302.2L680.57 323.3L677.5 323.3L677.5 322L673.6 322L673.6 323.3ZM680.57 323.3L680.57 302.2L681.57 300.5L682.07 298L682.32 294L684.22 294L684.22 299.3L686.22 299.3L687.22 308.5L688.24 302.2L688.24 323.3L685.17 323.3L685.17 322L681.27 322L681.27 323.3ZM688.24 323.3L688.24 302.2L689.24 300.5L689.74 298L689.99 294L691.89 294L691.89 299.3L693.89 299.3L694.89 308.5L695.91 302.2L695.91 323.3L692.84 323.3L692.84 322L688.94 322L688.94 323.3ZM695.91 323.3L695.91 302.2L696.91 300.5L697.41 298L697.66 294L699.56 294L699.56 299.3L701.56 299.3L702.56 308.5L703.58 302.2L703.58 323.3L700.51 323.3L700.51 322L696.61 322L696.61 323.3ZM703.58 323.3L703.58 302.2L704.58 300.5L705.08 298L705.33 294L707.23 294L707.23 299.3L709.23 299.3L710.23 308.5L711.25 302.2L711.25 323.3L708.18 323.3L708.18 322L704.28 322L704.28 323.3ZM711.25 323.3L711.25 302.2L712.25 300.5L712.75 298L713 294L714.9 294L714.9 299.3L716.9 299.3L717.9 308.5L718.92 302.2L718.92 323.3L715.85 323.3L715.85 322L711.95 322L711.95 323.3ZM718.93 323.3L718.93 302.2L719.93 300.5L720.43 298L720.68 294L722.58 294L722.58 299.3L724.58 299.3L725.58 308.5L726.6 302.2L726.6 323.3L723.52 323.3L723.52 322L719.62 322L719.62 323.3ZM726.6 323.3L726.6 302.2L727.6 300.5L728.1 298L728.35 294L730.25 294L730.25 299.3L732.25 299.3L733.25 308.5L734.27 302.2L734.27 323.3L731.2 323.3L731.2 322L727.3 322L727.3 323.3ZM734.27 323.3L734.27 302.2L735.27 300.5L735.77 298L736.02 294L737.92 294L737.92 299.3L739.92 299.3L740.92 308.5L741.94 302.2L741.94 323.3L738.87 323.3L738.87 322L734.97 322L734.97 323.3ZM741.94 323.3L741.94 302.2L742.94 300.5L743.44 298L743.69 294L745.59 294L745.59 299.3L747.59 299.3L748.59 308.5L749.61 302.2L749.61 323.3L746.54 323.3L746.54 322L742.64 322L742.64 323.3ZM749.61 323.3L749.61 302.2L750.61 300.5L751.11 298L751.36 294L753.26 294L753.26 299.3L755.26 299.3L756.26 308.5L757.28 302.2L757.28 323.3L754.21 323.3L754.21 322L750.31 322L750.31 323.3ZM757.28 323.3L757.28 302.2L758.28 300.5L758.78 298L759.03 294L760.93 294L760.93 299.3L762.93 299.3L763.93 308.5L764.95 302.2L764.95 323.3L761.88 323.3L761.88 322L757.98 322L757.98 323.3ZM764.95 323.3L764.95 302.2L765.95 300.5L766.45 298L766.7 294L768.6 294L768.6 299.3L770.6 299.3L771.6 308.5L772.62 302.2L772.62 323.3L769.55 323.3L769.55 322L765.65 322L765.65 323.3ZM772.62 323.3L772.62 302.2L773.62 300.5L774.12 298L774.37 294L776.27 294L776.27 299.3L778.27 299.3L779.27 308.5L780.29 302.2L780.29 323.3L777.22 323.3L777.22 322L773.32 322L773.32 323.3ZM780.29 323.3L780.29 302.2L781.29 300.5L781.79 298L782.04 294L783.94 294L783.94 299.3L785.94 299.3L786.94 308.5L787.96 302.2L787.96 323.3L784.89 323.3L784.89 322L780.99 322L780.99 323.3ZM787.96 323.3L787.96 302.2L788.96 300.5L789.46 298L789.71 294L791.61 294L791.61 299.3L793.61 299.3L794.61 308.5L795.63 302.2L795.63 323.3L792.56 323.3L792.56 322L788.66 322L788.66 323.3ZM795.63 323.3L795.63 302.2L796.63 300.5L797.13 298L797.38 294L799.28 294L799.28 299.3L801.28 299.3L802.28 308.5L803.3 302.2L803.3 323.3L800.23 323.3L800.23 322L796.33 322L796.33 323.3ZM803.31 323.3L803.31 302.2L804.31 300.5L804.81 298L805.06 294L806.96 294L806.96 299.3L808.96 299.3L809.96 308.5L810.98 302.2L810.98 323.3L807.91 323.3L807.91 322L804.01 322L804.01 323.3ZM810.98 323.3L810.98 302.2L811.98 300.5L812.48 298L812.73 294L814.63 294L814.63 299.3L816.63 299.3L817.63 308.5L818.65 302.2L818.65 323.3L815.58 323.3L815.58 322L811.68 322L811.68 323.3ZM818.65 323.3L818.65 302.2L819.65 300.5L820.15 298L820.4 294L822.3 294L822.3 299.3L824.3 299.3L825.3 308.5L826.32 302.2L826.32 323.3L823.25 323.3L823.25 322L819.35 322L819.35 323.3ZM826.32 323.3L826.32 302.2L827.32 300.5L827.82 298L828.07 294L829.97 294L829.97 299.3L831.97 299.3L832.97 308.5L833.99 302.2L833.99 323.3L830.92 323.3L830.92 322L827.02 322L827.02 323.3ZM833.99 323.3L833.99 302.2L834.99 300.5L835.49 298L835.74 294L837.64 294L837.64 299.3L839.64 299.3L840.64 308.5L841.66 302.2L841.66 323.3L838.59 323.3L838.59 322L834.69 322L834.69 323.3ZM841.66 323.3L841.66 302.2L842.66 300.5L843.16 298L843.41 294L845.31 294L845.31 299.3L847.31 299.3L848.31 308.5L849.33 302.2L849.33 323.3L846.26 323.3L846.26 322L842.36 322L842.36 323.3ZM849.33 323.3L849.33 302.2L850.33 300.5L850.83 298L851.08 294L852.98 294L852.98 299.3L854.98 299.3L855.98 308.5L857 302.2L857 323.3L853.93 323.3L853.93 322L850.03 322L850.03 323.3ZM857 323.3L857 302.2L858 300.5L858.5 298L858.75 294L860.65 294L860.65 299.3L862.65 299.3L863.65 308.5L864.67 302.2L864.67 323.3L861.6 323.3L861.6 322L857.7 322L857.7 323.3ZM864.67 323.3L864.67 302.2L865.67 300.5L866.17 298L866.42 294L868.32 294L868.32 299.3L870.32 299.3L871.32 308.5L872.34 302.2L872.34 323.3L869.27 323.3L869.27 322L865.37 322L865.37 323.3ZM872.35 323.3L872.35 302.2L873.35 300.5L873.85 298L874.1 294L876 294L876 299.3L878 299.3L879 308.5L880.01 302.2L880.01 323.3L876.94 323.3L876.94 322L873.04 322L873.04 323.3ZM880.02 323.3L880.02 302.2L881.02 300.5L881.52 298L881.77 294L883.67 294L883.67 299.3L885.67 299.3L886.67 308.5L887.69 302.2L887.69 323.3L884.62 323.3L884.62 322L880.72 322L880.72 323.3ZM887.69 323.3L887.69 302.2L888.69 300.5L889.19 298L889.44 294L891.34 294L891.34 299.3L893.34 299.3L894.34 308.5L895.36 302.2L895.36 323.3L892.29 323.3L892.29 322L888.39 322L888.39 323.3ZM895.36 323.3L895.36 302.2L896.36 300.5L896.86 298L897.11 294L899.01 294L899.01 299.3L901.01 299.3L902.01 308.5L903.03 302.2L903.03 323.3L899.96 323.3L899.96 322L896.06 322L896.06 323.3ZM903.03 323.3L903.03 302.2L904.03 300.5L904.53 298L904.78 294L906.68 294L906.68 299.3L908.68 299.3L909.68 308.5L910.7 302.2L910.7 323.3L907.63 323.3L907.63 322L903.73 322L903.73 323.3ZM910.7 323.3L910.7 302.2L911.7 300.5L912.2 298L912.45 294L914.35 294L914.35 299.3L916.35 299.3L917.35 308.5L918.37 302.2L918.37 323.3L915.3 323.3L915.3 322L911.4 322L911.4 323.3ZM139 323V290H139.9L140.6 296V323Z" fill="#E24A33"/>
<path d="M142.03 306V318M149.7 306V318M157.37 306V318M165.04 306V318M172.71 306V318M180.38 306V318M188.06 306V318M195.73 306V318M203.4 306V318M211.07 306V318M218.74 306V318M226.41 306V318M234.08 306V318M241.75 306V318M249.42 306V318M257.09 306V318M264.77 306V318M272.44 306V318M280.11 306V318M287.78 306V318M295.45 306V318M303.12 306V318M310.79 306V318M318.46 306V318M326.13 306V318M333.8 306V318M341.48 306V318M349.15 306V318M356.82 306V318M364.49 306V318M372.16 306V318M379.83 306V318M387.5 306V318M395.17 306V318M402.84 306V318M410.51 306V318M418.19 306V318M425.86 306V318M433.53 306V318M441.2 306V318M448.87 306V318M456.54 306V318M464.21 306V318M471.88 306V318M479.55 306V318M487.22 306V318M494.9 306V318M502.57 306V318M510.24 306V318M517.91 306V318M525.58 306V318M533.25 306V318M540.92 306V318M548.59 306V318M556.26 306V318M563.93 306V318M571.61 306V318M579.28 306V318M586.95 306V318M594.62 306V318M602.29 306V318M609.96 306V318M617.63 306V318M625.3 306V318M632.97 306V318M640.64 306V318M648.31 306V318M655.99 306V318M663.66 306V318M671.33 306V318M679 306V318M686.67 306V318M694.34 306V318M702.01 306V318M709.68 306V318M717.35 306V318M725.02 306V318M732.7 306V318M740.37 306V318M748.04 306V318M755.71 306V318M763.38 306V318M771.05 306V318M778.72 306V318M786.39 306V318M794.06 306V318M801.73 306V318M809.41 306V318M817.08 306V318M824.75 306V318M832.42 306V318M840.09 306V318M847.76 306V318M855.43 306V318M863.1 306V318M870.77 306V318M878.44 306V318M886.12 306V318M893.79 306V318M901.46 306V318M909.13 306V318M916.8 306V318" fill="none" stroke="#EFA39B" stroke-width="0.8" stroke-dasharray="2 1.5" opacity="0.8"/>
<path d="M141.03 308V320M148.7 308V320M156.37 308V320M164.04 308V320M171.71 308V320M179.38 308V320M187.06 308V320M194.73 308V320M202.4 308V320M210.07 308V320M217.74 308V320M225.41 308V320M233.08 308V320M240.75 308V320M248.42 308V320M256.09 308V320M263.77 308V320M271.44 308V320M279.11 308V320M286.78 308V320M294.45 308V320M302.12 308V320M309.79 308V320M317.46 308V320M325.13 308V320M332.8 308V320M340.48 308V320M348.15 308V320M355.82 308V320M363.49 308V320M371.16 308V320M378.83 308V320M386.5 308V320M394.17 308V320M401.84 308V320M409.51 308V320M417.19 308V320M424.86 308V320M432.53 308V320M440.2 308V320M447.87 308V320M455.54 308V320M463.21 308V320M470.88 308V320M478.55 308V320M486.22 308V320M493.9 308V320M501.57 308V320M509.24 308V320M516.91 308V320M524.58 308V320M532.25 308V320M539.92 308V320M547.59 308V320M555.26 308V320M562.93 308V320M570.61 308V320M578.28 308V320M585.95 308V320M593.62 308V320M601.29 308V320M608.96 308V320M616.63 308V320M624.3 308V320M631.97 308V320M639.64 308V320M647.31 308V320M654.99 308V320M662.66 308V320M670.33 308V320M678 308V320M685.67 308V320M693.34 308V320M701.01 308V320M708.68 308V320M716.35 308V320M724.02 308V320M731.7 308V320M739.37 308V320M747.04 308V320M754.71 308V320M762.38 308V320M770.05 308V320M777.72 308V320M785.39 308V320M793.06 308V320M800.73 308V320M808.41 308V320M816.08 308V320M823.75 308V320M831.42 308V320M839.09 308V320M846.76 308V320M854.43 308V320M862.1 308V320M869.77 308V320M877.44 308V320M885.12 308V320M892.79 308V320M900.46 308V320M908.13 308V320M915.8 308V320" fill="none" stroke="#9C6B63" stroke-width="0.8" opacity="0.5"/>
<path d="M139.58 294.8H141.58V299.3H139.58ZM147.25 294.8H149.25V299.3H147.25ZM154.92 294.8H156.92V299.3H154.92ZM162.59 294.8H164.59V299.3H162.59ZM170.26 294.8H172.26V299.3H170.26ZM177.93 294.8H179.93V299.3H177.93ZM185.6 294.8H187.6V299.3H185.6ZM193.28 294.8H195.28V299.3H193.28ZM200.95 294.8H202.95V299.3H200.95ZM208.62 294.8H210.62V299.3H208.62ZM216.29 294.8H218.29V299.3H216.29ZM223.96 294.8H225.96V299.3H223.96ZM231.63 294.8H233.63V299.3H231.63ZM239.3 294.8H241.3V299.3H239.3ZM246.97 294.8H248.97V299.3H246.97ZM254.64 294.8H256.64V299.3H254.64ZM262.32 294.8H264.32V299.3H262.32ZM269.99 294.8H271.99V299.3H269.99ZM277.66 294.8H279.66V299.3H277.66ZM285.33 294.8H287.33V299.3H285.33ZM293 294.8H295V299.3H293ZM300.67 294.8H302.67V299.3H300.67ZM308.34 294.8H310.34V299.3H308.34ZM316.01 294.8H318.01V299.3H316.01ZM323.68 294.8H325.68V299.3H323.68ZM331.35 294.8H333.35V299.3H331.35ZM339.03 294.8H341.03V299.3H339.03ZM346.7 294.8H348.7V299.3H346.7ZM354.37 294.8H356.37V299.3H354.37ZM362.04 294.8H364.04V299.3H362.04ZM369.71 294.8H371.71V299.3H369.71ZM377.38 294.8H379.38V299.3H377.38ZM385.05 294.8H387.05V299.3H385.05ZM392.72 294.8H394.72V299.3H392.72ZM400.39 294.8H402.39V299.3H400.39ZM408.06 294.8H410.06V299.3H408.06ZM415.74 294.8H417.74V299.3H415.74ZM423.41 294.8H425.41V299.3H423.41ZM431.08 294.8H433.08V299.3H431.08ZM438.75 294.8H440.75V299.3H438.75ZM446.42 294.8H448.42V299.3H446.42ZM454.09 294.8H456.09V299.3H454.09ZM461.76 294.8H463.76V299.3H461.76ZM469.43 294.8H471.43V299.3H469.43ZM477.1 294.8H479.1V299.3H477.1ZM484.77 294.8H486.77V299.3H484.77ZM492.45 294.8H494.45V299.3H492.45ZM500.12 294.8H502.12V299.3H500.12ZM507.79 294.8H509.79V299.3H507.79ZM515.46 294.8H517.46V299.3H515.46ZM523.13 294.8H525.13V299.3H523.13ZM530.8 294.8H532.8V299.3H530.8ZM538.47 294.8H540.47V299.3H538.47ZM546.14 294.8H548.14V299.3H546.14ZM553.81 294.8H555.81V299.3H553.81ZM561.48 294.8H563.48V299.3H561.48ZM569.16 294.8H571.16V299.3H569.16ZM576.83 294.8H578.83V299.3H576.83ZM584.5 294.8H586.5V299.3H584.5ZM592.17 294.8H594.17V299.3H592.17ZM599.84 294.8H601.84V299.3H599.84ZM607.51 294.8H609.51V299.3H607.51ZM615.18 294.8H617.18V299.3H615.18ZM622.85 294.8H624.85V299.3H622.85ZM630.52 294.8H632.52V299.3H630.52ZM638.19 294.8H640.19V299.3H638.19ZM645.87 294.8H647.87V299.3H645.87ZM653.54 294.8H655.54V299.3H653.54ZM661.21 294.8H663.21V299.3H661.21ZM668.88 294.8H670.88V299.3H668.88ZM676.55 294.8H678.55V299.3H676.55ZM684.22 294.8H686.22V299.3H684.22ZM691.89 294.8H693.89V299.3H691.89ZM699.56 294.8H701.56V299.3H699.56ZM707.23 294.8H709.23V299.3H707.23ZM714.9 294.8H716.9V299.3H714.9ZM722.58 294.8H724.58V299.3H722.58ZM730.25 294.8H732.25V299.3H730.25ZM737.92 294.8H739.92V299.3H737.92ZM745.59 294.8H747.59V299.3H745.59ZM753.26 294.8H755.26V299.3H753.26ZM760.93 294.8H762.93V299.3H760.93ZM768.6 294.8H770.6V299.3H768.6ZM776.27 294.8H778.27V299.3H776.27ZM783.94 294.8H785.94V299.3H783.94ZM791.61 294.8H793.61V299.3H791.61ZM799.28 294.8H801.28V299.3H799.28ZM806.96 294.8H808.96V299.3H806.96ZM814.63 294.8H816.63V299.3H814.63ZM822.3 294.8H824.3V299.3H822.3ZM829.97 294.8H831.97V299.3H829.97ZM837.64 294.8H839.64V299.3H837.64ZM845.31 294.8H847.31V299.3H845.31ZM852.98 294.8H854.98V299.3H852.98ZM860.65 294.8H862.65V299.3H860.65ZM868.32 294.8H870.32V299.3H868.32ZM876 294.8H878V299.3H876ZM883.67 294.8H885.67V299.3H883.67ZM891.34 294.8H893.34V299.3H891.34ZM899.01 294.8H901.01V299.3H899.01ZM906.68 294.8H908.68V299.3H906.68ZM914.35 294.8H916.35V299.3H914.35Z" fill="#777777"/>
<path d="M137.63 294L137.93 291.2L139.23 291.2L139.58 294ZM135.93 298.8L137.63 298.6L137.43 301.8L135.93 302.3ZM145.3 294L145.6 291.2L146.9 291.2L147.25 294ZM143.6 298.8L145.3 298.6L145.1 301.8L143.6 302.3ZM152.97 294L153.27 291.2L154.57 291.2L154.92 294ZM151.27 298.8L152.97 298.6L152.77 301.8L151.27 302.3ZM160.64 294L160.94 291.2L162.24 291.2L162.59 294ZM158.94 298.8L160.64 298.6L160.44 301.8L158.94 302.3ZM168.31 294L168.61 291.2L169.91 291.2L170.26 294ZM166.61 298.8L168.31 298.6L168.11 301.8L166.61 302.3ZM175.98 294L176.28 291.2L177.58 291.2L177.93 294ZM174.28 298.8L175.98 298.6L175.78 301.8L174.28 302.3ZM183.66 294L183.95 291.2L185.25 291.2L185.6 294ZM181.95 298.8L183.66 298.6L183.45 301.8L181.95 302.3ZM191.33 294L191.63 291.2L192.93 291.2L193.28 294ZM189.63 298.8L191.33 298.6L191.13 301.8L189.63 302.3ZM199 294L199.3 291.2L200.6 291.2L200.95 294ZM197.3 298.8L199 298.6L198.8 301.8L197.3 302.3ZM206.67 294L206.97 291.2L208.27 291.2L208.62 294ZM204.97 298.8L206.67 298.6L206.47 301.8L204.97 302.3ZM214.34 294L214.64 291.2L215.94 291.2L216.29 294ZM212.64 298.8L214.34 298.6L214.14 301.8L212.64 302.3ZM222.01 294L222.31 291.2L223.61 291.2L223.96 294ZM220.31 298.8L222.01 298.6L221.81 301.8L220.31 302.3ZM229.68 294L229.98 291.2L231.28 291.2L231.63 294ZM227.98 298.8L229.68 298.6L229.48 301.8L227.98 302.3ZM237.35 294L237.65 291.2L238.95 291.2L239.3 294ZM235.65 298.8L237.35 298.6L237.15 301.8L235.65 302.3ZM245.02 294L245.32 291.2L246.62 291.2L246.97 294ZM243.32 298.8L245.02 298.6L244.82 301.8L243.32 302.3ZM252.69 294L252.99 291.2L254.29 291.2L254.64 294ZM250.99 298.8L252.69 298.6L252.49 301.8L250.99 302.3ZM260.37 294L260.67 291.2L261.97 291.2L262.32 294ZM258.67 298.8L260.37 298.6L260.17 301.8L258.67 302.3ZM268.04 294L268.34 291.2L269.64 291.2L269.99 294ZM266.34 298.8L268.04 298.6L267.84 301.8L266.34 302.3ZM275.71 294L276.01 291.2L277.31 291.2L277.66 294ZM274.01 298.8L275.71 298.6L275.51 301.8L274.01 302.3ZM283.38 294L283.68 291.2L284.98 291.2L285.33 294ZM281.68 298.8L283.38 298.6L283.18 301.8L281.68 302.3ZM291.05 294L291.35 291.2L292.65 291.2L293 294ZM289.35 298.8L291.05 298.6L290.85 301.8L289.35 302.3ZM298.72 294L299.02 291.2L300.32 291.2L300.67 294ZM297.02 298.8L298.72 298.6L298.52 301.8L297.02 302.3ZM306.39 294L306.69 291.2L307.99 291.2L308.34 294ZM304.69 298.8L306.39 298.6L306.19 301.8L304.69 302.3ZM314.06 294L314.36 291.2L315.66 291.2L316.01 294ZM312.36 298.8L314.06 298.6L313.86 301.8L312.36 302.3ZM321.73 294L322.03 291.2L323.33 291.2L323.68 294ZM320.03 298.8L321.73 298.6L321.53 301.8L320.03 302.3ZM329.4 294L329.7 291.2L331 291.2L331.35 294ZM327.7 298.8L329.4 298.6L329.2 301.8L327.7 302.3ZM337.07 294L337.38 291.2L338.68 291.2L339.03 294ZM335.38 298.8L337.07 298.6L336.88 301.8L335.38 302.3ZM344.75 294L345.05 291.2L346.35 291.2L346.7 294ZM343.05 298.8L344.75 298.6L344.55 301.8L343.05 302.3ZM352.42 294L352.72 291.2L354.02 291.2L354.37 294ZM350.72 298.8L352.42 298.6L352.22 301.8L350.72 302.3ZM360.09 294L360.39 291.2L361.69 291.2L362.04 294ZM358.39 298.8L360.09 298.6L359.89 301.8L358.39 302.3ZM367.76 294L368.06 291.2L369.36 291.2L369.71 294ZM366.06 298.8L367.76 298.6L367.56 301.8L366.06 302.3ZM375.43 294L375.73 291.2L377.03 291.2L377.38 294ZM373.73 298.8L375.43 298.6L375.23 301.8L373.73 302.3ZM383.1 294L383.4 291.2L384.7 291.2L385.05 294ZM381.4 298.8L383.1 298.6L382.9 301.8L381.4 302.3ZM390.77 294L391.07 291.2L392.37 291.2L392.72 294ZM389.07 298.8L390.77 298.6L390.57 301.8L389.07 302.3ZM398.44 294L398.74 291.2L400.04 291.2L400.39 294ZM396.74 298.8L398.44 298.6L398.24 301.8L396.74 302.3ZM406.11 294L406.41 291.2L407.71 291.2L408.06 294ZM404.41 298.8L406.11 298.6L405.91 301.8L404.41 302.3ZM413.78 294L414.08 291.2L415.38 291.2L415.74 294ZM412.08 298.8L413.78 298.6L413.58 301.8L412.08 302.3ZM421.46 294L421.76 291.2L423.06 291.2L423.41 294ZM419.76 298.8L421.46 298.6L421.26 301.8L419.76 302.3ZM429.13 294L429.43 291.2L430.73 291.2L431.08 294ZM427.43 298.8L429.13 298.6L428.93 301.8L427.43 302.3ZM436.8 294L437.1 291.2L438.4 291.2L438.75 294ZM435.1 298.8L436.8 298.6L436.6 301.8L435.1 302.3ZM444.47 294L444.77 291.2L446.07 291.2L446.42 294ZM442.77 298.8L444.47 298.6L444.27 301.8L442.77 302.3ZM452.14 294L452.44 291.2L453.74 291.2L454.09 294ZM450.44 298.8L452.14 298.6L451.94 301.8L450.44 302.3ZM459.81 294L460.11 291.2L461.41 291.2L461.76 294ZM458.11 298.8L459.81 298.6L459.61 301.8L458.11 302.3ZM467.48 294L467.78 291.2L469.08 291.2L469.43 294ZM465.78 298.8L467.48 298.6L467.28 301.8L465.78 302.3ZM475.15 294L475.45 291.2L476.75 291.2L477.1 294ZM473.45 298.8L475.15 298.6L474.95 301.8L473.45 302.3ZM482.82 294L483.12 291.2L484.42 291.2L484.77 294ZM481.12 298.8L482.82 298.6L482.62 301.8L481.12 302.3ZM490.5 294L490.8 291.2L492.1 291.2L492.45 294ZM488.8 298.8L490.5 298.6L490.3 301.8L488.8 302.3ZM498.17 294L498.47 291.2L499.77 291.2L500.12 294ZM496.47 298.8L498.17 298.6L497.97 301.8L496.47 302.3ZM505.84 294L506.14 291.2L507.44 291.2L507.79 294ZM504.14 298.8L505.84 298.6L505.64 301.8L504.14 302.3ZM513.51 294L513.81 291.2L515.11 291.2L515.46 294ZM511.81 298.8L513.51 298.6L513.31 301.8L511.81 302.3ZM521.18 294L521.48 291.2L522.78 291.2L523.13 294ZM519.48 298.8L521.18 298.6L520.98 301.8L519.48 302.3ZM528.85 294L529.15 291.2L530.45 291.2L530.8 294ZM527.15 298.8L528.85 298.6L528.65 301.8L527.15 302.3ZM536.52 294L536.82 291.2L538.12 291.2L538.47 294ZM534.82 298.8L536.52 298.6L536.32 301.8L534.82 302.3ZM544.19 294L544.49 291.2L545.79 291.2L546.14 294ZM542.49 298.8L544.19 298.6L543.99 301.8L542.49 302.3ZM551.86 294L552.16 291.2L553.46 291.2L553.81 294ZM550.16 298.8L551.86 298.6L551.66 301.8L550.16 302.3ZM559.53 294L559.83 291.2L561.13 291.2L561.48 294ZM557.83 298.8L559.53 298.6L559.33 301.8L557.83 302.3ZM567.21 294L567.51 291.2L568.81 291.2L569.16 294ZM565.51 298.8L567.21 298.6L567.01 301.8L565.51 302.3ZM574.88 294L575.18 291.2L576.48 291.2L576.83 294ZM573.18 298.8L574.88 298.6L574.68 301.8L573.18 302.3ZM582.55 294L582.85 291.2L584.15 291.2L584.5 294ZM580.85 298.8L582.55 298.6L582.35 301.8L580.85 302.3ZM590.22 294L590.52 291.2L591.82 291.2L592.17 294ZM588.52 298.8L590.22 298.6L590.02 301.8L588.52 302.3ZM597.89 294L598.19 291.2L599.49 291.2L599.84 294ZM596.19 298.8L597.89 298.6L597.69 301.8L596.19 302.3ZM605.56 294L605.86 291.2L607.16 291.2L607.51 294ZM603.86 298.8L605.56 298.6L605.36 301.8L603.86 302.3ZM613.23 294L613.53 291.2L614.83 291.2L615.18 294ZM611.53 298.8L613.23 298.6L613.03 301.8L611.53 302.3ZM620.9 294L621.2 291.2L622.5 291.2L622.85 294ZM619.2 298.8L620.9 298.6L620.7 301.8L619.2 302.3ZM628.57 294L628.87 291.2L630.17 291.2L630.52 294ZM626.87 298.8L628.57 298.6L628.37 301.8L626.87 302.3ZM636.24 294L636.54 291.2L637.84 291.2L638.19 294ZM634.54 298.8L636.24 298.6L636.04 301.8L634.54 302.3ZM643.91 294L644.22 291.2L645.51 291.2L645.87 294ZM642.22 298.8L643.91 298.6L643.72 301.8L642.22 302.3ZM651.59 294L651.89 291.2L653.19 291.2L653.54 294ZM649.89 298.8L651.59 298.6L651.39 301.8L649.89 302.3ZM659.26 294L659.56 291.2L660.86 291.2L661.21 294ZM657.56 298.8L659.26 298.6L659.06 301.8L657.56 302.3ZM666.93 294L667.23 291.2L668.53 291.2L668.88 294ZM665.23 298.8L666.93 298.6L666.73 301.8L665.23 302.3ZM674.6 294L674.9 291.2L676.2 291.2L676.55 294ZM672.9 298.8L674.6 298.6L674.4 301.8L672.9 302.3ZM682.27 294L682.57 291.2L683.87 291.2L684.22 294ZM680.57 298.8L682.27 298.6L682.07 301.8L680.57 302.3ZM689.94 294L690.24 291.2L691.54 291.2L691.89 294ZM688.24 298.8L689.94 298.6L689.74 301.8L688.24 302.3ZM697.61 294L697.91 291.2L699.21 291.2L699.56 294ZM695.91 298.8L697.61 298.6L697.41 301.8L695.91 302.3ZM705.28 294L705.58 291.2L706.88 291.2L707.23 294ZM703.58 298.8L705.28 298.6L705.08 301.8L703.58 302.3ZM712.95 294L713.25 291.2L714.55 291.2L714.9 294ZM711.25 298.8L712.95 298.6L712.75 301.8L711.25 302.3ZM720.62 294L720.93 291.2L722.23 291.2L722.58 294ZM718.93 298.8L720.62 298.6L720.43 301.8L718.93 302.3ZM728.3 294L728.6 291.2L729.9 291.2L730.25 294ZM726.6 298.8L728.3 298.6L728.1 301.8L726.6 302.3ZM735.97 294L736.27 291.2L737.57 291.2L737.92 294ZM734.27 298.8L735.97 298.6L735.77 301.8L734.27 302.3ZM743.64 294L743.94 291.2L745.24 291.2L745.59 294ZM741.94 298.8L743.64 298.6L743.44 301.8L741.94 302.3ZM751.31 294L751.61 291.2L752.91 291.2L753.26 294ZM749.61 298.8L751.31 298.6L751.11 301.8L749.61 302.3ZM758.98 294L759.28 291.2L760.58 291.2L760.93 294ZM757.28 298.8L758.98 298.6L758.78 301.8L757.28 302.3ZM766.65 294L766.95 291.2L768.25 291.2L768.6 294ZM764.95 298.8L766.65 298.6L766.45 301.8L764.95 302.3ZM774.32 294L774.62 291.2L775.92 291.2L776.27 294ZM772.62 298.8L774.32 298.6L774.12 301.8L772.62 302.3ZM781.99 294L782.29 291.2L783.59 291.2L783.94 294ZM780.29 298.8L781.99 298.6L781.79 301.8L780.29 302.3ZM789.66 294L789.96 291.2L791.26 291.2L791.61 294ZM787.96 298.8L789.66 298.6L789.46 301.8L787.96 302.3ZM797.33 294L797.63 291.2L798.93 291.2L799.28 294ZM795.63 298.8L797.33 298.6L797.13 301.8L795.63 302.3ZM805.01 294L805.31 291.2L806.61 291.2L806.96 294ZM803.31 298.8L805.01 298.6L804.81 301.8L803.31 302.3ZM812.68 294L812.98 291.2L814.28 291.2L814.63 294ZM810.98 298.8L812.68 298.6L812.48 301.8L810.98 302.3ZM820.35 294L820.65 291.2L821.95 291.2L822.3 294ZM818.65 298.8L820.35 298.6L820.15 301.8L818.65 302.3ZM828.02 294L828.32 291.2L829.62 291.2L829.97 294ZM826.32 298.8L828.02 298.6L827.82 301.8L826.32 302.3ZM835.69 294L835.99 291.2L837.29 291.2L837.64 294ZM833.99 298.8L835.69 298.6L835.49 301.8L833.99 302.3ZM843.36 294L843.66 291.2L844.96 291.2L845.31 294ZM841.66 298.8L843.36 298.6L843.16 301.8L841.66 302.3ZM851.03 294L851.33 291.2L852.63 291.2L852.98 294ZM849.33 298.8L851.03 298.6L850.83 301.8L849.33 302.3ZM858.7 294L859 291.2L860.3 291.2L860.65 294ZM857 298.8L858.7 298.6L858.5 301.8L857 302.3ZM866.37 294L866.67 291.2L867.97 291.2L868.32 294ZM864.67 298.8L866.37 298.6L866.17 301.8L864.67 302.3ZM874.04 294L874.35 291.2L875.64 291.2L876 294ZM872.35 298.8L874.04 298.6L873.85 301.8L872.35 302.3ZM881.72 294L882.02 291.2L883.32 291.2L883.67 294ZM880.02 298.8L881.72 298.6L881.52 301.8L880.02 302.3ZM889.39 294L889.69 291.2L890.99 291.2L891.34 294ZM887.69 298.8L889.39 298.6L889.19 301.8L887.69 302.3ZM897.06 294L897.36 291.2L898.66 291.2L899.01 294ZM895.36 298.8L897.06 298.6L896.86 301.8L895.36 302.3ZM904.73 294L905.03 291.2L906.33 291.2L906.68 294ZM903.03 298.8L904.73 298.6L904.53 301.8L903.03 302.3ZM912.4 294L912.7 291.2L914 291.2L914.35 294ZM910.7 298.8L912.4 298.6L912.2 301.8L910.7 302.3Z" fill="#FFB5B8"/>
<path d="M135.93 297.6H136.83V298.8H135.93ZM137.13 320.2H138.53V322.2H137.13ZM143.6 297.6H144.5V298.8H143.6ZM144.8 320.2H146.2V322.2H144.8ZM151.27 297.6H152.17V298.8H151.27ZM152.47 320.2H153.87V322.2H152.47ZM158.94 297.6H159.84V298.8H158.94ZM160.14 320.2H161.54V322.2H160.14ZM166.61 297.6H167.51V298.8H166.61ZM167.81 320.2H169.21V322.2H167.81ZM174.28 297.6H175.18V298.8H174.28ZM175.48 320.2H176.88V322.2H175.48ZM181.95 297.6H182.85V298.8H181.95ZM183.16 320.2H184.56V322.2H183.16ZM189.63 297.6H190.53V298.8H189.63ZM190.83 320.2H192.23V322.2H190.83ZM197.3 297.6H198.2V298.8H197.3ZM198.5 320.2H199.9V322.2H198.5ZM204.97 297.6H205.87V298.8H204.97ZM206.17 320.2H207.57V322.2H206.17ZM212.64 297.6H213.54V298.8H212.64ZM213.84 320.2H215.24V322.2H213.84ZM220.31 297.6H221.21V298.8H220.31ZM221.51 320.2H222.91V322.2H221.51ZM227.98 297.6H228.88V298.8H227.98ZM229.18 320.2H230.58V322.2H229.18ZM235.65 297.6H236.55V298.8H235.65ZM236.85 320.2H238.25V322.2H236.85ZM243.32 297.6H244.22V298.8H243.32ZM244.52 320.2H245.92V322.2H244.52ZM250.99 297.6H251.89V298.8H250.99ZM252.19 320.2H253.59V322.2H252.19ZM258.67 297.6H259.57V298.8H258.67ZM259.87 320.2H261.27V322.2H259.87ZM266.34 297.6H267.24V298.8H266.34ZM267.54 320.2H268.94V322.2H267.54ZM274.01 297.6H274.91V298.8H274.01ZM275.21 320.2H276.61V322.2H275.21ZM281.68 297.6H282.58V298.8H281.68ZM282.88 320.2H284.28V322.2H282.88ZM289.35 297.6H290.25V298.8H289.35ZM290.55 320.2H291.95V322.2H290.55ZM297.02 297.6H297.92V298.8H297.02ZM298.22 320.2H299.62V322.2H298.22ZM304.69 297.6H305.59V298.8H304.69ZM305.89 320.2H307.29V322.2H305.89ZM312.36 297.6H313.26V298.8H312.36ZM313.56 320.2H314.96V322.2H313.56ZM320.03 297.6H320.93V298.8H320.03ZM321.23 320.2H322.63V322.2H321.23ZM327.7 297.6H328.6V298.8H327.7ZM328.9 320.2H330.3V322.2H328.9ZM335.38 297.6H336.28V298.8H335.38ZM336.57 320.2H337.98V322.2H336.57ZM343.05 297.6H343.95V298.8H343.05ZM344.25 320.2H345.65V322.2H344.25ZM350.72 297.6H351.62V298.8H350.72ZM351.92 320.2H353.32V322.2H351.92ZM358.39 297.6H359.29V298.8H358.39ZM359.59 320.2H360.99V322.2H359.59ZM366.06 297.6H366.96V298.8H366.06ZM367.26 320.2H368.66V322.2H367.26ZM373.73 297.6H374.63V298.8H373.73ZM374.93 320.2H376.33V322.2H374.93ZM381.4 297.6H382.3V298.8H381.4ZM382.6 320.2H384V322.2H382.6ZM389.07 297.6H389.97V298.8H389.07ZM390.27 320.2H391.67V322.2H390.27ZM396.74 297.6H397.64V298.8H396.74ZM397.94 320.2H399.34V322.2H397.94ZM404.41 297.6H405.31V298.8H404.41ZM405.61 320.2H407.01V322.2H405.61ZM412.08 297.6H412.99V298.8H412.08ZM413.28 320.2H414.69V322.2H413.28ZM419.76 297.6H420.66V298.8H419.76ZM420.96 320.2H422.36V322.2H420.96ZM427.43 297.6H428.33V298.8H427.43ZM428.63 320.2H430.03V322.2H428.63ZM435.1 297.6H436V298.8H435.1ZM436.3 320.2H437.7V322.2H436.3ZM442.77 297.6H443.67V298.8H442.77ZM443.97 320.2H445.37V322.2H443.97ZM450.44 297.6H451.34V298.8H450.44ZM451.64 320.2H453.04V322.2H451.64ZM458.11 297.6H459.01V298.8H458.11ZM459.31 320.2H460.71V322.2H459.31ZM465.78 297.6H466.68V298.8H465.78ZM466.98 320.2H468.38V322.2H466.98ZM473.45 297.6H474.35V298.8H473.45ZM474.65 320.2H476.05V322.2H474.65ZM481.12 297.6H482.02V298.8H481.12ZM482.32 320.2H483.72V322.2H482.32ZM488.8 297.6H489.7V298.8H488.8ZM490 320.2H491.4V322.2H490ZM496.47 297.6H497.37V298.8H496.47ZM497.67 320.2H499.07V322.2H497.67ZM504.14 297.6H505.04V298.8H504.14ZM505.34 320.2H506.74V322.2H505.34ZM511.81 297.6H512.71V298.8H511.81ZM513.01 320.2H514.41V322.2H513.01ZM519.48 297.6H520.38V298.8H519.48ZM520.68 320.2H522.08V322.2H520.68ZM527.15 297.6H528.05V298.8H527.15ZM528.35 320.2H529.75V322.2H528.35ZM534.82 297.6H535.72V298.8H534.82ZM536.02 320.2H537.42V322.2H536.02ZM542.49 297.6H543.39V298.8H542.49ZM543.69 320.2H545.09V322.2H543.69ZM550.16 297.6H551.06V298.8H550.16ZM551.36 320.2H552.76V322.2H551.36ZM557.83 297.6H558.73V298.8H557.83ZM559.03 320.2H560.43V322.2H559.03ZM565.51 297.6H566.41V298.8H565.51ZM566.71 320.2H568.11V322.2H566.71ZM573.18 297.6H574.08V298.8H573.18ZM574.38 320.2H575.78V322.2H574.38ZM580.85 297.6H581.75V298.8H580.85ZM582.05 320.2H583.45V322.2H582.05ZM588.52 297.6H589.42V298.8H588.52ZM589.72 320.2H591.12V322.2H589.72ZM596.19 297.6H597.09V298.8H596.19ZM597.39 320.2H598.79V322.2H597.39ZM603.86 297.6H604.76V298.8H603.86ZM605.06 320.2H606.46V322.2H605.06ZM611.53 297.6H612.43V298.8H611.53ZM612.73 320.2H614.13V322.2H612.73ZM619.2 297.6H620.1V298.8H619.2ZM620.4 320.2H621.8V322.2H620.4ZM626.87 297.6H627.77V298.8H626.87ZM628.07 320.2H629.47V322.2H628.07ZM634.54 297.6H635.44V298.8H634.54ZM635.74 320.2H637.14V322.2H635.74ZM642.22 297.6H643.12V298.8H642.22ZM643.41 320.2H644.81V322.2H643.41ZM649.89 297.6H650.79V298.8H649.89ZM651.09 320.2H652.49V322.2H651.09ZM657.56 297.6H658.46V298.8H657.56ZM658.76 320.2H660.16V322.2H658.76ZM665.23 297.6H666.13V298.8H665.23ZM666.43 320.2H667.83V322.2H666.43ZM672.9 297.6H673.8V298.8H672.9ZM674.1 320.2H675.5V322.2H674.1ZM680.57 297.6H681.47V298.8H680.57ZM681.77 320.2H683.17V322.2H681.77ZM688.24 297.6H689.14V298.8H688.24ZM689.44 320.2H690.84V322.2H689.44ZM695.91 297.6H696.81V298.8H695.91ZM697.11 320.2H698.51V322.2H697.11ZM703.58 297.6H704.48V298.8H703.58ZM704.78 320.2H706.18V322.2H704.78ZM711.25 297.6H712.15V298.8H711.25ZM712.45 320.2H713.85V322.2H712.45ZM718.93 297.6H719.83V298.8H718.93ZM720.12 320.2H721.52V322.2H720.12ZM726.6 297.6H727.5V298.8H726.6ZM727.8 320.2H729.2V322.2H727.8ZM734.27 297.6H735.17V298.8H734.27ZM735.47 320.2H736.87V322.2H735.47ZM741.94 297.6H742.84V298.8H741.94ZM743.14 320.2H744.54V322.2H743.14ZM749.61 297.6H750.51V298.8H749.61ZM750.81 320.2H752.21V322.2H750.81ZM757.28 297.6H758.18V298.8H757.28ZM758.48 320.2H759.88V322.2H758.48ZM764.95 297.6H765.85V298.8H764.95ZM766.15 320.2H767.55V322.2H766.15ZM772.62 297.6H773.52V298.8H772.62ZM773.82 320.2H775.22V322.2H773.82ZM780.29 297.6H781.19V298.8H780.29ZM781.49 320.2H782.89V322.2H781.49ZM787.96 297.6H788.86V298.8H787.96ZM789.16 320.2H790.56V322.2H789.16ZM795.63 297.6H796.53V298.8H795.63ZM796.83 320.2H798.23V322.2H796.83ZM803.31 297.6H804.21V298.8H803.31ZM804.51 320.2H805.91V322.2H804.51ZM810.98 297.6H811.88V298.8H810.98ZM812.18 320.2H813.58V322.2H812.18ZM818.65 297.6H819.55V298.8H818.65ZM819.85 320.2H821.25V322.2H819.85ZM826.32 297.6H827.22V298.8H826.32ZM827.52 320.2H828.92V322.2H827.52ZM833.99 297.6H834.89V298.8H833.99ZM835.19 320.2H836.59V322.2H835.19ZM841.66 297.6H842.56V298.8H841.66ZM842.86 320.2H844.26V322.2H842.86ZM849.33 297.6H850.23V298.8H849.33ZM850.53 320.2H851.93V322.2H850.53ZM857 297.6H857.9V298.8H857ZM858.2 320.2H859.6V322.2H858.2ZM864.67 297.6H865.57V298.8H864.67ZM865.87 320.2H867.27V322.2H865.87ZM872.35 297.6H873.25V298.8H872.35ZM873.54 320.2H874.94V322.2H873.54ZM880.02 297.6H880.92V298.8H880.02ZM881.22 320.2H882.62V322.2H881.22ZM887.69 297.6H888.59V298.8H887.69ZM888.89 320.2H890.29V322.2H888.89ZM895.36 297.6H896.26V298.8H895.36ZM896.56 320.2H897.96V322.2H896.56ZM903.03 297.6H903.93V298.8H903.03ZM904.23 320.2H905.63V322.2H904.23ZM910.7 297.6H911.6V298.8H910.7ZM911.9 320.2H913.3V322.2H911.9Z" fill="#8EBA42"/>
</g>
<path d="M132 80.5H138M906 80.5H912M132 128.5H138M906 128.5H912M132 177.5H138M906 177.5H912M132 225.5H138M906 225.5H912M132 274.5H138M906 274.5H912M132 322.5H138M906 322.5H912M132 371.5H138M906 371.5H912M138.5 74V80M138.5 372V378M291.5 74V80M291.5 372V378M444.5 74V80M444.5 372V378M598.5 74V80M598.5 372V378M751.5 74V80M751.5 372V378" stroke="#8A8A8A" stroke-width="1" fill="none"/>
<text x="126.1" y="84.2" font-size="14.4" fill="#555555" text-anchor="end" textLength="20.7" lengthAdjust="spacingAndGlyphs">1.5</text>
<text x="126.1" y="132.2" font-size="14.4" fill="#555555" text-anchor="end" textLength="20.7" lengthAdjust="spacingAndGlyphs">1.0</text>
<text x="126.1" y="181.2" font-size="14.4" fill="#555555" text-anchor="end" textLength="20.7" lengthAdjust="spacingAndGlyphs">0.5</text>
<text x="126.1" y="229.2" font-size="14.4" fill="#555555" text-anchor="end" textLength="20.7" lengthAdjust="spacingAndGlyphs">0.0</text>
<text x="126.1" y="278.2" font-size="14.4" fill="#555555" text-anchor="end" textLength="32.8" lengthAdjust="spacingAndGlyphs">−0.5</text>
<text x="126.1" y="326.2" font-size="14.4" fill="#555555" text-anchor="end" textLength="32.8" lengthAdjust="spacingAndGlyphs">−1.0</text>
<text x="126.1" y="375.2" font-size="14.4" fill="#555555" text-anchor="end" textLength="32.8" lengthAdjust="spacingAndGlyphs">−1.5</text>
<rect x="139" y="430" width="766" height="290" fill="#E5E5E5"/>
<path d="M291.5 430V720M444.5 430V720M598.5 430V720M751.5 430V720" stroke="#F6F6F6" stroke-width="1" fill="none"/>
<g clip-path="url(#c2)">
<path d="M138 475.6H139.58V486.9H143.3V475.6H147.25V486.9H150.97V475.6H154.92V486.9H158.64V475.6H162.59V486.9H166.31V475.6H170.26V486.9H173.98V475.6H177.93V486.9H181.65V475.6H185.6V486.9H189.33V475.6H193.28V486.9H197V475.6H200.95V486.9H204.67V475.6H208.62V486.9H212.34V475.6H216.29V486.9H220.01V475.6H223.96V486.9H227.68V475.6H231.63V486.9H235.35V475.6H239.3V486.9H243.02V475.6H246.97V486.9H250.69V475.6H254.64V486.9H258.36V475.6H262.31V486.9H266.04V475.6H269.99V486.9H273.71V475.6H277.66V486.9H281.38V475.6H285.33V486.9H289.05V475.6H293V486.9H296.72V475.6H300.67V486.9H304.39V475.6H308.34V486.9H312.06V475.6H316.01V486.9H319.73V475.6H323.68V486.9H327.4V475.6H331.35V486.9H335.07V475.6H339.02V486.9H342.75V475.6H346.7V486.9H350.42V475.6H354.37V486.9H358.09V475.6H362.04V486.9H365.76V475.6H369.71V486.9H373.43V475.6H377.38V486.9H381.1V475.6H385.05V486.9H388.77V475.6H392.72V486.9H396.44V475.6H400.39V486.9H404.11V475.6H408.06V486.9H411.78V475.6H415.73V486.9H419.46V475.6H423.41V486.9H427.13V475.6H431.08V486.9H434.8V475.6H438.75V486.9H442.47V475.6H446.42V486.9H450.14V475.6H454.09V486.9H457.81V475.6H461.76V486.9H465.48V475.6H469.43V486.9H473.15V475.6H477.1V486.9H480.82V475.6H484.77V486.9H488.49V475.6H492.44V486.9H496.17V475.6H500.12V486.9H503.84V475.6H507.79V486.9H511.51V475.6H515.46V486.9H519.18V475.6H523.13V486.9H526.85V475.6H530.8V486.9H534.52V475.6H538.47V486.9H542.19V475.6H546.14V486.9H549.86V475.6H553.81V486.9H557.53V475.6H561.48V486.9H565.2V475.6H569.15V486.9H572.88V475.6H576.83V486.9H580.55V475.6H584.5V486.9H588.22V475.6H592.17V486.9H595.89V475.6H599.84V486.9H603.56V475.6H607.51V486.9H611.23V475.6H615.18V486.9H618.9V475.6H622.85V486.9H626.57V475.6H630.52V486.9H634.24V475.6H638.19V486.9H641.92V475.6H645.87V486.9H649.59V475.6H653.54V486.9H657.26V475.6H661.21V486.9H664.93V475.6H668.88V486.9H672.6V475.6H676.55V486.9H680.27V475.6H684.22V486.9H687.94V475.6H691.89V486.9H695.61V475.6H699.56V486.9H703.28V475.6H707.23V486.9H710.95V475.6H714.9V486.9H718.63V475.6H722.58V486.9H726.3V475.6H730.25V486.9H733.97V475.6H737.92V486.9H741.64V475.6H745.59V486.9H749.31V475.6H753.26V486.9H756.98V475.6H760.93V486.9H764.65V475.6H768.6V486.9H772.32V475.6H776.27V486.9H779.99V475.6H783.94V486.9H787.66V475.6H791.61V486.9H795.34V475.6H799.29V486.9H803.01V475.6H806.96V486.9H810.68V475.6H814.63V486.9H818.35V475.6H822.3V486.9H826.02V475.6H829.97V486.9H833.69V475.6H837.64V486.9H841.36V475.6H845.31V486.9H849.03V475.6H852.98V486.9H856.7V475.6H860.65V486.9H864.37V475.6H868.32V486.9H872.05V475.6H876V486.9H879.72V475.6H883.67V486.9H887.39V475.6H891.34V486.9H895.06V475.6H899.01V486.9H902.73V475.6H906.68V486.9H907" fill="none" stroke="#E24A33" stroke-width="1.4" stroke-linejoin="miter"/>
<path d="M138 488.6H140.8V500.4H144.8V488.6H148.47V500.4H152.47V488.6H156.14V500.4H160.14V488.6H163.81V500.4H167.81V488.6H171.48V500.4H175.48V488.6H179.15V500.4H183.15V488.6H186.83V500.4H190.83V488.6H194.5V500.4H198.5V488.6H202.17V500.4H206.17V488.6H209.84V500.4H214.44M213.64 488.6H217.51V500.4H221.51V488.6H225.18V500.4H229.18V488.6H232.85V500.4H236.85V488.6H240.52V500.4H244.52V488.6H248.19V500.4H252.19V488.6H255.86V500.4H259.86V488.6H263.54V500.4H267.54V488.6H271.21V500.4H275.21V488.6H278.88V500.4H282.88V488.6H286.55V500.4H291.15M290.35 488.6H294.22V500.4H298.22V488.6H301.89V500.4H305.89V488.6H309.56V500.4H313.56V488.6H317.23V500.4H321.23V488.6H324.9V500.4H328.9V488.6H332.57V500.4H336.57V488.6H340.25V500.4H344.25V488.6H347.92V500.4H351.92V488.6H355.59V500.4H359.59V488.6H363.26V500.4H367.86M367.06 488.6H370.93V500.4H374.93V488.6H378.6V500.4H382.6V488.6H386.27V500.4H390.27V488.6H393.94V500.4H397.94V488.6H401.61V500.4H405.61V488.6H409.28V500.4H413.28V488.6H416.96V500.4H420.96V488.6H424.63V500.4H428.63V488.6H432.3V500.4H436.3V488.6H439.97V500.4H444.57M443.77 488.6H447.64V500.4H451.64V488.6H455.31V500.4H459.31V488.6H462.98V500.4H466.98V488.6H470.65V500.4H474.65V488.6H478.32V500.4H482.32V488.6H485.99V500.4H489.99V488.6H493.67V500.4H497.67V488.6H501.34V500.4H505.34V488.6H509.01V500.4H513.01V488.6H516.68V500.4H521.28M520.48 488.6H524.35V500.4H528.35V488.6H532.02V500.4H536.02V488.6H539.69V500.4H543.69V488.6H547.36V500.4H551.36V488.6H555.03V500.4H559.03V488.6H562.7V500.4H566.7V488.6H570.38V500.4H574.38V488.6H578.05V500.4H582.05V488.6H585.72V500.4H589.72V488.6H593.39V500.4H597.99M597.19 488.6H601.06V500.4H605.06V488.6H608.73V500.4H612.73V488.6H616.4V500.4H620.4V488.6H624.07V500.4H628.07V488.6H631.74V500.4H635.74V488.6H639.42V500.4H643.42V488.6H647.09V500.4H651.09V488.6H654.76V500.4H658.76V488.6H662.43V500.4H666.43V488.6H670.1V500.4H674.7M673.9 488.6H677.77V500.4H681.77V488.6H685.44V500.4H689.44V488.6H693.11V500.4H697.11V488.6H700.78V500.4H704.78V488.6H708.45V500.4H712.45V488.6H716.13V500.4H720.13V488.6H723.8V500.4H727.8V488.6H731.47V500.4H735.47V488.6H739.14V500.4H743.14V488.6H746.81V500.4H751.41M750.61 488.6H754.48V500.4H758.48V488.6H762.15V500.4H766.15V488.6H769.82V500.4H773.82V488.6H777.49V500.4H781.49V488.6H785.16V500.4H789.16V488.6H792.84V500.4H796.84V488.6H800.51V500.4H804.51V488.6H808.18V500.4H812.18V488.6H815.85V500.4H819.85V488.6H823.52V500.4H828.12M827.32 488.6H831.19V500.4H835.19V488.6H838.86V500.4H842.86V488.6H846.53V500.4H850.53V488.6H854.2V500.4H858.2V488.6H861.87V500.4H865.87V488.6H869.55V500.4H873.55V488.6H877.22V500.4H881.22V488.6H884.89V500.4H888.89V488.6H892.56V500.4H896.56V488.6H900.23V500.4H904.23V488.6H907" fill="none" stroke="#348ABD" stroke-width="1.4" stroke-linejoin="miter"/>
<path d="M139 512.6H905" stroke="#988ED5" stroke-width="1.4"/>
<path d="M139 514H905" stroke="#777777" stroke-width="1.4"/>
<path d="M139 526.7H905" stroke="#FBC15E" stroke-width="1.4"/>
<path d="M139 551.1H905" stroke="#8EBA42" stroke-width="1.4"/>
<path d="M139 563.9H905" stroke="#FFB5B8" stroke-width="1.4"/>
<path d="M139 576.2H905" stroke="#E24A33" stroke-width="1.4"/>
<path d="M139 577.9H905" stroke="#348ABD" stroke-width="1.4"/>
<path d="M139 590.8H905" stroke="#988ED5" stroke-width="1.4"/>
<path d="M139 614.9H905" stroke="#777777" stroke-width="1.4"/>
<path d="M139 616.4H905" stroke="#FBC15E" stroke-width="1.4"/>
<path d="M139 629.2H905" stroke="#8EBA42" stroke-width="1.4"/>
<path d="M139 641.9H905" stroke="#FFB5B8" stroke-width="1.4"/>
<path d="M139 666.4H905" stroke="#E24A33" stroke-width="1.4"/>
</g>
<path d="M138.5 423V429M138.5 721V727M291.5 423V429M291.5 721V727M444.5 423V429M444.5 721V727M598.5 423V429M598.5 721V727M751.5 423V429M751.5 721V727" stroke="#8A8A8A" stroke-width="1" fill="none"/>
<text x="138" y="742.2" font-size="14.4" fill="#555555" text-anchor="middle" textLength="75.03" lengthAdjust="spacingAndGlyphs">0.0000000</text>
<text x="291" y="742.2" font-size="14.4" fill="#555555" text-anchor="middle" textLength="75.03" lengthAdjust="spacingAndGlyphs">0.0000002</text>
<text x="444" y="742.2" font-size="14.4" fill="#555555" text-anchor="middle" textLength="75.03" lengthAdjust="spacingAndGlyphs">0.0000004</text>
<text x="598" y="742.2" font-size="14.4" fill="#555555" text-anchor="middle" textLength="75.03" lengthAdjust="spacingAndGlyphs">0.0000006</text>
<text x="751" y="742.2" font-size="14.4" fill="#555555" text-anchor="middle" textLength="75.03" lengthAdjust="spacingAndGlyphs">0.0000008</text>
<text x="904.6" y="742.2" font-size="14.4" fill="#555555" text-anchor="middle" textLength="75.03" lengthAdjust="spacingAndGlyphs">0.0000010</text>
<text x="521" y="765.8" font-size="18.5" fill="#555555" text-anchor="middle" textLength="6.53" lengthAdjust="spacingAndGlyphs">t</text>
<rect x="914" y="89" width="165" height="400" fill="#E5E5E5"/>
<path d="M925 103.75H949" stroke="#E24A33" stroke-width="1.4"/>
<text x="966.4" y="109.1" font-size="17.6" fill="#000" textLength="55.95" lengthAdjust="spacingAndGlyphs">B_extx</text>
<path d="M925 130.15H949" stroke="#348ABD" stroke-width="1.4"/>
<text x="966.4" y="135.5" font-size="17.6" fill="#000" textLength="55.95" lengthAdjust="spacingAndGlyphs">B_exty</text>
<path d="M925 156.55H949" stroke="#988ED5" stroke-width="1.4"/>
<text x="966.4" y="161.9" font-size="17.6" fill="#000" textLength="54.84" lengthAdjust="spacingAndGlyphs">B_extz</text>
<path d="M925 182.95H949" stroke="#777777" stroke-width="1.4"/>
<text x="966.4" y="188.3" font-size="17.6" fill="#000" textLength="94.66" lengthAdjust="spacingAndGlyphs">m.region1x</text>
<path d="M925 209.35H949" stroke="#FBC15E" stroke-width="1.4"/>
<text x="966.4" y="214.7" font-size="17.6" fill="#000" textLength="94.66" lengthAdjust="spacingAndGlyphs">m.region2x</text>
<path d="M925 235.75H949" stroke="#8EBA42" stroke-width="1.4"/>
<text x="966.4" y="241.1" font-size="17.6" fill="#000" textLength="94.66" lengthAdjust="spacingAndGlyphs">m.region3x</text>
<path d="M925 262.15H949" stroke="#FFB5B8" stroke-width="1.4"/>
<text x="966.4" y="267.5" font-size="17.6" fill="#000" textLength="94.66" lengthAdjust="spacingAndGlyphs">m.region4x</text>
<path d="M925 288.55H949" stroke="#E24A33" stroke-width="1.4"/>
<text x="966.4" y="293.9" font-size="17.6" fill="#000" textLength="94.66" lengthAdjust="spacingAndGlyphs">m.region5x</text>
<path d="M925 314.95H949" stroke="#348ABD" stroke-width="1.4"/>
<text x="966.4" y="320.3" font-size="17.6" fill="#000" textLength="94.66" lengthAdjust="spacingAndGlyphs">m.region6x</text>
<path d="M925 341.35H949" stroke="#988ED5" stroke-width="1.4"/>
<text x="966.4" y="346.7" font-size="17.6" fill="#000" textLength="94.66" lengthAdjust="spacingAndGlyphs">m.region7y</text>
<path d="M925 367.75H949" stroke="#777777" stroke-width="1.4"/>
<text x="966.4" y="373.1" font-size="17.6" fill="#000" textLength="94.66" lengthAdjust="spacingAndGlyphs">m.region8y</text>
<path d="M925 394.15H949" stroke="#FBC15E" stroke-width="1.4"/>
<text x="966.4" y="399.5" font-size="17.6" fill="#000" textLength="94.66" lengthAdjust="spacingAndGlyphs">m.region9y</text>
<path d="M925 420.55H949" stroke="#8EBA42" stroke-width="1.4"/>
<text x="966.4" y="425.9" font-size="17.6" fill="#000" textLength="105.25" lengthAdjust="spacingAndGlyphs">m.region10y</text>
<path d="M925 446.95H949" stroke="#FFB5B8" stroke-width="1.4"/>
<text x="966.4" y="452.3" font-size="17.6" fill="#000" textLength="105.25" lengthAdjust="spacingAndGlyphs">m.region11y</text>
<path d="M925 473.35H949" stroke="#E24A33" stroke-width="1.4"/>
<text x="966.4" y="478.7" font-size="17.6" fill="#000" textLength="105.25" lengthAdjust="spacingAndGlyphs">m.region12y</text>
</svg></body></html>
